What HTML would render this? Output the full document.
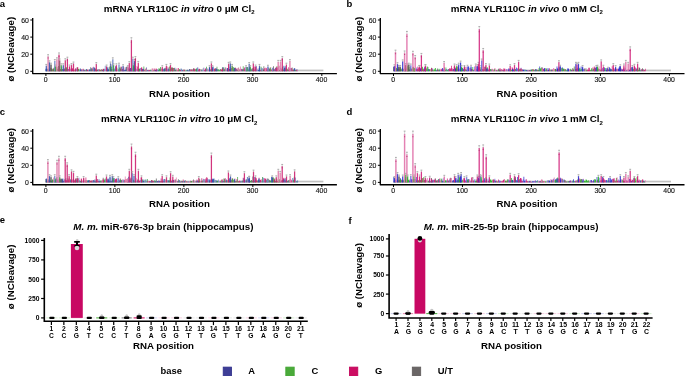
<!DOCTYPE html>
<html><head><meta charset="utf-8"><style>
html,body{margin:0;padding:0;background:#fff;}
svg{display:block;font-family:"Liberation Sans", sans-serif;will-change:transform;}
</style></head><body>
<svg width="685" height="376" viewBox="0 0 685 376">
<rect width="685" height="376" fill="#fff"/>
<text x="-0.30" y="6.90" font-size="9.5" font-weight="bold" text-anchor="start" fill="#000">a</text>
<text x="179.20" y="12.00" font-size="9.8" font-weight="bold" text-anchor="middle">mRNA YLR110C <tspan font-style="italic">in vitro</tspan> 0 μM Cl<tspan font-size="6" dy="2.3">2</tspan></text>
<text transform="translate(14.00,49.20) rotate(-90)" font-size="9.7" font-weight="bold" text-anchor="middle" x="0" y="0">ø (NCleavage)</text>
<rect x="45.60" y="69.60" width="277.78" height="1.70" fill="#c0c0c0"/>
<path d="M45.50 68.64h0.80v2.66h-0.80zM46.19 68.79h0.80v2.51h-0.80zM46.88 68.94h0.80v2.36h-0.80zM53.78 67.41h0.80v3.89h-0.80zM59.30 66.53h0.80v4.77h-0.80zM61.37 66.47h0.80v4.83h-0.80zM64.12 68.57h0.80v2.73h-0.80zM64.81 68.66h0.80v2.64h-0.80zM66.19 68.30h0.80v3.00h-0.80zM66.88 68.92h0.80v2.38h-0.80zM68.26 68.99h0.80v2.31h-0.80zM71.02 68.81h0.80v2.49h-0.80zM79.99 68.50h0.80v2.80h-0.80zM80.68 69.69h0.80v1.61h-0.80zM83.44 69.62h0.80v1.68h-0.80zM84.13 70.24h0.80v1.06h-0.80zM86.20 69.06h0.80v2.24h-0.80zM88.96 69.49h0.80v1.81h-0.80zM89.65 69.27h0.80v2.03h-0.80zM91.03 68.34h0.80v2.96h-0.80zM102.06 70.09h0.80v1.21h-0.80zM102.75 69.60h0.80v1.70h-0.80zM107.58 69.43h0.80v1.87h-0.80zM108.27 69.15h0.80v2.15h-0.80zM113.79 68.39h0.80v2.91h-0.80zM115.17 66.28h0.80v5.02h-0.80zM117.93 69.61h0.80v1.69h-0.80zM121.38 66.90h0.80v4.40h-0.80zM124.14 69.96h0.80v1.34h-0.80zM124.83 69.65h0.80v1.65h-0.80zM125.52 67.21h0.80v4.09h-0.80zM128.28 68.28h0.80v3.02h-0.80zM129.66 69.32h0.80v1.98h-0.80zM131.72 69.55h0.80v1.75h-0.80zM134.48 69.89h0.80v1.41h-0.80zM137.93 68.74h0.80v2.56h-0.80zM138.62 69.09h0.80v2.21h-0.80zM146.21 67.46h0.80v3.84h-0.80zM146.90 70.52h0.80v0.78h-0.80zM147.59 70.06h0.80v1.24h-0.80zM149.66 70.27h0.80v1.03h-0.80zM154.49 69.94h0.80v1.36h-0.80zM155.18 70.01h0.80v1.29h-0.80zM155.87 70.54h0.80v0.76h-0.80zM156.56 69.78h0.80v1.52h-0.80zM157.94 69.80h0.80v1.50h-0.80zM162.08 69.17h0.80v2.13h-0.80zM164.84 67.84h0.80v3.46h-0.80zM169.66 68.97h0.80v2.33h-0.80zM174.49 67.82h0.80v3.48h-0.80zM180.70 68.50h0.80v2.80h-0.80zM182.08 69.92h0.80v1.38h-0.80zM186.91 69.63h0.80v1.67h-0.80zM187.60 70.54h0.80v0.76h-0.80zM188.29 70.45h0.80v0.85h-0.80zM188.98 69.05h0.80v2.25h-0.80zM196.57 68.55h0.80v2.75h-0.80zM197.26 70.18h0.80v1.12h-0.80zM201.39 70.24h0.80v1.06h-0.80zM204.84 70.12h0.80v1.18h-0.80zM208.98 67.32h0.80v3.98h-0.80zM209.67 70.12h0.80v1.18h-0.80zM217.26 69.18h0.80v2.12h-0.80zM222.09 67.37h0.80v3.93h-0.80zM223.47 67.51h0.80v3.79h-0.80zM228.99 69.05h0.80v2.25h-0.80zM229.68 66.84h0.80v4.46h-0.80zM230.37 69.21h0.80v2.09h-0.80zM233.13 69.51h0.80v1.79h-0.80zM233.82 67.89h0.80v3.41h-0.80zM235.88 69.01h0.80v2.29h-0.80zM240.71 68.65h0.80v2.65h-0.80zM242.09 69.19h0.80v2.11h-0.80zM246.92 66.94h0.80v4.36h-0.80zM251.06 69.22h0.80v2.08h-0.80zM253.13 67.50h0.80v3.80h-0.80zM255.89 66.24h0.80v5.06h-0.80zM257.96 69.93h0.80v1.37h-0.80zM258.65 68.28h0.80v3.02h-0.80zM267.62 66.71h0.80v4.59h-0.80zM269.00 68.79h0.80v2.51h-0.80zM273.82 69.35h0.80v1.95h-0.80zM275.20 67.95h0.80v3.35h-0.80zM280.03 67.91h0.80v3.39h-0.80zM283.48 65.85h0.80v5.45h-0.80zM284.86 66.19h0.80v5.11h-0.80zM287.62 70.02h0.80v1.28h-0.80zM289.69 68.12h0.80v3.18h-0.80zM293.83 68.06h0.80v3.24h-0.80zM294.52 68.60h0.80v2.70h-0.80zM296.59 69.20h0.80v2.10h-0.80z" fill="#2f4aa8" fill-opacity="0.9"/>
<path d="M47.57 68.52h0.80v2.78h-0.80zM51.02 68.28h0.80v3.02h-0.80zM51.71 69.44h0.80v1.86h-0.80zM57.23 68.65h0.80v2.65h-0.80zM57.92 65.99h0.80v5.31h-0.80zM74.47 69.95h0.80v1.35h-0.80zM77.23 68.45h0.80v2.85h-0.80zM77.92 68.93h0.80v2.37h-0.80zM78.61 68.69h0.80v2.61h-0.80zM85.51 69.82h0.80v1.48h-0.80zM91.72 68.64h0.80v2.66h-0.80zM99.99 69.99h0.80v1.31h-0.80zM101.37 69.32h0.80v1.98h-0.80zM103.44 68.88h0.80v2.42h-0.80zM106.89 69.44h0.80v1.86h-0.80zM108.96 66.63h0.80v4.67h-0.80zM111.72 69.46h0.80v1.84h-0.80zM112.41 69.07h0.80v2.23h-0.80zM113.10 69.57h0.80v1.73h-0.80zM116.55 67.81h0.80v3.49h-0.80zM118.62 68.85h0.80v2.45h-0.80zM128.97 69.37h0.80v1.93h-0.80zM141.38 69.36h0.80v1.94h-0.80zM143.45 66.59h0.80v4.71h-0.80zM145.52 69.11h0.80v2.19h-0.80zM150.35 69.84h0.80v1.46h-0.80zM153.11 70.23h0.80v1.07h-0.80zM158.63 68.08h0.80v3.22h-0.80zM159.32 68.95h0.80v2.35h-0.80zM160.01 67.00h0.80v4.30h-0.80zM163.46 69.21h0.80v2.09h-0.80zM165.53 68.50h0.80v2.80h-0.80zM168.97 66.51h0.80v4.79h-0.80zM171.04 67.57h0.80v3.73h-0.80zM171.73 67.41h0.80v3.89h-0.80zM173.11 68.06h0.80v3.24h-0.80zM175.87 69.44h0.80v1.86h-0.80zM178.63 69.78h0.80v1.52h-0.80zM179.32 69.08h0.80v2.22h-0.80zM184.84 70.43h0.80v0.87h-0.80zM186.22 70.23h0.80v1.07h-0.80zM195.88 69.75h0.80v1.55h-0.80zM198.64 68.94h0.80v2.36h-0.80zM200.70 69.27h0.80v2.03h-0.80zM206.22 66.81h0.80v4.49h-0.80zM210.36 69.29h0.80v2.01h-0.80zM211.74 69.29h0.80v2.01h-0.80zM216.57 66.67h0.80v4.63h-0.80zM217.95 69.26h0.80v2.04h-0.80zM218.64 70.50h0.80v0.80h-0.80zM219.33 69.84h0.80v1.46h-0.80zM220.02 68.90h0.80v2.40h-0.80zM222.78 67.18h0.80v4.12h-0.80zM226.92 69.48h0.80v1.82h-0.80zM228.30 69.67h0.80v1.63h-0.80zM234.51 67.49h0.80v3.81h-0.80zM237.26 69.75h0.80v1.55h-0.80zM237.95 67.69h0.80v3.61h-0.80zM242.78 66.15h0.80v5.15h-0.80zM246.23 70.29h0.80v1.01h-0.80zM248.30 69.49h0.80v1.81h-0.80zM249.68 66.40h0.80v4.90h-0.80zM251.75 67.98h0.80v3.32h-0.80zM254.51 69.38h0.80v1.92h-0.80zM260.72 66.85h0.80v4.45h-0.80zM269.69 69.11h0.80v2.19h-0.80zM276.58 66.08h0.80v5.22h-0.80zM279.34 69.98h0.80v1.32h-0.80zM282.10 66.71h0.80v4.59h-0.80zM286.93 68.78h0.80v2.52h-0.80zM295.21 70.06h0.80v1.24h-0.80z" fill="#3aa03a" fill-opacity="0.9"/>
<path d="M48.26 70.17h0.80v1.13h-0.80zM54.47 70.10h0.80v1.20h-0.80zM56.54 67.06h0.80v4.24h-0.80zM60.68 69.15h0.80v2.15h-0.80zM62.06 68.97h0.80v2.33h-0.80zM76.54 67.60h0.80v3.70h-0.80zM90.34 67.16h0.80v4.14h-0.80zM95.17 68.55h0.80v2.75h-0.80zM96.55 70.32h0.80v0.98h-0.80zM97.23 69.42h0.80v1.88h-0.80zM98.61 69.34h0.80v1.96h-0.80zM126.21 66.68h0.80v4.62h-0.80zM126.90 66.75h0.80v4.55h-0.80zM135.17 68.36h0.80v2.94h-0.80zM144.83 69.40h0.80v1.90h-0.80zM160.70 68.51h0.80v2.79h-0.80zM164.15 68.57h0.80v2.73h-0.80zM167.59 70.11h0.80v1.19h-0.80zM173.80 67.89h0.80v3.41h-0.80zM175.18 69.64h0.80v1.66h-0.80zM183.46 69.44h0.80v1.86h-0.80zM189.67 68.97h0.80v2.33h-0.80zM192.43 69.26h0.80v2.04h-0.80zM193.12 68.36h0.80v2.94h-0.80zM195.19 69.14h0.80v2.16h-0.80zM211.05 69.51h0.80v1.79h-0.80zM214.50 69.42h0.80v1.88h-0.80zM215.19 68.16h0.80v3.14h-0.80zM224.16 69.28h0.80v2.02h-0.80zM224.85 67.62h0.80v3.68h-0.80zM239.33 69.58h0.80v1.72h-0.80zM243.47 68.78h0.80v2.52h-0.80zM252.44 68.75h0.80v2.55h-0.80zM259.34 67.74h0.80v3.56h-0.80zM261.41 69.38h0.80v1.92h-0.80zM262.79 69.58h0.80v1.72h-0.80zM263.48 66.21h0.80v5.09h-0.80zM266.93 69.43h0.80v1.87h-0.80zM272.44 68.55h0.80v2.75h-0.80zM273.13 66.24h0.80v5.06h-0.80zM281.41 69.51h0.80v1.79h-0.80zM282.79 69.57h0.80v1.73h-0.80zM291.76 67.40h0.80v3.90h-0.80zM293.14 69.54h0.80v1.76h-0.80z" fill="#5a5a5a" fill-opacity="0.9"/>
<path d="M48.95 69.57h0.80v1.73h-0.80zM50.33 67.74h0.80v3.56h-0.80zM52.40 69.29h0.80v2.01h-0.80zM53.09 68.57h0.80v2.73h-0.80zM55.16 69.87h0.80v1.43h-0.80zM58.61 69.44h0.80v1.86h-0.80zM59.99 68.98h0.80v2.32h-0.80zM63.43 68.98h0.80v2.32h-0.80zM71.71 68.15h0.80v3.15h-0.80zM72.40 68.57h0.80v2.73h-0.80zM73.09 70.10h0.80v1.20h-0.80zM75.16 68.13h0.80v3.17h-0.80zM81.37 69.35h0.80v1.95h-0.80zM82.75 68.85h0.80v2.45h-0.80zM84.82 70.40h0.80v0.90h-0.80zM86.89 69.80h0.80v1.50h-0.80zM87.58 69.60h0.80v1.70h-0.80zM92.41 67.51h0.80v3.79h-0.80zM94.48 68.74h0.80v2.56h-0.80zM95.86 70.06h0.80v1.24h-0.80zM99.30 69.38h0.80v1.92h-0.80zM100.68 69.62h0.80v1.68h-0.80zM110.34 68.66h0.80v2.64h-0.80zM111.03 69.04h0.80v2.26h-0.80zM115.86 67.31h0.80v3.99h-0.80zM120.00 68.84h0.80v2.46h-0.80zM120.69 66.50h0.80v4.80h-0.80zM122.07 68.90h0.80v2.40h-0.80zM123.45 67.27h0.80v4.03h-0.80zM132.41 68.23h0.80v3.07h-0.80zM133.10 67.17h0.80v4.13h-0.80zM133.79 66.40h0.80v4.90h-0.80zM137.24 66.79h0.80v4.51h-0.80zM142.07 69.26h0.80v2.04h-0.80zM142.76 69.03h0.80v2.27h-0.80zM144.14 70.13h0.80v1.17h-0.80zM148.28 70.14h0.80v1.16h-0.80zM148.97 69.95h0.80v1.35h-0.80zM153.80 68.53h0.80v2.77h-0.80zM177.25 70.31h0.80v0.99h-0.80zM177.94 67.94h0.80v3.36h-0.80zM180.01 70.03h0.80v1.27h-0.80zM182.77 70.60h0.80v0.70h-0.80zM184.15 69.87h0.80v1.43h-0.80zM190.36 70.32h0.80v0.98h-0.80zM191.05 69.37h0.80v1.93h-0.80zM191.74 70.42h0.80v0.88h-0.80zM197.95 70.25h0.80v1.05h-0.80zM204.15 70.10h0.80v1.20h-0.80zM212.43 68.48h0.80v2.82h-0.80zM220.71 69.86h0.80v1.44h-0.80zM221.40 69.43h0.80v1.87h-0.80zM227.61 68.84h0.80v2.46h-0.80zM231.06 67.99h0.80v3.31h-0.80zM235.19 67.86h0.80v3.44h-0.80zM236.57 68.24h0.80v3.06h-0.80zM241.40 68.99h0.80v2.31h-0.80zM244.16 67.49h0.80v3.81h-0.80zM244.85 69.39h0.80v1.91h-0.80zM253.82 66.45h0.80v4.85h-0.80zM260.03 70.18h0.80v1.12h-0.80zM264.17 68.23h0.80v3.07h-0.80zM265.55 69.44h0.80v1.86h-0.80zM266.24 68.03h0.80v3.27h-0.80zM268.31 67.88h0.80v3.42h-0.80zM271.06 69.62h0.80v1.68h-0.80zM271.75 69.48h0.80v1.82h-0.80zM274.51 68.82h0.80v2.48h-0.80zM277.27 67.57h0.80v3.73h-0.80zM278.65 65.85h0.80v5.45h-0.80zM284.17 69.64h0.80v1.66h-0.80zM285.55 67.93h0.80v3.37h-0.80zM288.31 67.18h0.80v4.12h-0.80zM289.00 68.92h0.80v2.38h-0.80zM291.07 68.08h0.80v3.22h-0.80zM292.45 69.77h0.80v1.53h-0.80zM295.90 69.64h0.80v1.66h-0.80z" fill="#cc1a6c" fill-opacity="0.9"/>
<path d="M49.64 69.11h0.80v2.19h-0.80zM55.85 66.47h0.80v4.83h-0.80zM65.50 67.47h0.80v3.83h-0.80zM67.57 69.44h0.80v1.86h-0.80zM68.95 66.86h0.80v4.44h-0.80zM70.33 68.55h0.80v2.75h-0.80zM73.78 69.86h0.80v1.44h-0.80zM93.79 67.21h0.80v4.09h-0.80zM105.51 69.18h0.80v2.12h-0.80zM109.65 66.48h0.80v4.82h-0.80zM117.24 70.06h0.80v1.24h-0.80zM130.35 70.06h0.80v1.24h-0.80zM136.55 66.05h0.80v5.25h-0.80zM139.31 69.54h0.80v1.76h-0.80zM140.69 67.91h0.80v3.39h-0.80zM152.42 69.93h0.80v1.37h-0.80zM161.39 69.09h0.80v2.21h-0.80zM166.90 66.44h0.80v4.86h-0.80zM168.28 67.23h0.80v4.07h-0.80zM170.35 70.19h0.80v1.11h-0.80zM172.42 69.23h0.80v2.07h-0.80zM176.56 68.10h0.80v3.20h-0.80zM193.81 70.31h0.80v0.99h-0.80zM194.50 70.05h0.80v1.25h-0.80zM200.02 69.33h0.80v1.97h-0.80zM202.77 67.99h0.80v3.31h-0.80zM207.60 68.84h0.80v2.46h-0.80zM208.29 69.83h0.80v1.47h-0.80zM213.81 69.40h0.80v1.90h-0.80zM215.88 68.23h0.80v3.07h-0.80zM225.54 67.55h0.80v3.75h-0.80zM226.23 69.83h0.80v1.47h-0.80zM231.75 65.81h0.80v5.49h-0.80zM232.44 67.23h0.80v4.07h-0.80zM238.64 69.13h0.80v2.17h-0.80zM240.02 66.47h0.80v4.83h-0.80zM245.54 66.77h0.80v4.53h-0.80zM250.37 69.26h0.80v2.04h-0.80zM255.20 68.87h0.80v2.43h-0.80zM256.58 68.36h0.80v2.94h-0.80zM262.10 69.32h0.80v1.98h-0.80zM264.86 68.37h0.80v2.93h-0.80zM270.37 66.93h0.80v4.37h-0.80zM275.89 69.04h0.80v2.26h-0.80zM280.72 67.86h0.80v3.44h-0.80zM286.24 68.64h0.80v2.66h-0.80zM297.28 70.36h0.80v0.94h-0.80z" fill="#e07aaa" fill-opacity="0.9"/>
<path d="M62.74 69.88h0.80v1.42h-0.80zM69.64 69.24h0.80v2.06h-0.80zM75.85 69.06h0.80v2.24h-0.80zM79.30 70.09h0.80v1.21h-0.80zM82.06 69.75h0.80v1.55h-0.80zM88.27 70.16h0.80v1.14h-0.80zM93.10 66.71h0.80v4.59h-0.80zM97.92 69.33h0.80v1.97h-0.80zM104.13 68.67h0.80v2.63h-0.80zM104.82 65.72h0.80v5.58h-0.80zM106.20 67.34h0.80v3.96h-0.80zM114.48 69.93h0.80v1.37h-0.80zM119.31 68.20h0.80v3.10h-0.80zM122.76 70.18h0.80v1.12h-0.80zM127.59 66.59h0.80v4.71h-0.80zM131.04 67.57h0.80v3.73h-0.80zM135.86 68.73h0.80v2.57h-0.80zM140.00 68.00h0.80v3.30h-0.80zM151.04 70.32h0.80v0.98h-0.80zM151.73 70.00h0.80v1.30h-0.80zM157.25 69.24h0.80v2.06h-0.80zM162.77 69.62h0.80v1.68h-0.80zM166.21 68.40h0.80v2.90h-0.80zM181.39 69.10h0.80v2.20h-0.80zM185.53 70.59h0.80v0.71h-0.80zM199.33 69.47h0.80v1.83h-0.80zM202.08 69.41h0.80v1.89h-0.80zM203.46 67.48h0.80v3.82h-0.80zM205.53 68.21h0.80v3.09h-0.80zM206.91 68.54h0.80v2.76h-0.80zM213.12 66.58h0.80v4.72h-0.80zM247.61 67.58h0.80v3.72h-0.80zM248.99 67.37h0.80v3.93h-0.80zM257.27 69.59h0.80v1.71h-0.80zM277.96 67.15h0.80v4.15h-0.80zM290.38 69.41h0.80v1.89h-0.80z" fill="#7088c8" fill-opacity="0.9"/>
<rect x="45.70" y="65.70" width="1.20" height="5.60" fill="#2f4aa8" fill-opacity="0.88"/>
<line x1="46.30" y1="64.50" x2="46.30" y2="66.30" stroke="#b0b0b0" stroke-width="0.5" stroke-linecap="butt"/>
<rect x="45.40" y="63.90" width="1.80" height="1.10" fill="#a8a8a8" fill-opacity="0.9"/>
<rect x="47.38" y="56.30" width="1.45" height="15.00" fill="#e07aaa" fill-opacity="0.88"/>
<line x1="48.10" y1="54.77" x2="48.10" y2="56.90" stroke="#b0b0b0" stroke-width="0.5" stroke-linecap="butt"/>
<rect x="47.20" y="54.17" width="1.80" height="1.10" fill="#a8a8a8" fill-opacity="0.9"/>
<rect x="47.50" y="57.52" width="1.20" height="0.90" fill="#b0306a" fill-opacity="0.8"/>
<rect x="48.90" y="62.20" width="1.20" height="9.10" fill="#2f4aa8" fill-opacity="0.88"/>
<line x1="49.50" y1="60.88" x2="49.50" y2="62.80" stroke="#b0b0b0" stroke-width="0.5" stroke-linecap="butt"/>
<rect x="48.60" y="60.28" width="1.80" height="1.10" fill="#a8a8a8" fill-opacity="0.9"/>
<rect x="50.20" y="64.50" width="1.60" height="6.80" fill="#5a5a5a" fill-opacity="0.88"/>
<line x1="51.00" y1="63.26" x2="51.00" y2="65.10" stroke="#b0b0b0" stroke-width="0.5" stroke-linecap="butt"/>
<rect x="50.10" y="62.66" width="1.80" height="1.10" fill="#a8a8a8" fill-opacity="0.9"/>
<rect x="52.50" y="68.60" width="1.20" height="2.70" fill="#3aa03a" fill-opacity="0.88"/>
<rect x="54.10" y="61.00" width="1.40" height="10.30" fill="#7088c8" fill-opacity="0.88"/>
<line x1="54.80" y1="59.64" x2="54.80" y2="61.60" stroke="#b0b0b0" stroke-width="0.5" stroke-linecap="butt"/>
<rect x="53.90" y="59.04" width="1.80" height="1.10" fill="#a8a8a8" fill-opacity="0.9"/>
<rect x="54.90" y="66.30" width="1.20" height="5.00" fill="#3aa03a" fill-opacity="0.88"/>
<line x1="55.50" y1="65.12" x2="55.50" y2="66.90" stroke="#b0b0b0" stroke-width="0.5" stroke-linecap="butt"/>
<rect x="54.60" y="64.52" width="1.80" height="1.10" fill="#a8a8a8" fill-opacity="0.9"/>
<rect x="56.17" y="59.30" width="1.45" height="12.00" fill="#e07aaa" fill-opacity="0.88"/>
<line x1="56.90" y1="57.88" x2="56.90" y2="59.90" stroke="#b0b0b0" stroke-width="0.5" stroke-linecap="butt"/>
<rect x="56.00" y="57.28" width="1.80" height="1.10" fill="#a8a8a8" fill-opacity="0.9"/>
<rect x="58.38" y="54.60" width="1.25" height="16.70" fill="#cc1a6c" fill-opacity="0.88"/>
<line x1="59.00" y1="53.02" x2="59.00" y2="55.20" stroke="#b0b0b0" stroke-width="0.5" stroke-linecap="butt"/>
<rect x="58.10" y="52.42" width="1.80" height="1.10" fill="#a8a8a8" fill-opacity="0.9"/>
<rect x="58.40" y="55.88" width="1.20" height="0.90" fill="#b0306a" fill-opacity="0.8"/>
<rect x="58.80" y="60.40" width="1.60" height="10.90" fill="#8a5a6a" fill-opacity="0.88"/>
<line x1="59.60" y1="59.02" x2="59.60" y2="61.00" stroke="#b0b0b0" stroke-width="0.5" stroke-linecap="butt"/>
<rect x="58.70" y="58.42" width="1.80" height="1.10" fill="#a8a8a8" fill-opacity="0.9"/>
<rect x="60.70" y="65.10" width="1.20" height="6.20" fill="#3aa03a" fill-opacity="0.88"/>
<line x1="61.30" y1="63.88" x2="61.30" y2="65.70" stroke="#b0b0b0" stroke-width="0.5" stroke-linecap="butt"/>
<rect x="60.40" y="63.28" width="1.80" height="1.10" fill="#a8a8a8" fill-opacity="0.9"/>
<rect x="62.70" y="65.10" width="1.20" height="6.20" fill="#2f4aa8" fill-opacity="0.88"/>
<line x1="63.30" y1="63.88" x2="63.30" y2="65.70" stroke="#b0b0b0" stroke-width="0.5" stroke-linecap="butt"/>
<rect x="62.40" y="63.28" width="1.80" height="1.10" fill="#a8a8a8" fill-opacity="0.9"/>
<rect x="64.67" y="60.20" width="1.25" height="11.10" fill="#cc1a6c" fill-opacity="0.88"/>
<line x1="65.30" y1="58.81" x2="65.30" y2="60.80" stroke="#b0b0b0" stroke-width="0.5" stroke-linecap="butt"/>
<rect x="64.40" y="58.21" width="1.80" height="1.10" fill="#a8a8a8" fill-opacity="0.9"/>
<rect x="65.60" y="67.20" width="1.20" height="4.10" fill="#3aa03a" fill-opacity="0.88"/>
<rect x="66.78" y="58.70" width="1.25" height="12.60" fill="#cc1a6c" fill-opacity="0.88"/>
<line x1="67.40" y1="57.26" x2="67.40" y2="59.30" stroke="#b0b0b0" stroke-width="0.5" stroke-linecap="butt"/>
<rect x="66.50" y="56.66" width="1.80" height="1.10" fill="#a8a8a8" fill-opacity="0.9"/>
<rect x="66.80" y="59.84" width="1.20" height="0.90" fill="#b0306a" fill-opacity="0.8"/>
<rect x="68.88" y="66.30" width="1.25" height="5.00" fill="#cc1a6c" fill-opacity="0.88"/>
<line x1="69.50" y1="65.12" x2="69.50" y2="66.90" stroke="#b0b0b0" stroke-width="0.5" stroke-linecap="butt"/>
<rect x="68.60" y="64.52" width="1.80" height="1.10" fill="#a8a8a8" fill-opacity="0.9"/>
<rect x="70.88" y="64.90" width="1.25" height="6.40" fill="#cc1a6c" fill-opacity="0.88"/>
<line x1="71.50" y1="63.68" x2="71.50" y2="65.50" stroke="#b0b0b0" stroke-width="0.5" stroke-linecap="butt"/>
<rect x="70.60" y="63.08" width="1.80" height="1.10" fill="#a8a8a8" fill-opacity="0.9"/>
<rect x="72.88" y="63.40" width="1.25" height="7.90" fill="#cc1a6c" fill-opacity="0.88"/>
<line x1="73.50" y1="62.12" x2="73.50" y2="64.00" stroke="#b0b0b0" stroke-width="0.5" stroke-linecap="butt"/>
<rect x="72.60" y="61.52" width="1.80" height="1.10" fill="#a8a8a8" fill-opacity="0.9"/>
<rect x="74.78" y="69.20" width="1.25" height="2.10" fill="#cc1a6c" fill-opacity="0.88"/>
<rect x="76.97" y="67.20" width="1.25" height="4.10" fill="#cc1a6c" fill-opacity="0.88"/>
<rect x="93.70" y="67.70" width="1.20" height="3.60" fill="#2f4aa8" fill-opacity="0.88"/>
<rect x="95.67" y="63.90" width="1.25" height="7.40" fill="#cc1a6c" fill-opacity="0.88"/>
<line x1="96.30" y1="62.64" x2="96.30" y2="64.50" stroke="#b0b0b0" stroke-width="0.5" stroke-linecap="butt"/>
<rect x="95.40" y="62.04" width="1.80" height="1.10" fill="#a8a8a8" fill-opacity="0.9"/>
<rect x="102.78" y="68.80" width="1.25" height="2.50" fill="#cc1a6c" fill-opacity="0.88"/>
<rect x="105.97" y="66.30" width="1.25" height="5.00" fill="#cc1a6c" fill-opacity="0.88"/>
<line x1="106.60" y1="65.12" x2="106.60" y2="66.90" stroke="#b0b0b0" stroke-width="0.5" stroke-linecap="butt"/>
<rect x="105.70" y="64.52" width="1.80" height="1.10" fill="#a8a8a8" fill-opacity="0.9"/>
<rect x="107.20" y="67.40" width="1.20" height="3.90" fill="#2f4aa8" fill-opacity="0.88"/>
<rect x="109.90" y="63.40" width="1.20" height="7.90" fill="#2f4aa8" fill-opacity="0.88"/>
<line x1="110.50" y1="62.12" x2="110.50" y2="64.00" stroke="#b0b0b0" stroke-width="0.5" stroke-linecap="butt"/>
<rect x="109.60" y="61.52" width="1.80" height="1.10" fill="#a8a8a8" fill-opacity="0.9"/>
<rect x="110.70" y="66.30" width="1.20" height="5.00" fill="#3aa03a" fill-opacity="0.88"/>
<line x1="111.30" y1="65.12" x2="111.30" y2="66.90" stroke="#b0b0b0" stroke-width="0.5" stroke-linecap="butt"/>
<rect x="110.40" y="64.52" width="1.80" height="1.10" fill="#a8a8a8" fill-opacity="0.9"/>
<rect x="112.10" y="59.30" width="1.40" height="12.00" fill="#7088c8" fill-opacity="0.88"/>
<line x1="112.80" y1="57.88" x2="112.80" y2="59.90" stroke="#b0b0b0" stroke-width="0.5" stroke-linecap="butt"/>
<rect x="111.90" y="57.28" width="1.80" height="1.10" fill="#a8a8a8" fill-opacity="0.9"/>
<rect x="113.00" y="65.10" width="1.20" height="6.20" fill="#3aa03a" fill-opacity="0.88"/>
<line x1="113.60" y1="63.88" x2="113.60" y2="65.70" stroke="#b0b0b0" stroke-width="0.5" stroke-linecap="butt"/>
<rect x="112.70" y="63.28" width="1.80" height="1.10" fill="#a8a8a8" fill-opacity="0.9"/>
<rect x="115.78" y="65.10" width="1.25" height="6.20" fill="#cc1a6c" fill-opacity="0.88"/>
<line x1="116.40" y1="63.88" x2="116.40" y2="65.70" stroke="#b0b0b0" stroke-width="0.5" stroke-linecap="butt"/>
<rect x="115.50" y="63.28" width="1.80" height="1.10" fill="#a8a8a8" fill-opacity="0.9"/>
<rect x="118.30" y="64.50" width="1.40" height="6.80" fill="#7088c8" fill-opacity="0.88"/>
<line x1="119.00" y1="63.26" x2="119.00" y2="65.10" stroke="#b0b0b0" stroke-width="0.5" stroke-linecap="butt"/>
<rect x="118.10" y="62.66" width="1.80" height="1.10" fill="#a8a8a8" fill-opacity="0.9"/>
<rect x="119.40" y="67.40" width="1.20" height="3.90" fill="#3aa03a" fill-opacity="0.88"/>
<rect x="122.50" y="66.00" width="1.20" height="5.30" fill="#2f4aa8" fill-opacity="0.88"/>
<line x1="123.10" y1="64.81" x2="123.10" y2="66.60" stroke="#b0b0b0" stroke-width="0.5" stroke-linecap="butt"/>
<rect x="122.20" y="64.21" width="1.80" height="1.10" fill="#a8a8a8" fill-opacity="0.9"/>
<rect x="127.08" y="66.90" width="1.45" height="4.40" fill="#e07aaa" fill-opacity="0.88"/>
<line x1="127.80" y1="65.75" x2="127.80" y2="67.50" stroke="#b0b0b0" stroke-width="0.5" stroke-linecap="butt"/>
<rect x="126.90" y="65.15" width="1.80" height="1.10" fill="#a8a8a8" fill-opacity="0.9"/>
<rect x="128.68" y="63.00" width="1.25" height="8.30" fill="#cc1a6c" fill-opacity="0.88"/>
<line x1="129.30" y1="61.71" x2="129.30" y2="63.60" stroke="#b0b0b0" stroke-width="0.5" stroke-linecap="butt"/>
<rect x="128.40" y="61.11" width="1.80" height="1.10" fill="#a8a8a8" fill-opacity="0.9"/>
<rect x="129.90" y="68.00" width="1.20" height="3.30" fill="#2f4aa8" fill-opacity="0.88"/>
<rect x="130.78" y="39.90" width="1.25" height="31.40" fill="#cc1a6c" fill-opacity="0.88"/>
<line x1="131.40" y1="37.80" x2="131.40" y2="40.50" stroke="#b0b0b0" stroke-width="0.5" stroke-linecap="butt"/>
<rect x="130.50" y="37.20" width="1.80" height="1.10" fill="#a8a8a8" fill-opacity="0.9"/>
<rect x="130.80" y="41.70" width="1.20" height="0.90" fill="#b0306a" fill-opacity="0.8"/>
<rect x="132.10" y="58.70" width="1.40" height="12.60" fill="#7088c8" fill-opacity="0.88"/>
<line x1="132.80" y1="57.26" x2="132.80" y2="59.30" stroke="#b0b0b0" stroke-width="0.5" stroke-linecap="butt"/>
<rect x="131.90" y="56.66" width="1.80" height="1.10" fill="#a8a8a8" fill-opacity="0.9"/>
<rect x="132.80" y="65.10" width="1.20" height="6.20" fill="#3aa03a" fill-opacity="0.88"/>
<line x1="133.40" y1="63.88" x2="133.40" y2="65.70" stroke="#b0b0b0" stroke-width="0.5" stroke-linecap="butt"/>
<rect x="132.50" y="63.28" width="1.80" height="1.10" fill="#a8a8a8" fill-opacity="0.9"/>
<rect x="133.90" y="61.00" width="1.20" height="10.30" fill="#2f4aa8" fill-opacity="0.88"/>
<line x1="134.50" y1="59.64" x2="134.50" y2="61.60" stroke="#b0b0b0" stroke-width="0.5" stroke-linecap="butt"/>
<rect x="133.60" y="59.04" width="1.80" height="1.10" fill="#a8a8a8" fill-opacity="0.9"/>
<rect x="134.78" y="58.10" width="1.25" height="13.20" fill="#cc1a6c" fill-opacity="0.88"/>
<line x1="135.40" y1="56.64" x2="135.40" y2="58.70" stroke="#b0b0b0" stroke-width="0.5" stroke-linecap="butt"/>
<rect x="134.50" y="56.04" width="1.80" height="1.10" fill="#a8a8a8" fill-opacity="0.9"/>
<rect x="134.80" y="59.26" width="1.20" height="0.90" fill="#b0306a" fill-opacity="0.8"/>
<rect x="137.68" y="62.80" width="1.25" height="8.50" fill="#cc1a6c" fill-opacity="0.88"/>
<line x1="138.30" y1="61.50" x2="138.30" y2="63.40" stroke="#b0b0b0" stroke-width="0.5" stroke-linecap="butt"/>
<rect x="137.40" y="60.90" width="1.80" height="1.10" fill="#a8a8a8" fill-opacity="0.9"/>
<rect x="138.90" y="68.60" width="1.20" height="2.70" fill="#3aa03a" fill-opacity="0.88"/>
<rect x="140.97" y="67.40" width="1.25" height="3.90" fill="#cc1a6c" fill-opacity="0.88"/>
<rect x="142.40" y="68.80" width="1.20" height="2.50" fill="#2f4aa8" fill-opacity="0.88"/>
<rect x="145.28" y="68.40" width="1.45" height="2.90" fill="#e07aaa" fill-opacity="0.88"/>
<rect x="151.68" y="68.40" width="1.45" height="2.90" fill="#e07aaa" fill-opacity="0.88"/>
<rect x="155.57" y="68.60" width="1.25" height="2.70" fill="#cc1a6c" fill-opacity="0.88"/>
<rect x="161.68" y="66.90" width="1.25" height="4.40" fill="#cc1a6c" fill-opacity="0.88"/>
<line x1="162.30" y1="65.75" x2="162.30" y2="67.50" stroke="#b0b0b0" stroke-width="0.5" stroke-linecap="butt"/>
<rect x="161.40" y="65.15" width="1.80" height="1.10" fill="#a8a8a8" fill-opacity="0.9"/>
<rect x="163.50" y="68.60" width="1.20" height="2.70" fill="#2f4aa8" fill-opacity="0.88"/>
<rect x="165.78" y="65.70" width="1.25" height="5.60" fill="#cc1a6c" fill-opacity="0.88"/>
<line x1="166.40" y1="64.50" x2="166.40" y2="66.30" stroke="#b0b0b0" stroke-width="0.5" stroke-linecap="butt"/>
<rect x="165.50" y="63.90" width="1.80" height="1.10" fill="#a8a8a8" fill-opacity="0.9"/>
<rect x="167.60" y="68.60" width="1.20" height="2.70" fill="#2f4aa8" fill-opacity="0.88"/>
<rect x="169.88" y="64.90" width="1.25" height="6.40" fill="#cc1a6c" fill-opacity="0.88"/>
<line x1="170.50" y1="63.68" x2="170.50" y2="65.50" stroke="#b0b0b0" stroke-width="0.5" stroke-linecap="butt"/>
<rect x="169.60" y="63.08" width="1.80" height="1.10" fill="#a8a8a8" fill-opacity="0.9"/>
<rect x="171.97" y="67.70" width="1.25" height="3.60" fill="#cc1a6c" fill-opacity="0.88"/>
<rect x="193.68" y="68.60" width="1.25" height="2.70" fill="#cc1a6c" fill-opacity="0.88"/>
<rect x="195.80" y="68.60" width="1.20" height="2.70" fill="#3aa03a" fill-opacity="0.88"/>
<rect x="196.90" y="67.40" width="1.40" height="3.90" fill="#7088c8" fill-opacity="0.88"/>
<rect x="198.68" y="68.80" width="1.25" height="2.50" fill="#cc1a6c" fill-opacity="0.88"/>
<rect x="204.88" y="68.60" width="1.25" height="2.70" fill="#cc1a6c" fill-opacity="0.88"/>
<rect x="208.90" y="66.90" width="1.20" height="4.40" fill="#2f4aa8" fill-opacity="0.88"/>
<line x1="209.50" y1="65.75" x2="209.50" y2="67.50" stroke="#b0b0b0" stroke-width="0.5" stroke-linecap="butt"/>
<rect x="208.60" y="65.15" width="1.80" height="1.10" fill="#a8a8a8" fill-opacity="0.9"/>
<rect x="210.78" y="63.30" width="1.25" height="8.00" fill="#cc1a6c" fill-opacity="0.88"/>
<line x1="211.40" y1="62.02" x2="211.40" y2="63.90" stroke="#b0b0b0" stroke-width="0.5" stroke-linecap="butt"/>
<rect x="210.50" y="61.42" width="1.80" height="1.10" fill="#a8a8a8" fill-opacity="0.9"/>
<rect x="211.90" y="66.90" width="1.20" height="4.40" fill="#2f4aa8" fill-opacity="0.88"/>
<line x1="212.50" y1="65.75" x2="212.50" y2="67.50" stroke="#b0b0b0" stroke-width="0.5" stroke-linecap="butt"/>
<rect x="211.60" y="65.15" width="1.80" height="1.10" fill="#a8a8a8" fill-opacity="0.9"/>
<rect x="213.88" y="68.60" width="1.25" height="2.70" fill="#cc1a6c" fill-opacity="0.88"/>
<rect x="215.70" y="68.60" width="1.20" height="2.70" fill="#2f4aa8" fill-opacity="0.88"/>
<rect x="221.78" y="68.60" width="1.25" height="2.70" fill="#cc1a6c" fill-opacity="0.88"/>
<rect x="226.80" y="68.00" width="1.20" height="3.30" fill="#2f4aa8" fill-opacity="0.88"/>
<rect x="227.97" y="63.70" width="1.25" height="7.60" fill="#cc1a6c" fill-opacity="0.88"/>
<line x1="228.60" y1="62.43" x2="228.60" y2="64.30" stroke="#b0b0b0" stroke-width="0.5" stroke-linecap="butt"/>
<rect x="227.70" y="61.83" width="1.80" height="1.10" fill="#a8a8a8" fill-opacity="0.9"/>
<rect x="229.70" y="63.30" width="1.20" height="8.00" fill="#2f4aa8" fill-opacity="0.88"/>
<line x1="230.30" y1="62.02" x2="230.30" y2="63.90" stroke="#b0b0b0" stroke-width="0.5" stroke-linecap="butt"/>
<rect x="229.40" y="61.42" width="1.80" height="1.10" fill="#a8a8a8" fill-opacity="0.9"/>
<rect x="231.50" y="65.70" width="1.20" height="5.60" fill="#3aa03a" fill-opacity="0.88"/>
<line x1="232.10" y1="64.50" x2="232.10" y2="66.30" stroke="#b0b0b0" stroke-width="0.5" stroke-linecap="butt"/>
<rect x="231.20" y="63.90" width="1.80" height="1.10" fill="#a8a8a8" fill-opacity="0.9"/>
<rect x="232.60" y="67.20" width="1.20" height="4.10" fill="#3aa03a" fill-opacity="0.88"/>
<rect x="234.20" y="68.00" width="1.20" height="3.30" fill="#2f4aa8" fill-opacity="0.88"/>
<rect x="237.78" y="67.70" width="1.45" height="3.60" fill="#e07aaa" fill-opacity="0.88"/>
<rect x="245.40" y="66.90" width="1.40" height="4.40" fill="#7088c8" fill-opacity="0.88"/>
<line x1="246.10" y1="65.75" x2="246.10" y2="67.50" stroke="#b0b0b0" stroke-width="0.5" stroke-linecap="butt"/>
<rect x="245.20" y="65.15" width="1.80" height="1.10" fill="#a8a8a8" fill-opacity="0.9"/>
<rect x="246.40" y="67.20" width="1.20" height="4.10" fill="#3aa03a" fill-opacity="0.88"/>
<rect x="248.60" y="63.90" width="1.20" height="7.40" fill="#2f4aa8" fill-opacity="0.88"/>
<line x1="249.20" y1="62.64" x2="249.20" y2="64.50" stroke="#b0b0b0" stroke-width="0.5" stroke-linecap="butt"/>
<rect x="248.30" y="62.04" width="1.80" height="1.10" fill="#a8a8a8" fill-opacity="0.9"/>
<rect x="249.70" y="66.90" width="1.20" height="4.40" fill="#3aa03a" fill-opacity="0.88"/>
<line x1="250.30" y1="65.75" x2="250.30" y2="67.50" stroke="#b0b0b0" stroke-width="0.5" stroke-linecap="butt"/>
<rect x="249.40" y="65.15" width="1.80" height="1.10" fill="#a8a8a8" fill-opacity="0.9"/>
<rect x="252.68" y="63.30" width="1.25" height="8.00" fill="#cc1a6c" fill-opacity="0.88"/>
<line x1="253.30" y1="62.02" x2="253.30" y2="63.90" stroke="#b0b0b0" stroke-width="0.5" stroke-linecap="butt"/>
<rect x="252.40" y="61.42" width="1.80" height="1.10" fill="#a8a8a8" fill-opacity="0.9"/>
<rect x="254.97" y="66.30" width="1.25" height="5.00" fill="#cc1a6c" fill-opacity="0.88"/>
<line x1="255.60" y1="65.12" x2="255.60" y2="66.90" stroke="#b0b0b0" stroke-width="0.5" stroke-linecap="butt"/>
<rect x="254.70" y="64.52" width="1.80" height="1.10" fill="#a8a8a8" fill-opacity="0.9"/>
<rect x="258.90" y="65.70" width="1.20" height="5.60" fill="#2f4aa8" fill-opacity="0.88"/>
<line x1="259.50" y1="64.50" x2="259.50" y2="66.30" stroke="#b0b0b0" stroke-width="0.5" stroke-linecap="butt"/>
<rect x="258.60" y="63.90" width="1.80" height="1.10" fill="#a8a8a8" fill-opacity="0.9"/>
<rect x="261.30" y="68.00" width="1.40" height="3.30" fill="#7088c8" fill-opacity="0.88"/>
<rect x="264.88" y="67.70" width="1.45" height="3.60" fill="#e07aaa" fill-opacity="0.88"/>
<rect x="267.20" y="66.50" width="1.40" height="4.80" fill="#7088c8" fill-opacity="0.88"/>
<line x1="267.90" y1="65.33" x2="267.90" y2="67.10" stroke="#b0b0b0" stroke-width="0.5" stroke-linecap="butt"/>
<rect x="267.00" y="64.73" width="1.80" height="1.10" fill="#a8a8a8" fill-opacity="0.9"/>
<rect x="269.60" y="67.70" width="1.20" height="3.60" fill="#3aa03a" fill-opacity="0.88"/>
<rect x="271.90" y="67.70" width="1.40" height="3.60" fill="#7088c8" fill-opacity="0.88"/>
<rect x="275.68" y="67.20" width="1.25" height="4.10" fill="#cc1a6c" fill-opacity="0.88"/>
<rect x="277.47" y="61.80" width="1.45" height="9.50" fill="#e07aaa" fill-opacity="0.88"/>
<line x1="278.20" y1="60.47" x2="278.20" y2="62.40" stroke="#b0b0b0" stroke-width="0.5" stroke-linecap="butt"/>
<rect x="277.30" y="59.87" width="1.80" height="1.10" fill="#a8a8a8" fill-opacity="0.9"/>
<rect x="279.77" y="61.80" width="1.45" height="9.50" fill="#e07aaa" fill-opacity="0.88"/>
<line x1="280.50" y1="60.47" x2="280.50" y2="62.40" stroke="#b0b0b0" stroke-width="0.5" stroke-linecap="butt"/>
<rect x="279.60" y="59.87" width="1.80" height="1.10" fill="#a8a8a8" fill-opacity="0.9"/>
<rect x="281.68" y="58.10" width="1.25" height="13.20" fill="#cc1a6c" fill-opacity="0.88"/>
<line x1="282.30" y1="56.64" x2="282.30" y2="58.70" stroke="#b0b0b0" stroke-width="0.5" stroke-linecap="butt"/>
<rect x="281.40" y="56.04" width="1.80" height="1.10" fill="#a8a8a8" fill-opacity="0.9"/>
<rect x="281.70" y="59.26" width="1.20" height="0.90" fill="#b0306a" fill-opacity="0.8"/>
<rect x="283.90" y="67.70" width="1.20" height="3.60" fill="#2f4aa8" fill-opacity="0.88"/>
<rect x="285.77" y="64.50" width="1.25" height="6.80" fill="#cc1a6c" fill-opacity="0.88"/>
<line x1="286.40" y1="63.26" x2="286.40" y2="65.10" stroke="#b0b0b0" stroke-width="0.5" stroke-linecap="butt"/>
<rect x="285.50" y="62.66" width="1.80" height="1.10" fill="#a8a8a8" fill-opacity="0.9"/>
<rect x="289.17" y="61.00" width="1.45" height="10.30" fill="#e07aaa" fill-opacity="0.88"/>
<line x1="289.90" y1="59.64" x2="289.90" y2="61.60" stroke="#b0b0b0" stroke-width="0.5" stroke-linecap="butt"/>
<rect x="289.00" y="59.04" width="1.80" height="1.10" fill="#a8a8a8" fill-opacity="0.9"/>
<path d="M32.70,17.90 L32.70,73.60 L336.90,73.60" fill="none" stroke="#000" stroke-width="1.35" stroke-linejoin="round"/>
<line x1="30.30" y1="71.30" x2="32.70" y2="71.30" stroke="#000" stroke-width="1.0" stroke-linecap="butt"/>
<text x="28.80" y="73.90" font-size="6.9" font-weight="normal" text-anchor="end" fill="#1a1a1a" stroke="#1a1a1a" stroke-width="0.15">0</text>
<line x1="30.30" y1="54.20" x2="32.70" y2="54.20" stroke="#000" stroke-width="1.0" stroke-linecap="butt"/>
<text x="28.80" y="56.80" font-size="6.9" font-weight="normal" text-anchor="end" fill="#1a1a1a" stroke="#1a1a1a" stroke-width="0.15">20</text>
<line x1="30.30" y1="37.10" x2="32.70" y2="37.10" stroke="#000" stroke-width="1.0" stroke-linecap="butt"/>
<text x="28.80" y="39.70" font-size="6.9" font-weight="normal" text-anchor="end" fill="#1a1a1a" stroke="#1a1a1a" stroke-width="0.15">40</text>
<line x1="30.30" y1="20.00" x2="32.70" y2="20.00" stroke="#000" stroke-width="1.0" stroke-linecap="butt"/>
<text x="28.80" y="22.60" font-size="6.9" font-weight="normal" text-anchor="end" fill="#1a1a1a" stroke="#1a1a1a" stroke-width="0.15">60</text>
<line x1="45.90" y1="73.60" x2="45.90" y2="76.00" stroke="#000" stroke-width="1.0" stroke-linecap="butt"/>
<text x="45.60" y="82.00" font-size="6.9" font-weight="normal" text-anchor="middle" fill="#1a1a1a" stroke="#1a1a1a" stroke-width="0.15">0</text>
<line x1="114.88" y1="73.60" x2="114.88" y2="76.00" stroke="#000" stroke-width="1.0" stroke-linecap="butt"/>
<text x="114.58" y="82.00" font-size="6.9" font-weight="normal" text-anchor="middle" fill="#1a1a1a" stroke="#1a1a1a" stroke-width="0.15">100</text>
<line x1="183.86" y1="73.60" x2="183.86" y2="76.00" stroke="#000" stroke-width="1.0" stroke-linecap="butt"/>
<text x="183.56" y="82.00" font-size="6.9" font-weight="normal" text-anchor="middle" fill="#1a1a1a" stroke="#1a1a1a" stroke-width="0.15">200</text>
<line x1="252.84" y1="73.60" x2="252.84" y2="76.00" stroke="#000" stroke-width="1.0" stroke-linecap="butt"/>
<text x="252.54" y="82.00" font-size="6.9" font-weight="normal" text-anchor="middle" fill="#1a1a1a" stroke="#1a1a1a" stroke-width="0.15">300</text>
<line x1="321.82" y1="73.60" x2="321.82" y2="76.00" stroke="#000" stroke-width="1.0" stroke-linecap="butt"/>
<text x="321.52" y="82.00" font-size="6.9" font-weight="normal" text-anchor="middle" fill="#1a1a1a" stroke="#1a1a1a" stroke-width="0.15">400</text>
<text x="179.40" y="97.40" font-size="9.7" font-weight="bold" text-anchor="middle" fill="#000">RNA position</text>
<text x="346.60" y="7.00" font-size="9.5" font-weight="bold" text-anchor="start" fill="#000">b</text>
<text x="526.80" y="12.00" font-size="9.8" font-weight="bold" text-anchor="middle">mRNA YLR110C <tspan font-style="italic">in vivo</tspan> 0 mM Cl<tspan font-size="6" dy="2.3">2</tspan></text>
<text transform="translate(361.60,49.20) rotate(-90)" font-size="9.7" font-weight="bold" text-anchor="middle" x="0" y="0">ø (NCleavage)</text>
<rect x="393.20" y="69.60" width="277.78" height="1.70" fill="#c0c0c0"/>
<path d="M393.10 66.81h0.80v4.49h-0.80zM393.79 67.48h0.80v3.82h-0.80zM401.38 69.23h0.80v2.07h-0.80zM411.72 68.43h0.80v2.87h-0.80zM424.83 68.87h0.80v2.43h-0.80zM427.59 66.96h0.80v4.34h-0.80zM436.56 70.42h0.80v0.88h-0.80zM437.25 68.44h0.80v2.86h-0.80zM448.28 69.04h0.80v2.26h-0.80zM452.42 69.46h0.80v1.84h-0.80zM463.46 69.32h0.80v1.98h-0.80zM464.15 65.51h0.80v5.79h-0.80zM477.26 69.85h0.80v1.45h-0.80zM488.29 69.67h0.80v1.63h-0.80zM489.67 69.03h0.80v2.27h-0.80zM497.95 68.85h0.80v2.45h-0.80zM507.61 69.72h0.80v1.58h-0.80zM522.09 69.60h0.80v1.70h-0.80zM526.92 70.47h0.80v0.83h-0.80zM528.99 70.00h0.80v1.30h-0.80zM535.20 69.05h0.80v2.25h-0.80zM537.96 69.97h0.80v1.33h-0.80zM546.24 68.74h0.80v2.56h-0.80zM559.34 68.35h0.80v2.95h-0.80zM564.86 69.02h0.80v2.28h-0.80zM569.69 69.38h0.80v1.92h-0.80zM572.45 67.90h0.80v3.40h-0.80zM573.14 69.55h0.80v1.75h-0.80zM576.59 69.00h0.80v2.30h-0.80zM584.17 68.48h0.80v2.82h-0.80zM585.55 68.28h0.80v3.02h-0.80zM595.21 68.06h0.80v3.24h-0.80zM596.59 67.12h0.80v4.18h-0.80zM597.97 68.46h0.80v2.84h-0.80zM601.42 69.55h0.80v1.75h-0.80zM602.80 69.38h0.80v1.92h-0.80zM605.56 69.84h0.80v1.46h-0.80zM607.63 66.79h0.80v4.51h-0.80zM608.32 69.46h0.80v1.84h-0.80zM615.91 68.72h0.80v2.58h-0.80zM628.32 69.25h0.80v2.05h-0.80zM631.08 67.29h0.80v4.01h-0.80zM638.67 67.22h0.80v4.08h-0.80zM639.36 68.02h0.80v3.28h-0.80zM642.12 68.26h0.80v3.04h-0.80zM642.81 69.29h0.80v2.01h-0.80z" fill="#5a5a5a" fill-opacity="0.9"/>
<path d="M394.48 69.11h0.80v2.19h-0.80zM415.86 68.87h0.80v2.43h-0.80zM425.52 67.56h0.80v3.74h-0.80zM446.21 69.11h0.80v2.19h-0.80zM447.59 69.31h0.80v1.99h-0.80zM457.94 66.26h0.80v5.04h-0.80zM475.88 69.10h0.80v2.20h-0.80zM491.05 69.55h0.80v1.75h-0.80zM500.02 70.17h0.80v1.13h-0.80zM506.23 68.90h0.80v2.40h-0.80zM514.50 69.10h0.80v2.20h-0.80zM516.57 67.98h0.80v3.32h-0.80zM517.26 68.85h0.80v2.45h-0.80zM520.71 67.82h0.80v3.48h-0.80zM524.16 69.75h0.80v1.55h-0.80zM525.54 69.63h0.80v1.67h-0.80zM544.86 69.80h0.80v1.50h-0.80zM560.03 65.85h0.80v5.45h-0.80zM580.04 70.07h0.80v1.23h-0.80zM582.79 68.80h0.80v2.50h-0.80zM583.48 69.14h0.80v2.16h-0.80zM602.11 68.08h0.80v3.22h-0.80zM630.39 67.91h0.80v3.39h-0.80z" fill="#6a6ae0" fill-opacity="0.9"/>
<path d="M395.17 66.30h0.80v5.00h-0.80zM402.07 67.71h0.80v3.59h-0.80zM404.83 69.27h0.80v2.03h-0.80zM408.97 69.47h0.80v1.83h-0.80zM416.55 67.50h0.80v3.80h-0.80zM419.31 69.03h0.80v2.27h-0.80zM420.00 68.41h0.80v2.89h-0.80zM420.69 67.96h0.80v3.34h-0.80zM424.14 67.34h0.80v3.96h-0.80zM428.28 69.07h0.80v2.23h-0.80zM431.73 68.47h0.80v2.83h-0.80zM435.87 70.36h0.80v0.94h-0.80zM439.32 69.70h0.80v1.60h-0.80zM442.08 68.06h0.80v3.24h-0.80zM442.77 68.81h0.80v2.49h-0.80zM443.46 70.19h0.80v1.11h-0.80zM453.11 69.00h0.80v2.30h-0.80zM456.56 68.82h0.80v2.48h-0.80zM458.63 68.54h0.80v2.76h-0.80zM462.08 68.01h0.80v3.29h-0.80zM462.77 68.81h0.80v2.49h-0.80zM466.22 69.78h0.80v1.52h-0.80zM467.60 67.10h0.80v4.20h-0.80zM468.29 66.30h0.80v5.00h-0.80zM473.12 69.93h0.80v1.37h-0.80zM474.50 66.57h0.80v4.73h-0.80zM476.57 66.82h0.80v4.48h-0.80zM477.95 67.47h0.80v3.83h-0.80zM478.64 66.91h0.80v4.39h-0.80zM480.01 69.45h0.80v1.85h-0.80zM484.84 66.82h0.80v4.48h-0.80zM486.22 68.74h0.80v2.56h-0.80zM495.88 70.45h0.80v0.85h-0.80zM499.33 69.73h0.80v1.57h-0.80zM502.78 69.96h0.80v1.34h-0.80zM508.30 68.62h0.80v2.68h-0.80zM508.99 68.68h0.80v2.62h-0.80zM513.13 69.47h0.80v1.83h-0.80zM513.82 69.66h0.80v1.64h-0.80zM515.88 67.45h0.80v3.85h-0.80zM518.64 69.52h0.80v1.78h-0.80zM522.78 69.79h0.80v1.51h-0.80zM523.47 69.56h0.80v1.74h-0.80zM526.23 69.90h0.80v1.40h-0.80zM527.61 70.48h0.80v0.82h-0.80zM530.37 69.66h0.80v1.64h-0.80zM534.51 70.34h0.80v0.96h-0.80zM535.89 69.18h0.80v2.12h-0.80zM539.34 66.48h0.80v4.82h-0.80zM542.10 67.65h0.80v3.65h-0.80zM547.62 67.94h0.80v3.36h-0.80zM548.30 69.69h0.80v1.61h-0.80zM551.06 69.86h0.80v1.44h-0.80zM555.20 68.93h0.80v2.37h-0.80zM556.58 66.39h0.80v4.91h-0.80zM557.27 69.37h0.80v1.93h-0.80zM558.65 66.69h0.80v4.61h-0.80zM562.10 67.43h0.80v3.87h-0.80zM566.24 70.46h0.80v0.84h-0.80zM567.62 68.37h0.80v2.93h-0.80zM568.31 69.23h0.80v2.07h-0.80zM571.07 69.92h0.80v1.38h-0.80zM579.35 68.47h0.80v2.83h-0.80zM580.73 66.61h0.80v4.69h-0.80zM591.76 69.85h0.80v1.45h-0.80zM594.52 69.00h0.80v2.30h-0.80zM603.49 70.23h0.80v1.07h-0.80zM604.18 67.52h0.80v3.78h-0.80zM606.25 70.06h0.80v1.24h-0.80zM609.01 67.37h0.80v3.93h-0.80zM609.70 70.20h0.80v1.10h-0.80zM611.08 69.34h0.80v1.96h-0.80zM613.84 69.61h0.80v1.69h-0.80zM617.97 68.72h0.80v2.58h-0.80zM618.66 67.41h0.80v3.89h-0.80zM619.35 66.17h0.80v5.13h-0.80zM621.42 69.16h0.80v2.14h-0.80zM622.11 69.56h0.80v1.74h-0.80zM624.18 69.75h0.80v1.55h-0.80zM624.87 67.77h0.80v3.53h-0.80zM626.25 69.97h0.80v1.33h-0.80zM627.63 70.08h0.80v1.22h-0.80zM629.01 69.95h0.80v1.35h-0.80zM629.70 69.58h0.80v1.72h-0.80zM634.53 69.44h0.80v1.86h-0.80zM635.91 68.44h0.80v2.86h-0.80zM640.74 69.72h0.80v1.58h-0.80z" fill="#2828cc" fill-opacity="0.9"/>
<path d="M395.86 69.30h0.80v2.00h-0.80zM396.55 68.88h0.80v2.42h-0.80zM397.24 69.01h0.80v2.29h-0.80zM399.31 68.66h0.80v2.64h-0.80zM405.52 69.14h0.80v2.16h-0.80zM406.90 66.42h0.80v4.88h-0.80zM408.28 67.50h0.80v3.80h-0.80zM411.03 68.67h0.80v2.63h-0.80zM413.10 66.87h0.80v4.43h-0.80zM415.17 68.89h0.80v2.41h-0.80zM417.93 67.63h0.80v3.67h-0.80zM421.38 67.19h0.80v4.11h-0.80zM423.45 69.23h0.80v2.07h-0.80zM433.11 70.47h0.80v0.83h-0.80zM437.94 69.89h0.80v1.41h-0.80zM440.70 68.83h0.80v2.47h-0.80zM441.39 69.51h0.80v1.79h-0.80zM444.15 67.33h0.80v3.97h-0.80zM444.84 69.78h0.80v1.52h-0.80zM448.97 68.36h0.80v2.94h-0.80zM449.66 69.31h0.80v1.99h-0.80zM450.35 68.35h0.80v2.95h-0.80zM451.04 65.83h0.80v5.47h-0.80zM451.73 68.19h0.80v3.11h-0.80zM453.80 66.72h0.80v4.58h-0.80zM455.18 68.63h0.80v2.67h-0.80zM455.87 67.29h0.80v4.01h-0.80zM457.25 66.69h0.80v4.61h-0.80zM460.70 68.10h0.80v3.20h-0.80zM465.53 66.63h0.80v4.67h-0.80zM471.05 68.82h0.80v2.48h-0.80zM471.74 68.90h0.80v2.40h-0.80zM479.33 67.59h0.80v3.71h-0.80zM480.70 67.15h0.80v4.15h-0.80zM482.08 68.99h0.80v2.31h-0.80zM482.77 70.37h0.80v0.93h-0.80zM484.15 66.77h0.80v4.53h-0.80zM487.60 68.56h0.80v2.74h-0.80zM488.98 69.43h0.80v1.87h-0.80zM491.74 68.86h0.80v2.44h-0.80zM493.12 70.48h0.80v0.82h-0.80zM494.50 68.35h0.80v2.95h-0.80zM496.57 69.89h0.80v1.41h-0.80zM501.40 68.88h0.80v2.42h-0.80zM502.09 70.33h0.80v0.97h-0.80zM504.16 68.94h0.80v2.36h-0.80zM505.54 70.46h0.80v0.84h-0.80zM511.75 67.26h0.80v4.04h-0.80zM512.44 68.35h0.80v2.95h-0.80zM517.95 68.36h0.80v2.94h-0.80zM521.40 69.35h0.80v1.95h-0.80zM528.30 70.49h0.80v0.81h-0.80zM529.68 70.47h0.80v0.83h-0.80zM532.44 68.93h0.80v2.37h-0.80zM533.13 69.47h0.80v1.83h-0.80zM537.27 69.81h0.80v1.49h-0.80zM542.79 68.91h0.80v2.39h-0.80zM543.48 68.71h0.80v2.59h-0.80zM546.93 70.13h0.80v1.17h-0.80zM548.99 68.35h0.80v2.95h-0.80zM550.37 70.45h0.80v0.85h-0.80zM551.75 69.28h0.80v2.02h-0.80zM554.51 68.87h0.80v2.43h-0.80zM555.89 69.81h0.80v1.49h-0.80zM560.72 68.26h0.80v3.04h-0.80zM564.17 69.33h0.80v1.97h-0.80zM571.76 69.38h0.80v1.92h-0.80zM575.21 69.07h0.80v2.23h-0.80zM577.28 67.63h0.80v3.67h-0.80zM582.11 68.50h0.80v2.80h-0.80zM586.93 69.40h0.80v1.90h-0.80zM587.62 69.90h0.80v1.40h-0.80zM588.31 67.77h0.80v3.53h-0.80zM589.00 67.79h0.80v3.51h-0.80zM589.69 69.88h0.80v1.42h-0.80zM592.45 67.43h0.80v3.87h-0.80zM593.83 66.49h0.80v4.81h-0.80zM599.35 69.02h0.80v2.28h-0.80zM606.94 68.60h0.80v2.70h-0.80zM611.77 66.22h0.80v5.08h-0.80zM613.15 67.96h0.80v3.34h-0.80zM614.53 68.16h0.80v3.14h-0.80zM615.22 68.62h0.80v2.68h-0.80zM617.28 68.68h0.80v2.62h-0.80zM620.73 68.56h0.80v2.74h-0.80zM622.80 68.75h0.80v2.55h-0.80zM623.49 67.54h0.80v3.76h-0.80zM632.46 69.28h0.80v2.02h-0.80zM633.84 66.72h0.80v4.58h-0.80zM635.22 67.46h0.80v3.84h-0.80zM641.43 69.09h0.80v2.21h-0.80zM643.50 70.21h0.80v1.09h-0.80zM644.19 70.09h0.80v1.21h-0.80zM644.88 68.74h0.80v2.56h-0.80z" fill="#d01a76" fill-opacity="0.9"/>
<path d="M397.93 69.04h0.80v2.26h-0.80zM398.62 67.54h0.80v3.76h-0.80zM400.00 68.67h0.80v2.63h-0.80zM400.69 68.41h0.80v2.89h-0.80zM402.76 68.93h0.80v2.37h-0.80zM404.14 67.82h0.80v3.48h-0.80zM407.59 67.70h0.80v3.60h-0.80zM409.66 67.04h0.80v4.26h-0.80zM410.35 68.41h0.80v2.89h-0.80zM412.41 67.00h0.80v4.30h-0.80zM413.79 70.03h0.80v1.27h-0.80zM418.62 69.29h0.80v2.01h-0.80zM422.07 66.77h0.80v4.53h-0.80zM422.76 68.44h0.80v2.86h-0.80zM426.21 68.52h0.80v2.78h-0.80zM426.90 66.43h0.80v4.87h-0.80zM428.97 69.37h0.80v1.93h-0.80zM429.66 69.14h0.80v2.16h-0.80zM431.04 67.69h0.80v3.61h-0.80zM432.42 69.70h0.80v1.60h-0.80zM433.80 68.64h0.80v2.66h-0.80zM434.49 70.29h0.80v1.01h-0.80zM435.18 68.03h0.80v3.27h-0.80zM438.63 68.80h0.80v2.50h-0.80zM445.52 67.56h0.80v3.74h-0.80zM446.90 69.88h0.80v1.42h-0.80zM454.49 67.24h0.80v4.06h-0.80zM460.01 69.93h0.80v1.37h-0.80zM461.39 67.92h0.80v3.38h-0.80zM464.84 69.29h0.80v2.01h-0.80zM469.67 67.95h0.80v3.35h-0.80zM472.43 66.89h0.80v4.41h-0.80zM483.46 69.19h0.80v2.11h-0.80zM485.53 66.59h0.80v4.71h-0.80zM486.91 67.16h0.80v4.14h-0.80zM490.36 68.93h0.80v2.37h-0.80zM493.81 69.35h0.80v1.95h-0.80zM497.26 70.74h0.80v0.56h-0.80zM498.64 69.68h0.80v1.62h-0.80zM500.71 70.72h0.80v0.58h-0.80zM503.47 70.67h0.80v0.63h-0.80zM510.37 69.28h0.80v2.02h-0.80zM511.06 70.09h0.80v1.21h-0.80zM515.19 68.99h0.80v2.31h-0.80zM519.33 68.68h0.80v2.62h-0.80zM520.02 69.24h0.80v2.06h-0.80zM524.85 69.74h0.80v1.56h-0.80zM531.06 69.47h0.80v1.83h-0.80zM531.75 69.42h0.80v1.88h-0.80zM533.82 69.83h0.80v1.47h-0.80zM536.58 70.01h0.80v1.29h-0.80zM538.65 67.99h0.80v3.31h-0.80zM540.03 68.48h0.80v2.82h-0.80zM540.72 67.99h0.80v3.31h-0.80zM541.41 67.34h0.80v3.96h-0.80zM544.17 69.90h0.80v1.40h-0.80zM545.55 67.95h0.80v3.35h-0.80zM549.68 69.39h0.80v1.91h-0.80zM552.44 70.27h0.80v1.03h-0.80zM557.96 68.64h0.80v2.66h-0.80zM561.41 67.84h0.80v3.46h-0.80zM562.79 68.85h0.80v2.45h-0.80zM563.48 68.49h0.80v2.81h-0.80zM565.55 69.67h0.80v1.63h-0.80zM566.93 70.30h0.80v1.00h-0.80zM570.38 68.86h0.80v2.44h-0.80zM573.83 66.38h0.80v4.92h-0.80zM575.90 68.69h0.80v2.61h-0.80zM577.97 69.00h0.80v2.30h-0.80zM581.42 68.91h0.80v2.39h-0.80zM586.24 70.19h0.80v1.11h-0.80zM590.38 70.06h0.80v1.24h-0.80zM591.07 68.13h0.80v3.17h-0.80zM593.14 68.75h0.80v2.55h-0.80zM597.28 69.39h0.80v1.91h-0.80zM600.04 70.25h0.80v1.05h-0.80zM604.87 67.89h0.80v3.41h-0.80zM610.39 68.96h0.80v2.34h-0.80zM612.46 69.66h0.80v1.64h-0.80zM620.04 67.18h0.80v4.12h-0.80zM625.56 70.31h0.80v0.99h-0.80zM633.15 68.71h0.80v2.59h-0.80zM636.60 68.81h0.80v2.49h-0.80zM637.29 68.42h0.80v2.88h-0.80zM637.98 70.10h0.80v1.20h-0.80zM640.05 70.54h0.80v0.76h-0.80z" fill="#22b822" fill-opacity="0.9"/>
<path d="M403.45 68.59h0.80v2.71h-0.80zM406.21 67.71h0.80v3.59h-0.80zM414.48 68.62h0.80v2.68h-0.80zM417.24 66.44h0.80v4.86h-0.80zM430.35 69.51h0.80v1.79h-0.80zM440.01 69.95h0.80v1.35h-0.80zM459.32 69.76h0.80v1.54h-0.80zM466.91 68.62h0.80v2.68h-0.80zM468.98 67.80h0.80v3.50h-0.80zM470.36 68.86h0.80v2.44h-0.80zM473.81 68.92h0.80v2.38h-0.80zM475.19 68.47h0.80v2.83h-0.80zM481.39 69.20h0.80v2.10h-0.80zM492.43 69.54h0.80v1.76h-0.80zM495.19 70.13h0.80v1.17h-0.80zM504.85 68.80h0.80v2.50h-0.80zM506.92 69.14h0.80v2.16h-0.80zM509.68 68.26h0.80v3.04h-0.80zM553.13 67.93h0.80v3.37h-0.80zM553.82 69.61h0.80v1.69h-0.80zM569.00 69.84h0.80v1.46h-0.80zM574.52 66.70h0.80v4.60h-0.80zM578.66 67.55h0.80v3.75h-0.80zM584.86 69.58h0.80v1.72h-0.80zM595.90 69.06h0.80v2.24h-0.80zM598.66 66.34h0.80v4.96h-0.80zM600.73 69.68h0.80v1.62h-0.80zM616.60 68.63h0.80v2.67h-0.80zM626.94 69.44h0.80v1.86h-0.80zM631.77 69.97h0.80v1.33h-0.80z" fill="#e070a8" fill-opacity="0.9"/>
<rect x="395.90" y="67.90" width="1.20" height="3.40" fill="#22b822" fill-opacity="0.88"/>
<rect x="398.00" y="66.70" width="1.60" height="4.60" fill="#5a5a5a" fill-opacity="0.88"/>
<line x1="398.80" y1="65.54" x2="398.80" y2="67.30" stroke="#b0b0b0" stroke-width="0.5" stroke-linecap="butt"/>
<rect x="397.90" y="64.94" width="1.80" height="1.10" fill="#a8a8a8" fill-opacity="0.9"/>
<rect x="399.40" y="66.70" width="1.60" height="4.60" fill="#5a5a5a" fill-opacity="0.88"/>
<line x1="400.20" y1="65.54" x2="400.20" y2="67.30" stroke="#b0b0b0" stroke-width="0.5" stroke-linecap="butt"/>
<rect x="399.30" y="64.94" width="1.80" height="1.10" fill="#a8a8a8" fill-opacity="0.9"/>
<rect x="404.70" y="64.90" width="1.60" height="6.40" fill="#8a4a6a" fill-opacity="0.88"/>
<line x1="405.50" y1="63.68" x2="405.50" y2="65.50" stroke="#b0b0b0" stroke-width="0.5" stroke-linecap="butt"/>
<rect x="404.60" y="63.08" width="1.80" height="1.10" fill="#a8a8a8" fill-opacity="0.9"/>
<rect x="407.00" y="65.20" width="1.20" height="6.10" fill="#22b822" fill-opacity="0.88"/>
<line x1="407.60" y1="63.99" x2="407.60" y2="65.80" stroke="#b0b0b0" stroke-width="0.5" stroke-linecap="butt"/>
<rect x="406.70" y="63.39" width="1.80" height="1.10" fill="#a8a8a8" fill-opacity="0.9"/>
<rect x="408.00" y="64.50" width="1.60" height="6.80" fill="#5a5a5a" fill-opacity="0.88"/>
<line x1="408.80" y1="63.26" x2="408.80" y2="65.10" stroke="#b0b0b0" stroke-width="0.5" stroke-linecap="butt"/>
<rect x="407.90" y="62.66" width="1.80" height="1.10" fill="#a8a8a8" fill-opacity="0.9"/>
<rect x="413.60" y="67.90" width="1.20" height="3.40" fill="#22b822" fill-opacity="0.88"/>
<rect x="416.77" y="69.10" width="1.25" height="2.20" fill="#d01a76" fill-opacity="0.88"/>
<rect x="418.68" y="66.70" width="1.25" height="4.60" fill="#d01a76" fill-opacity="0.88"/>
<line x1="419.30" y1="65.54" x2="419.30" y2="67.30" stroke="#b0b0b0" stroke-width="0.5" stroke-linecap="butt"/>
<rect x="418.40" y="64.94" width="1.80" height="1.10" fill="#a8a8a8" fill-opacity="0.9"/>
<rect x="422.77" y="69.60" width="1.25" height="1.70" fill="#d01a76" fill-opacity="0.88"/>
<rect x="424.88" y="65.90" width="1.25" height="5.40" fill="#d01a76" fill-opacity="0.88"/>
<line x1="425.50" y1="64.71" x2="425.50" y2="66.50" stroke="#b0b0b0" stroke-width="0.5" stroke-linecap="butt"/>
<rect x="424.60" y="64.11" width="1.80" height="1.10" fill="#a8a8a8" fill-opacity="0.9"/>
<rect x="393.80" y="66.00" width="1.20" height="5.30" fill="#2828cc" fill-opacity="0.88"/>
<line x1="394.40" y1="64.81" x2="394.40" y2="66.60" stroke="#b0b0b0" stroke-width="0.5" stroke-linecap="butt"/>
<rect x="393.50" y="64.21" width="1.80" height="1.10" fill="#a8a8a8" fill-opacity="0.9"/>
<rect x="394.77" y="51.90" width="1.45" height="19.40" fill="#e070a8" fill-opacity="0.88"/>
<line x1="395.50" y1="50.22" x2="395.50" y2="52.50" stroke="#b0b0b0" stroke-width="0.5" stroke-linecap="butt"/>
<rect x="394.60" y="49.62" width="1.80" height="1.10" fill="#a8a8a8" fill-opacity="0.9"/>
<rect x="394.90" y="53.28" width="1.20" height="0.90" fill="#b0306a" fill-opacity="0.8"/>
<rect x="396.90" y="64.00" width="1.20" height="7.30" fill="#2828cc" fill-opacity="0.88"/>
<line x1="397.50" y1="62.74" x2="397.50" y2="64.60" stroke="#b0b0b0" stroke-width="0.5" stroke-linecap="butt"/>
<rect x="396.60" y="62.14" width="1.80" height="1.10" fill="#a8a8a8" fill-opacity="0.9"/>
<rect x="402.10" y="61.30" width="1.20" height="10.00" fill="#2828cc" fill-opacity="0.88"/>
<line x1="402.70" y1="59.95" x2="402.70" y2="61.90" stroke="#b0b0b0" stroke-width="0.5" stroke-linecap="butt"/>
<rect x="401.80" y="59.35" width="1.80" height="1.10" fill="#a8a8a8" fill-opacity="0.9"/>
<rect x="403.88" y="52.70" width="1.45" height="18.60" fill="#e070a8" fill-opacity="0.88"/>
<line x1="404.60" y1="51.05" x2="404.60" y2="53.30" stroke="#b0b0b0" stroke-width="0.5" stroke-linecap="butt"/>
<rect x="403.70" y="50.45" width="1.80" height="1.10" fill="#a8a8a8" fill-opacity="0.9"/>
<rect x="404.00" y="54.05" width="1.20" height="0.90" fill="#b0306a" fill-opacity="0.8"/>
<rect x="406.17" y="33.80" width="1.45" height="37.50" fill="#e070a8" fill-opacity="0.88"/>
<line x1="406.90" y1="31.49" x2="406.90" y2="34.40" stroke="#b0b0b0" stroke-width="0.5" stroke-linecap="butt"/>
<rect x="406.00" y="30.89" width="1.80" height="1.10" fill="#a8a8a8" fill-opacity="0.9"/>
<rect x="406.30" y="35.81" width="1.20" height="0.90" fill="#b0306a" fill-opacity="0.8"/>
<rect x="410.10" y="65.30" width="1.40" height="6.00" fill="#6a6ae0" fill-opacity="0.88"/>
<line x1="410.80" y1="64.09" x2="410.80" y2="65.90" stroke="#b0b0b0" stroke-width="0.5" stroke-linecap="butt"/>
<rect x="409.90" y="63.49" width="1.80" height="1.10" fill="#a8a8a8" fill-opacity="0.9"/>
<rect x="412.17" y="53.00" width="1.45" height="18.30" fill="#e070a8" fill-opacity="0.88"/>
<line x1="412.90" y1="51.36" x2="412.90" y2="53.60" stroke="#b0b0b0" stroke-width="0.5" stroke-linecap="butt"/>
<rect x="412.00" y="50.76" width="1.80" height="1.10" fill="#a8a8a8" fill-opacity="0.9"/>
<rect x="412.30" y="54.34" width="1.20" height="0.90" fill="#b0306a" fill-opacity="0.8"/>
<rect x="413.70" y="68.40" width="1.20" height="2.90" fill="#22b822" fill-opacity="0.88"/>
<rect x="414.47" y="57.10" width="1.45" height="14.20" fill="#e070a8" fill-opacity="0.88"/>
<line x1="415.20" y1="55.60" x2="415.20" y2="57.70" stroke="#b0b0b0" stroke-width="0.5" stroke-linecap="butt"/>
<rect x="414.30" y="55.00" width="1.80" height="1.10" fill="#a8a8a8" fill-opacity="0.9"/>
<rect x="414.60" y="58.30" width="1.20" height="0.90" fill="#b0306a" fill-opacity="0.8"/>
<rect x="418.88" y="66.80" width="1.25" height="4.50" fill="#d01a76" fill-opacity="0.88"/>
<line x1="419.50" y1="65.64" x2="419.50" y2="67.40" stroke="#b0b0b0" stroke-width="0.5" stroke-linecap="butt"/>
<rect x="418.60" y="65.04" width="1.80" height="1.10" fill="#a8a8a8" fill-opacity="0.9"/>
<rect x="420.77" y="55.10" width="1.25" height="16.20" fill="#d01a76" fill-opacity="0.88"/>
<line x1="421.40" y1="53.53" x2="421.40" y2="55.70" stroke="#b0b0b0" stroke-width="0.5" stroke-linecap="butt"/>
<rect x="420.50" y="52.93" width="1.80" height="1.10" fill="#a8a8a8" fill-opacity="0.9"/>
<rect x="420.80" y="56.37" width="1.20" height="0.90" fill="#b0306a" fill-opacity="0.8"/>
<rect x="424.77" y="66.00" width="1.25" height="5.30" fill="#d01a76" fill-opacity="0.88"/>
<line x1="425.40" y1="64.81" x2="425.40" y2="66.60" stroke="#b0b0b0" stroke-width="0.5" stroke-linecap="butt"/>
<rect x="424.50" y="64.21" width="1.80" height="1.10" fill="#a8a8a8" fill-opacity="0.9"/>
<rect x="430.98" y="68.10" width="1.25" height="3.20" fill="#d01a76" fill-opacity="0.88"/>
<rect x="443.38" y="62.90" width="1.45" height="8.40" fill="#e070a8" fill-opacity="0.88"/>
<line x1="444.10" y1="61.61" x2="444.10" y2="63.50" stroke="#b0b0b0" stroke-width="0.5" stroke-linecap="butt"/>
<rect x="443.20" y="61.01" width="1.80" height="1.10" fill="#a8a8a8" fill-opacity="0.9"/>
<rect x="453.88" y="65.30" width="1.25" height="6.00" fill="#d01a76" fill-opacity="0.88"/>
<line x1="454.50" y1="64.09" x2="454.50" y2="65.90" stroke="#b0b0b0" stroke-width="0.5" stroke-linecap="butt"/>
<rect x="453.60" y="63.49" width="1.80" height="1.10" fill="#a8a8a8" fill-opacity="0.9"/>
<rect x="455.00" y="68.40" width="1.20" height="2.90" fill="#2828cc" fill-opacity="0.88"/>
<rect x="456.10" y="66.00" width="1.20" height="5.30" fill="#22b822" fill-opacity="0.88"/>
<line x1="456.70" y1="64.81" x2="456.70" y2="66.60" stroke="#b0b0b0" stroke-width="0.5" stroke-linecap="butt"/>
<rect x="455.80" y="64.21" width="1.80" height="1.10" fill="#a8a8a8" fill-opacity="0.9"/>
<rect x="458.10" y="64.50" width="1.20" height="6.80" fill="#2828cc" fill-opacity="0.88"/>
<line x1="458.70" y1="63.26" x2="458.70" y2="65.10" stroke="#b0b0b0" stroke-width="0.5" stroke-linecap="butt"/>
<rect x="457.80" y="62.66" width="1.80" height="1.10" fill="#a8a8a8" fill-opacity="0.9"/>
<rect x="460.00" y="62.50" width="1.20" height="8.80" fill="#2828cc" fill-opacity="0.88"/>
<line x1="460.60" y1="61.19" x2="460.60" y2="63.10" stroke="#b0b0b0" stroke-width="0.5" stroke-linecap="butt"/>
<rect x="459.70" y="60.59" width="1.80" height="1.10" fill="#a8a8a8" fill-opacity="0.9"/>
<rect x="461.00" y="66.80" width="1.20" height="4.50" fill="#22b822" fill-opacity="0.88"/>
<line x1="461.60" y1="65.64" x2="461.60" y2="67.40" stroke="#b0b0b0" stroke-width="0.5" stroke-linecap="butt"/>
<rect x="460.70" y="65.04" width="1.80" height="1.10" fill="#a8a8a8" fill-opacity="0.9"/>
<rect x="463.77" y="66.80" width="1.25" height="4.50" fill="#d01a76" fill-opacity="0.88"/>
<line x1="464.40" y1="65.64" x2="464.40" y2="67.40" stroke="#b0b0b0" stroke-width="0.5" stroke-linecap="butt"/>
<rect x="463.50" y="65.04" width="1.80" height="1.10" fill="#a8a8a8" fill-opacity="0.9"/>
<rect x="466.80" y="66.50" width="1.40" height="4.80" fill="#6a6ae0" fill-opacity="0.88"/>
<line x1="467.50" y1="65.33" x2="467.50" y2="67.10" stroke="#b0b0b0" stroke-width="0.5" stroke-linecap="butt"/>
<rect x="466.60" y="64.73" width="1.80" height="1.10" fill="#a8a8a8" fill-opacity="0.9"/>
<rect x="470.40" y="66.50" width="1.20" height="4.80" fill="#2828cc" fill-opacity="0.88"/>
<line x1="471.00" y1="65.33" x2="471.00" y2="67.10" stroke="#b0b0b0" stroke-width="0.5" stroke-linecap="butt"/>
<rect x="470.10" y="64.73" width="1.80" height="1.10" fill="#a8a8a8" fill-opacity="0.9"/>
<rect x="474.97" y="65.30" width="1.45" height="6.00" fill="#e070a8" fill-opacity="0.88"/>
<line x1="475.70" y1="64.09" x2="475.70" y2="65.90" stroke="#b0b0b0" stroke-width="0.5" stroke-linecap="butt"/>
<rect x="474.80" y="63.49" width="1.80" height="1.10" fill="#a8a8a8" fill-opacity="0.9"/>
<rect x="476.70" y="66.00" width="1.20" height="5.30" fill="#2828cc" fill-opacity="0.88"/>
<line x1="477.30" y1="64.81" x2="477.30" y2="66.60" stroke="#b0b0b0" stroke-width="0.5" stroke-linecap="butt"/>
<rect x="476.40" y="64.21" width="1.80" height="1.10" fill="#a8a8a8" fill-opacity="0.9"/>
<rect x="477.88" y="63.70" width="1.25" height="7.60" fill="#d01a76" fill-opacity="0.88"/>
<line x1="478.50" y1="62.43" x2="478.50" y2="64.30" stroke="#b0b0b0" stroke-width="0.5" stroke-linecap="butt"/>
<rect x="477.60" y="61.83" width="1.80" height="1.10" fill="#a8a8a8" fill-opacity="0.9"/>
<rect x="478.68" y="29.10" width="1.25" height="42.20" fill="#d01a76" fill-opacity="0.88"/>
<line x1="479.30" y1="26.62" x2="479.30" y2="29.70" stroke="#b0b0b0" stroke-width="0.5" stroke-linecap="butt"/>
<rect x="478.40" y="26.02" width="1.80" height="1.10" fill="#a8a8a8" fill-opacity="0.9"/>
<rect x="478.70" y="31.28" width="1.20" height="0.90" fill="#b0306a" fill-opacity="0.8"/>
<rect x="480.60" y="66.80" width="1.20" height="4.50" fill="#22b822" fill-opacity="0.88"/>
<line x1="481.20" y1="65.64" x2="481.20" y2="67.40" stroke="#b0b0b0" stroke-width="0.5" stroke-linecap="butt"/>
<rect x="480.30" y="65.04" width="1.80" height="1.10" fill="#a8a8a8" fill-opacity="0.9"/>
<rect x="481.00" y="60.50" width="1.40" height="10.80" fill="#6a6ae0" fill-opacity="0.88"/>
<line x1="481.70" y1="59.12" x2="481.70" y2="61.10" stroke="#b0b0b0" stroke-width="0.5" stroke-linecap="butt"/>
<rect x="480.80" y="58.52" width="1.80" height="1.10" fill="#a8a8a8" fill-opacity="0.9"/>
<rect x="482.57" y="50.30" width="1.25" height="21.00" fill="#d01a76" fill-opacity="0.88"/>
<line x1="483.20" y1="48.56" x2="483.20" y2="50.90" stroke="#b0b0b0" stroke-width="0.5" stroke-linecap="butt"/>
<rect x="482.30" y="47.96" width="1.80" height="1.10" fill="#a8a8a8" fill-opacity="0.9"/>
<rect x="482.60" y="51.73" width="1.20" height="0.90" fill="#b0306a" fill-opacity="0.8"/>
<rect x="485.27" y="64.90" width="1.25" height="6.40" fill="#d01a76" fill-opacity="0.88"/>
<line x1="485.90" y1="63.68" x2="485.90" y2="65.50" stroke="#b0b0b0" stroke-width="0.5" stroke-linecap="butt"/>
<rect x="485.00" y="63.08" width="1.80" height="1.10" fill="#a8a8a8" fill-opacity="0.9"/>
<rect x="486.40" y="68.40" width="1.20" height="2.90" fill="#2828cc" fill-opacity="0.88"/>
<rect x="488.77" y="65.30" width="1.25" height="6.00" fill="#d01a76" fill-opacity="0.88"/>
<line x1="489.40" y1="64.09" x2="489.40" y2="65.90" stroke="#b0b0b0" stroke-width="0.5" stroke-linecap="butt"/>
<rect x="488.50" y="63.49" width="1.80" height="1.10" fill="#a8a8a8" fill-opacity="0.9"/>
<rect x="499.38" y="68.40" width="1.25" height="2.90" fill="#d01a76" fill-opacity="0.88"/>
<rect x="503.38" y="68.40" width="1.25" height="2.90" fill="#d01a76" fill-opacity="0.88"/>
<rect x="509.57" y="66.00" width="1.25" height="5.30" fill="#d01a76" fill-opacity="0.88"/>
<line x1="510.20" y1="64.81" x2="510.20" y2="66.60" stroke="#b0b0b0" stroke-width="0.5" stroke-linecap="butt"/>
<rect x="509.30" y="64.21" width="1.80" height="1.10" fill="#a8a8a8" fill-opacity="0.9"/>
<rect x="512.00" y="69.20" width="1.20" height="2.10" fill="#2828cc" fill-opacity="0.88"/>
<rect x="513.88" y="64.90" width="1.25" height="6.40" fill="#d01a76" fill-opacity="0.88"/>
<line x1="514.50" y1="63.68" x2="514.50" y2="65.50" stroke="#b0b0b0" stroke-width="0.5" stroke-linecap="butt"/>
<rect x="513.60" y="63.08" width="1.80" height="1.10" fill="#a8a8a8" fill-opacity="0.9"/>
<rect x="517.98" y="61.80" width="1.25" height="9.50" fill="#d01a76" fill-opacity="0.88"/>
<line x1="518.60" y1="60.47" x2="518.60" y2="62.40" stroke="#b0b0b0" stroke-width="0.5" stroke-linecap="butt"/>
<rect x="517.70" y="59.87" width="1.80" height="1.10" fill="#a8a8a8" fill-opacity="0.9"/>
<rect x="520.27" y="68.40" width="1.25" height="2.90" fill="#d01a76" fill-opacity="0.88"/>
<rect x="541.38" y="67.60" width="1.45" height="3.70" fill="#e070a8" fill-opacity="0.88"/>
<rect x="543.90" y="68.10" width="1.20" height="3.20" fill="#2828cc" fill-opacity="0.88"/>
<rect x="554.90" y="69.20" width="1.20" height="2.10" fill="#22b822" fill-opacity="0.88"/>
<rect x="556.90" y="68.40" width="1.20" height="2.90" fill="#2828cc" fill-opacity="0.88"/>
<rect x="558.27" y="62.10" width="1.25" height="9.20" fill="#d01a76" fill-opacity="0.88"/>
<line x1="558.90" y1="60.78" x2="558.90" y2="62.70" stroke="#b0b0b0" stroke-width="0.5" stroke-linecap="butt"/>
<rect x="558.00" y="60.18" width="1.80" height="1.10" fill="#a8a8a8" fill-opacity="0.9"/>
<rect x="559.60" y="66.50" width="1.20" height="4.80" fill="#2828cc" fill-opacity="0.88"/>
<line x1="560.20" y1="65.33" x2="560.20" y2="67.10" stroke="#b0b0b0" stroke-width="0.5" stroke-linecap="butt"/>
<rect x="559.30" y="64.73" width="1.80" height="1.10" fill="#a8a8a8" fill-opacity="0.9"/>
<rect x="567.40" y="68.70" width="1.20" height="2.60" fill="#2828cc" fill-opacity="0.88"/>
<rect x="575.30" y="63.70" width="1.20" height="7.60" fill="#2828cc" fill-opacity="0.88"/>
<line x1="575.90" y1="62.43" x2="575.90" y2="64.30" stroke="#b0b0b0" stroke-width="0.5" stroke-linecap="butt"/>
<rect x="575.00" y="61.83" width="1.80" height="1.10" fill="#a8a8a8" fill-opacity="0.9"/>
<rect x="576.38" y="64.50" width="1.25" height="6.80" fill="#d01a76" fill-opacity="0.88"/>
<line x1="577.00" y1="63.26" x2="577.00" y2="65.10" stroke="#b0b0b0" stroke-width="0.5" stroke-linecap="butt"/>
<rect x="576.10" y="62.66" width="1.80" height="1.10" fill="#a8a8a8" fill-opacity="0.9"/>
<rect x="577.90" y="63.70" width="1.20" height="7.60" fill="#2828cc" fill-opacity="0.88"/>
<line x1="578.50" y1="62.43" x2="578.50" y2="64.30" stroke="#b0b0b0" stroke-width="0.5" stroke-linecap="butt"/>
<rect x="577.60" y="61.83" width="1.80" height="1.10" fill="#a8a8a8" fill-opacity="0.9"/>
<rect x="579.20" y="68.40" width="1.20" height="2.90" fill="#22b822" fill-opacity="0.88"/>
<rect x="582.00" y="66.80" width="1.20" height="4.50" fill="#2828cc" fill-opacity="0.88"/>
<line x1="582.60" y1="65.64" x2="582.60" y2="67.40" stroke="#b0b0b0" stroke-width="0.5" stroke-linecap="butt"/>
<rect x="581.70" y="65.04" width="1.80" height="1.10" fill="#a8a8a8" fill-opacity="0.9"/>
<rect x="594.08" y="67.60" width="1.25" height="3.70" fill="#d01a76" fill-opacity="0.88"/>
<rect x="595.70" y="66.80" width="1.20" height="4.50" fill="#2828cc" fill-opacity="0.88"/>
<line x1="596.30" y1="65.64" x2="596.30" y2="67.40" stroke="#b0b0b0" stroke-width="0.5" stroke-linecap="butt"/>
<rect x="595.40" y="65.04" width="1.80" height="1.10" fill="#a8a8a8" fill-opacity="0.9"/>
<rect x="596.90" y="66.50" width="1.20" height="4.80" fill="#22b822" fill-opacity="0.88"/>
<line x1="597.50" y1="65.33" x2="597.50" y2="67.10" stroke="#b0b0b0" stroke-width="0.5" stroke-linecap="butt"/>
<rect x="596.60" y="64.73" width="1.80" height="1.10" fill="#a8a8a8" fill-opacity="0.9"/>
<rect x="600.58" y="61.30" width="1.25" height="10.00" fill="#d01a76" fill-opacity="0.88"/>
<line x1="601.20" y1="59.95" x2="601.20" y2="61.90" stroke="#b0b0b0" stroke-width="0.5" stroke-linecap="butt"/>
<rect x="600.30" y="59.35" width="1.80" height="1.10" fill="#a8a8a8" fill-opacity="0.9"/>
<rect x="602.77" y="66.50" width="1.25" height="4.80" fill="#d01a76" fill-opacity="0.88"/>
<line x1="603.40" y1="65.33" x2="603.40" y2="67.10" stroke="#b0b0b0" stroke-width="0.5" stroke-linecap="butt"/>
<rect x="602.50" y="64.73" width="1.80" height="1.10" fill="#a8a8a8" fill-opacity="0.9"/>
<rect x="606.40" y="68.10" width="1.20" height="3.20" fill="#2828cc" fill-opacity="0.88"/>
<rect x="609.50" y="68.40" width="1.20" height="2.90" fill="#2828cc" fill-opacity="0.88"/>
<rect x="612.67" y="64.90" width="1.25" height="6.40" fill="#d01a76" fill-opacity="0.88"/>
<line x1="613.30" y1="63.68" x2="613.30" y2="65.50" stroke="#b0b0b0" stroke-width="0.5" stroke-linecap="butt"/>
<rect x="612.40" y="63.08" width="1.80" height="1.10" fill="#a8a8a8" fill-opacity="0.9"/>
<rect x="615.00" y="66.80" width="1.20" height="4.50" fill="#2828cc" fill-opacity="0.88"/>
<line x1="615.60" y1="65.64" x2="615.60" y2="67.40" stroke="#b0b0b0" stroke-width="0.5" stroke-linecap="butt"/>
<rect x="614.70" y="65.04" width="1.80" height="1.10" fill="#a8a8a8" fill-opacity="0.9"/>
<rect x="619.70" y="66.00" width="1.20" height="5.30" fill="#2828cc" fill-opacity="0.88"/>
<line x1="620.30" y1="64.81" x2="620.30" y2="66.60" stroke="#b0b0b0" stroke-width="0.5" stroke-linecap="butt"/>
<rect x="619.40" y="64.21" width="1.80" height="1.10" fill="#a8a8a8" fill-opacity="0.9"/>
<rect x="623.27" y="65.30" width="1.25" height="6.00" fill="#d01a76" fill-opacity="0.88"/>
<line x1="623.90" y1="64.09" x2="623.90" y2="65.90" stroke="#b0b0b0" stroke-width="0.5" stroke-linecap="butt"/>
<rect x="623.00" y="63.49" width="1.80" height="1.10" fill="#a8a8a8" fill-opacity="0.9"/>
<rect x="625.07" y="61.80" width="1.45" height="9.50" fill="#e070a8" fill-opacity="0.88"/>
<line x1="625.80" y1="60.47" x2="625.80" y2="62.40" stroke="#b0b0b0" stroke-width="0.5" stroke-linecap="butt"/>
<rect x="624.90" y="59.87" width="1.80" height="1.10" fill="#a8a8a8" fill-opacity="0.9"/>
<rect x="627.48" y="63.70" width="1.45" height="7.60" fill="#e070a8" fill-opacity="0.88"/>
<line x1="628.20" y1="62.43" x2="628.20" y2="64.30" stroke="#b0b0b0" stroke-width="0.5" stroke-linecap="butt"/>
<rect x="627.30" y="61.83" width="1.80" height="1.10" fill="#a8a8a8" fill-opacity="0.9"/>
<rect x="629.58" y="48.70" width="1.25" height="22.60" fill="#d01a76" fill-opacity="0.88"/>
<line x1="630.20" y1="46.91" x2="630.20" y2="49.30" stroke="#b0b0b0" stroke-width="0.5" stroke-linecap="butt"/>
<rect x="629.30" y="46.31" width="1.80" height="1.10" fill="#a8a8a8" fill-opacity="0.9"/>
<rect x="629.60" y="50.19" width="1.20" height="0.90" fill="#b0306a" fill-opacity="0.8"/>
<rect x="631.80" y="66.80" width="1.20" height="4.50" fill="#2828cc" fill-opacity="0.88"/>
<line x1="632.40" y1="65.64" x2="632.40" y2="67.40" stroke="#b0b0b0" stroke-width="0.5" stroke-linecap="butt"/>
<rect x="631.50" y="65.04" width="1.80" height="1.10" fill="#a8a8a8" fill-opacity="0.9"/>
<rect x="633.77" y="65.60" width="1.25" height="5.70" fill="#d01a76" fill-opacity="0.88"/>
<line x1="634.40" y1="64.40" x2="634.40" y2="66.20" stroke="#b0b0b0" stroke-width="0.5" stroke-linecap="butt"/>
<rect x="633.50" y="63.80" width="1.80" height="1.10" fill="#a8a8a8" fill-opacity="0.9"/>
<rect x="636.98" y="63.70" width="1.25" height="7.60" fill="#d01a76" fill-opacity="0.88"/>
<line x1="637.60" y1="62.43" x2="637.60" y2="64.30" stroke="#b0b0b0" stroke-width="0.5" stroke-linecap="butt"/>
<rect x="636.70" y="61.83" width="1.80" height="1.10" fill="#a8a8a8" fill-opacity="0.9"/>
<path d="M380.30,17.90 L380.30,73.60 L684.50,73.60" fill="none" stroke="#000" stroke-width="1.35" stroke-linejoin="round"/>
<line x1="377.90" y1="71.30" x2="380.30" y2="71.30" stroke="#000" stroke-width="1.0" stroke-linecap="butt"/>
<text x="376.40" y="73.90" font-size="6.9" font-weight="normal" text-anchor="end" fill="#1a1a1a" stroke="#1a1a1a" stroke-width="0.15">0</text>
<line x1="377.90" y1="54.20" x2="380.30" y2="54.20" stroke="#000" stroke-width="1.0" stroke-linecap="butt"/>
<text x="376.40" y="56.80" font-size="6.9" font-weight="normal" text-anchor="end" fill="#1a1a1a" stroke="#1a1a1a" stroke-width="0.15">20</text>
<line x1="377.90" y1="37.10" x2="380.30" y2="37.10" stroke="#000" stroke-width="1.0" stroke-linecap="butt"/>
<text x="376.40" y="39.70" font-size="6.9" font-weight="normal" text-anchor="end" fill="#1a1a1a" stroke="#1a1a1a" stroke-width="0.15">40</text>
<line x1="377.90" y1="20.00" x2="380.30" y2="20.00" stroke="#000" stroke-width="1.0" stroke-linecap="butt"/>
<text x="376.40" y="22.60" font-size="6.9" font-weight="normal" text-anchor="end" fill="#1a1a1a" stroke="#1a1a1a" stroke-width="0.15">60</text>
<line x1="393.50" y1="73.60" x2="393.50" y2="76.00" stroke="#000" stroke-width="1.0" stroke-linecap="butt"/>
<text x="393.20" y="82.00" font-size="6.9" font-weight="normal" text-anchor="middle" fill="#1a1a1a" stroke="#1a1a1a" stroke-width="0.15">0</text>
<line x1="462.48" y1="73.60" x2="462.48" y2="76.00" stroke="#000" stroke-width="1.0" stroke-linecap="butt"/>
<text x="462.18" y="82.00" font-size="6.9" font-weight="normal" text-anchor="middle" fill="#1a1a1a" stroke="#1a1a1a" stroke-width="0.15">100</text>
<line x1="531.46" y1="73.60" x2="531.46" y2="76.00" stroke="#000" stroke-width="1.0" stroke-linecap="butt"/>
<text x="531.16" y="82.00" font-size="6.9" font-weight="normal" text-anchor="middle" fill="#1a1a1a" stroke="#1a1a1a" stroke-width="0.15">200</text>
<line x1="600.44" y1="73.60" x2="600.44" y2="76.00" stroke="#000" stroke-width="1.0" stroke-linecap="butt"/>
<text x="600.14" y="82.00" font-size="6.9" font-weight="normal" text-anchor="middle" fill="#1a1a1a" stroke="#1a1a1a" stroke-width="0.15">300</text>
<line x1="669.42" y1="73.60" x2="669.42" y2="76.00" stroke="#000" stroke-width="1.0" stroke-linecap="butt"/>
<text x="669.12" y="82.00" font-size="6.9" font-weight="normal" text-anchor="middle" fill="#1a1a1a" stroke="#1a1a1a" stroke-width="0.15">400</text>
<text x="527.00" y="97.00" font-size="9.7" font-weight="bold" text-anchor="middle" fill="#000">RNA position</text>
<text x="-0.30" y="114.60" font-size="9.5" font-weight="bold" text-anchor="start" fill="#000">c</text>
<text x="179.20" y="122.32" font-size="9.8" font-weight="bold" text-anchor="middle">mRNA YLR110C <tspan font-style="italic">in vitro</tspan> 10 μM Cl<tspan font-size="6" dy="2.3">2</tspan></text>
<text transform="translate(14.00,160.30) rotate(-90)" font-size="9.7" font-weight="bold" text-anchor="middle" x="0" y="0">ø (NCleavage)</text>
<rect x="45.60" y="180.70" width="277.78" height="1.70" fill="#c0c0c0"/>
<path d="M45.50 178.90h0.80v3.50h-0.80zM52.40 180.15h0.80v2.25h-0.80zM61.37 178.90h0.80v3.50h-0.80zM65.50 178.31h0.80v4.09h-0.80zM71.02 179.77h0.80v2.63h-0.80zM74.47 180.19h0.80v2.21h-0.80zM79.30 180.17h0.80v2.23h-0.80zM88.96 179.93h0.80v2.47h-0.80zM91.03 180.72h0.80v1.68h-0.80zM93.79 180.70h0.80v1.70h-0.80zM96.55 180.71h0.80v1.69h-0.80zM100.68 180.15h0.80v2.25h-0.80zM102.75 177.63h0.80v4.77h-0.80zM108.96 180.83h0.80v1.57h-0.80zM110.34 180.96h0.80v1.44h-0.80zM117.93 178.93h0.80v3.47h-0.80zM126.90 178.53h0.80v3.87h-0.80zM130.35 178.49h0.80v3.91h-0.80zM135.17 180.67h0.80v1.73h-0.80zM137.24 179.41h0.80v2.99h-0.80zM151.04 180.09h0.80v2.31h-0.80zM155.87 178.43h0.80v3.97h-0.80zM168.97 180.34h0.80v2.06h-0.80zM171.73 180.23h0.80v2.17h-0.80zM175.18 179.38h0.80v3.02h-0.80zM177.94 179.19h0.80v3.21h-0.80zM184.84 180.16h0.80v2.24h-0.80zM186.91 181.43h0.80v0.97h-0.80zM190.36 180.77h0.80v1.63h-0.80zM193.12 179.42h0.80v2.98h-0.80zM195.88 180.67h0.80v1.73h-0.80zM200.70 181.11h0.80v1.29h-0.80zM204.84 181.47h0.80v0.93h-0.80zM208.98 180.79h0.80v1.61h-0.80zM211.05 178.75h0.80v3.65h-0.80zM224.16 178.64h0.80v3.76h-0.80zM228.30 179.21h0.80v3.19h-0.80zM233.82 180.68h0.80v1.72h-0.80zM235.19 181.08h0.80v1.32h-0.80zM237.95 181.26h0.80v1.14h-0.80zM240.02 181.25h0.80v1.15h-0.80zM246.23 179.37h0.80v3.03h-0.80zM251.06 180.11h0.80v2.29h-0.80zM251.75 181.46h0.80v0.94h-0.80zM252.44 176.55h0.80v5.85h-0.80zM264.86 181.51h0.80v0.89h-0.80zM266.93 178.48h0.80v3.92h-0.80zM268.31 178.70h0.80v3.70h-0.80zM269.00 180.00h0.80v2.40h-0.80zM272.44 177.52h0.80v4.88h-0.80zM273.82 179.38h0.80v3.02h-0.80zM275.20 181.26h0.80v1.14h-0.80zM278.65 179.98h0.80v2.42h-0.80zM285.55 180.54h0.80v1.86h-0.80zM288.31 180.07h0.80v2.33h-0.80z" fill="#5a5a5a" fill-opacity="0.9"/>
<path d="M46.19 180.33h0.80v2.07h-0.80zM47.57 179.01h0.80v3.39h-0.80zM49.64 180.53h0.80v1.87h-0.80zM50.33 180.25h0.80v2.15h-0.80zM54.47 180.94h0.80v1.46h-0.80zM67.57 178.18h0.80v4.22h-0.80zM69.64 179.37h0.80v3.03h-0.80zM75.85 178.23h0.80v4.17h-0.80zM77.23 179.41h0.80v2.99h-0.80zM79.99 180.95h0.80v1.45h-0.80zM81.37 181.13h0.80v1.27h-0.80zM84.82 180.48h0.80v1.92h-0.80zM86.89 180.22h0.80v2.18h-0.80zM95.86 179.48h0.80v2.92h-0.80zM99.99 180.85h0.80v1.55h-0.80zM103.44 180.67h0.80v1.73h-0.80zM104.13 179.47h0.80v2.93h-0.80zM104.82 178.56h0.80v3.84h-0.80zM115.86 179.62h0.80v2.78h-0.80zM131.04 178.06h0.80v4.34h-0.80zM133.10 179.65h0.80v2.75h-0.80zM133.79 181.48h0.80v0.92h-0.80zM142.07 179.51h0.80v2.89h-0.80zM144.83 179.82h0.80v2.58h-0.80zM146.90 179.02h0.80v3.38h-0.80zM152.42 180.82h0.80v1.58h-0.80zM153.80 180.32h0.80v2.08h-0.80zM155.18 180.71h0.80v1.69h-0.80zM161.39 181.10h0.80v1.30h-0.80zM165.53 179.23h0.80v3.17h-0.80zM167.59 180.20h0.80v2.20h-0.80zM169.66 177.53h0.80v4.87h-0.80zM178.63 181.78h0.80v0.62h-0.80zM181.39 180.75h0.80v1.65h-0.80zM183.46 181.39h0.80v1.01h-0.80zM191.05 180.92h0.80v1.48h-0.80zM191.74 180.93h0.80v1.47h-0.80zM198.64 180.63h0.80v1.77h-0.80zM199.33 178.95h0.80v3.45h-0.80zM202.08 180.41h0.80v1.99h-0.80zM205.53 180.54h0.80v1.86h-0.80zM214.50 179.78h0.80v2.62h-0.80zM216.57 181.09h0.80v1.31h-0.80zM217.26 180.55h0.80v1.85h-0.80zM220.02 181.32h0.80v1.08h-0.80zM220.71 180.29h0.80v2.11h-0.80zM223.47 178.56h0.80v3.84h-0.80zM225.54 180.48h0.80v1.92h-0.80zM226.92 180.17h0.80v2.23h-0.80zM231.06 179.66h0.80v2.74h-0.80zM233.13 179.82h0.80v2.58h-0.80zM235.88 180.76h0.80v1.64h-0.80zM237.26 176.94h0.80v5.46h-0.80zM242.09 180.59h0.80v1.81h-0.80zM249.68 180.70h0.80v1.70h-0.80zM250.37 180.69h0.80v1.71h-0.80zM253.13 180.34h0.80v2.06h-0.80zM254.51 180.67h0.80v1.73h-0.80zM255.20 179.73h0.80v2.67h-0.80zM257.27 180.44h0.80v1.96h-0.80zM259.34 180.34h0.80v2.06h-0.80zM262.10 176.99h0.80v5.41h-0.80zM266.24 180.11h0.80v2.29h-0.80zM269.69 180.66h0.80v1.74h-0.80zM270.37 180.21h0.80v2.19h-0.80zM271.75 178.54h0.80v3.86h-0.80zM273.13 177.40h0.80v5.00h-0.80zM274.51 178.19h0.80v4.21h-0.80zM275.89 181.39h0.80v1.01h-0.80zM276.58 179.13h0.80v3.27h-0.80zM277.96 180.13h0.80v2.27h-0.80zM279.34 178.88h0.80v3.52h-0.80zM282.10 179.89h0.80v2.51h-0.80zM286.93 180.84h0.80v1.56h-0.80zM289.00 179.86h0.80v2.54h-0.80zM293.14 179.85h0.80v2.55h-0.80zM293.83 176.65h0.80v5.75h-0.80zM295.90 180.91h0.80v1.49h-0.80z" fill="#3aa03a" fill-opacity="0.9"/>
<path d="M46.88 181.05h0.80v1.35h-0.80zM48.95 181.33h0.80v1.07h-0.80zM53.78 180.11h0.80v2.29h-0.80zM57.23 179.38h0.80v3.02h-0.80zM57.92 180.54h0.80v1.86h-0.80zM59.30 179.12h0.80v3.28h-0.80zM62.74 180.74h0.80v1.66h-0.80zM64.81 180.10h0.80v2.30h-0.80zM66.19 180.20h0.80v2.20h-0.80zM68.26 179.40h0.80v3.00h-0.80zM72.40 179.45h0.80v2.95h-0.80zM73.78 180.70h0.80v1.70h-0.80zM75.16 178.40h0.80v4.00h-0.80zM77.92 178.62h0.80v3.78h-0.80zM83.44 178.48h0.80v3.92h-0.80zM85.51 177.52h0.80v4.88h-0.80zM86.20 180.57h0.80v1.83h-0.80zM89.65 181.02h0.80v1.38h-0.80zM90.34 180.62h0.80v1.78h-0.80zM91.72 180.00h0.80v2.40h-0.80zM97.23 179.12h0.80v3.28h-0.80zM97.92 180.96h0.80v1.44h-0.80zM101.37 181.48h0.80v0.92h-0.80zM106.89 179.37h0.80v3.03h-0.80zM114.48 179.57h0.80v2.83h-0.80zM115.17 179.04h0.80v3.36h-0.80zM118.62 178.80h0.80v3.60h-0.80zM120.69 180.19h0.80v2.21h-0.80zM124.14 179.70h0.80v2.70h-0.80zM125.52 178.98h0.80v3.42h-0.80zM127.59 180.41h0.80v1.99h-0.80zM129.66 177.58h0.80v4.82h-0.80zM138.62 179.82h0.80v2.58h-0.80zM139.31 180.97h0.80v1.43h-0.80zM140.69 177.41h0.80v4.99h-0.80zM147.59 181.10h0.80v1.30h-0.80zM148.97 181.07h0.80v1.33h-0.80zM153.11 180.89h0.80v1.51h-0.80zM157.94 180.71h0.80v1.69h-0.80zM160.01 181.16h0.80v1.24h-0.80zM160.70 178.56h0.80v3.84h-0.80zM162.08 181.02h0.80v1.38h-0.80zM163.46 181.15h0.80v1.25h-0.80zM170.35 179.93h0.80v2.47h-0.80zM172.42 179.85h0.80v2.55h-0.80zM173.80 180.28h0.80v2.12h-0.80zM180.70 181.19h0.80v1.21h-0.80zM182.77 179.62h0.80v2.78h-0.80zM186.22 181.27h0.80v1.13h-0.80zM189.67 181.51h0.80v0.89h-0.80zM193.81 181.68h0.80v0.72h-0.80zM196.57 179.62h0.80v2.78h-0.80zM201.39 178.33h0.80v4.07h-0.80zM203.46 178.90h0.80v3.50h-0.80zM206.22 177.36h0.80v5.04h-0.80zM206.91 177.66h0.80v4.74h-0.80zM209.67 180.47h0.80v1.93h-0.80zM224.85 178.22h0.80v4.18h-0.80zM229.68 179.45h0.80v2.95h-0.80zM230.37 180.63h0.80v1.77h-0.80zM231.75 178.17h0.80v4.23h-0.80zM236.57 179.09h0.80v3.31h-0.80zM238.64 181.20h0.80v1.20h-0.80zM239.33 180.58h0.80v1.82h-0.80zM242.78 177.82h0.80v4.58h-0.80zM248.99 179.96h0.80v2.44h-0.80zM255.89 178.20h0.80v4.20h-0.80zM256.58 180.42h0.80v1.98h-0.80zM258.65 177.86h0.80v4.54h-0.80zM260.03 180.12h0.80v2.28h-0.80zM260.72 179.22h0.80v3.18h-0.80zM264.17 178.21h0.80v4.19h-0.80zM277.27 180.93h0.80v1.47h-0.80zM280.03 180.75h0.80v1.65h-0.80zM281.41 180.26h0.80v2.14h-0.80zM282.79 178.44h0.80v3.96h-0.80zM283.48 177.69h0.80v4.71h-0.80zM290.38 178.93h0.80v3.47h-0.80zM291.07 180.13h0.80v2.27h-0.80z" fill="#cc1a6c" fill-opacity="0.9"/>
<path d="M48.26 179.80h0.80v2.60h-0.80zM51.02 181.21h0.80v1.19h-0.80zM51.71 180.16h0.80v2.24h-0.80zM55.16 179.81h0.80v2.59h-0.80zM55.85 178.58h0.80v3.82h-0.80zM56.54 176.97h0.80v5.43h-0.80zM58.61 179.30h0.80v3.10h-0.80zM60.68 180.17h0.80v2.23h-0.80zM62.06 179.60h0.80v2.80h-0.80zM63.43 180.97h0.80v1.43h-0.80zM70.33 179.56h0.80v2.84h-0.80zM73.09 178.62h0.80v3.78h-0.80zM76.54 179.52h0.80v2.88h-0.80zM80.68 180.67h0.80v1.73h-0.80zM87.58 180.74h0.80v1.66h-0.80zM88.27 179.93h0.80v2.47h-0.80zM92.41 181.54h0.80v0.86h-0.80zM93.10 179.96h0.80v2.44h-0.80zM94.48 179.44h0.80v2.96h-0.80zM95.17 181.49h0.80v0.91h-0.80zM98.61 179.35h0.80v3.05h-0.80zM99.30 181.32h0.80v1.08h-0.80zM107.58 180.38h0.80v2.02h-0.80zM108.27 179.59h0.80v2.81h-0.80zM111.03 180.70h0.80v1.70h-0.80zM113.79 178.12h0.80v4.28h-0.80zM119.31 180.24h0.80v2.16h-0.80zM121.38 180.10h0.80v2.30h-0.80zM122.76 179.57h0.80v2.83h-0.80zM128.28 176.66h0.80v5.74h-0.80zM131.72 177.98h0.80v4.42h-0.80zM136.55 181.09h0.80v1.31h-0.80zM141.38 179.41h0.80v2.99h-0.80zM142.76 180.90h0.80v1.50h-0.80zM143.45 179.50h0.80v2.90h-0.80zM149.66 181.60h0.80v0.80h-0.80zM150.35 181.23h0.80v1.17h-0.80zM151.73 181.12h0.80v1.28h-0.80zM154.49 180.72h0.80v1.68h-0.80zM156.56 181.45h0.80v0.95h-0.80zM157.25 181.00h0.80v1.40h-0.80zM158.63 180.46h0.80v1.94h-0.80zM159.32 181.18h0.80v1.22h-0.80zM162.77 179.25h0.80v3.15h-0.80zM164.15 179.05h0.80v3.35h-0.80zM168.28 180.20h0.80v2.20h-0.80zM171.04 181.19h0.80v1.21h-0.80zM173.11 179.99h0.80v2.41h-0.80zM177.25 181.03h0.80v1.37h-0.80zM179.32 179.99h0.80v2.41h-0.80zM180.01 181.73h0.80v0.67h-0.80zM182.08 181.22h0.80v1.18h-0.80zM184.15 180.80h0.80v1.60h-0.80zM188.29 181.51h0.80v0.89h-0.80zM197.26 180.61h0.80v1.79h-0.80zM197.95 181.02h0.80v1.38h-0.80zM207.60 179.18h0.80v3.22h-0.80zM211.74 178.95h0.80v3.45h-0.80zM212.43 179.87h0.80v2.53h-0.80zM213.12 179.07h0.80v3.33h-0.80zM215.88 180.17h0.80v2.23h-0.80zM222.78 180.93h0.80v1.47h-0.80zM226.23 179.44h0.80v2.96h-0.80zM228.99 178.19h0.80v4.21h-0.80zM241.40 181.11h0.80v1.29h-0.80zM243.47 178.13h0.80v4.27h-0.80zM244.16 180.11h0.80v2.29h-0.80zM245.54 180.46h0.80v1.94h-0.80zM246.92 176.96h0.80v5.44h-0.80zM248.30 178.91h0.80v3.49h-0.80zM253.82 176.98h0.80v5.42h-0.80zM257.96 179.79h0.80v2.61h-0.80zM262.79 177.86h0.80v4.54h-0.80zM271.06 176.87h0.80v5.53h-0.80zM284.86 178.20h0.80v4.20h-0.80zM287.62 181.16h0.80v1.24h-0.80zM292.45 178.01h0.80v4.39h-0.80zM297.28 180.54h0.80v1.86h-0.80z" fill="#2f4aa8" fill-opacity="0.9"/>
<path d="M53.09 177.54h0.80v4.86h-0.80zM68.95 177.56h0.80v4.84h-0.80zM71.71 179.81h0.80v2.59h-0.80zM82.06 180.42h0.80v1.98h-0.80zM84.13 180.71h0.80v1.69h-0.80zM102.06 179.85h0.80v2.55h-0.80zM106.20 179.86h0.80v2.54h-0.80zM111.72 178.16h0.80v4.24h-0.80zM113.10 180.31h0.80v2.09h-0.80zM120.00 178.29h0.80v4.11h-0.80zM122.07 179.46h0.80v2.94h-0.80zM124.83 176.43h0.80v5.97h-0.80zM126.21 178.96h0.80v3.44h-0.80zM132.41 179.21h0.80v3.19h-0.80zM134.48 180.86h0.80v1.54h-0.80zM135.86 178.29h0.80v4.11h-0.80zM148.28 180.83h0.80v1.57h-0.80zM164.84 179.88h0.80v2.52h-0.80zM166.21 180.70h0.80v1.70h-0.80zM174.49 179.34h0.80v3.06h-0.80zM175.87 177.52h0.80v4.88h-0.80zM176.56 180.93h0.80v1.47h-0.80zM185.53 181.53h0.80v0.87h-0.80zM187.60 181.89h0.80v0.51h-0.80zM188.98 181.48h0.80v0.92h-0.80zM192.43 180.33h0.80v2.07h-0.80zM194.50 179.97h0.80v2.43h-0.80zM200.02 180.77h0.80v1.63h-0.80zM210.36 179.75h0.80v2.65h-0.80zM219.33 180.87h0.80v1.53h-0.80zM227.61 180.10h0.80v2.30h-0.80zM232.44 180.43h0.80v1.97h-0.80zM234.51 178.31h0.80v4.09h-0.80zM247.61 180.73h0.80v1.67h-0.80zM284.17 178.54h0.80v3.86h-0.80zM289.69 179.73h0.80v2.67h-0.80zM291.76 180.89h0.80v1.51h-0.80zM294.52 178.34h0.80v4.06h-0.80z" fill="#e07aaa" fill-opacity="0.9"/>
<path d="M59.99 179.95h0.80v2.45h-0.80zM64.12 179.25h0.80v3.15h-0.80zM66.88 180.44h0.80v1.96h-0.80zM78.61 177.70h0.80v4.70h-0.80zM82.75 180.94h0.80v1.46h-0.80zM105.51 179.36h0.80v3.04h-0.80zM109.65 177.64h0.80v4.76h-0.80zM112.41 179.58h0.80v2.82h-0.80zM116.55 178.38h0.80v4.02h-0.80zM117.24 181.35h0.80v1.05h-0.80zM123.45 180.55h0.80v1.85h-0.80zM128.97 179.59h0.80v2.81h-0.80zM137.93 180.40h0.80v2.00h-0.80zM140.00 180.11h0.80v2.29h-0.80zM144.14 180.86h0.80v1.54h-0.80zM145.52 179.14h0.80v3.26h-0.80zM146.21 180.72h0.80v1.68h-0.80zM166.90 180.24h0.80v2.16h-0.80zM195.19 181.13h0.80v1.27h-0.80zM202.77 178.64h0.80v3.76h-0.80zM204.15 179.16h0.80v3.24h-0.80zM208.29 179.59h0.80v2.81h-0.80zM213.81 178.55h0.80v3.85h-0.80zM215.19 179.89h0.80v2.51h-0.80zM217.95 179.61h0.80v2.79h-0.80zM218.64 181.01h0.80v1.39h-0.80zM221.40 180.50h0.80v1.90h-0.80zM222.09 181.24h0.80v1.16h-0.80zM240.71 180.61h0.80v1.79h-0.80zM244.85 179.43h0.80v2.97h-0.80zM261.41 180.98h0.80v1.42h-0.80zM263.48 181.12h0.80v1.28h-0.80zM265.55 179.37h0.80v3.03h-0.80zM267.62 180.43h0.80v1.97h-0.80zM280.72 181.26h0.80v1.14h-0.80zM286.24 179.47h0.80v2.93h-0.80zM295.21 177.57h0.80v4.83h-0.80zM296.59 180.83h0.80v1.57h-0.80z" fill="#7088c8" fill-opacity="0.9"/>
<rect x="45.80" y="178.60" width="1.20" height="3.80" fill="#2f4aa8" fill-opacity="0.88"/>
<rect x="47.17" y="161.40" width="1.45" height="21.00" fill="#e07aaa" fill-opacity="0.88"/>
<line x1="47.90" y1="159.66" x2="47.90" y2="162.00" stroke="#b0b0b0" stroke-width="0.5" stroke-linecap="butt"/>
<rect x="47.00" y="159.06" width="1.80" height="1.10" fill="#a8a8a8" fill-opacity="0.9"/>
<rect x="47.30" y="162.83" width="1.20" height="0.90" fill="#b0306a" fill-opacity="0.8"/>
<rect x="48.90" y="176.00" width="1.20" height="6.40" fill="#2f4aa8" fill-opacity="0.88"/>
<line x1="49.50" y1="174.78" x2="49.50" y2="176.60" stroke="#b0b0b0" stroke-width="0.5" stroke-linecap="butt"/>
<rect x="48.60" y="174.18" width="1.80" height="1.10" fill="#a8a8a8" fill-opacity="0.9"/>
<rect x="50.20" y="177.10" width="1.60" height="5.30" fill="#5a5a5a" fill-opacity="0.88"/>
<line x1="51.00" y1="175.91" x2="51.00" y2="177.70" stroke="#b0b0b0" stroke-width="0.5" stroke-linecap="butt"/>
<rect x="50.10" y="175.31" width="1.80" height="1.10" fill="#a8a8a8" fill-opacity="0.9"/>
<rect x="52.00" y="179.40" width="1.20" height="3.00" fill="#3aa03a" fill-opacity="0.88"/>
<rect x="54.00" y="176.00" width="1.40" height="6.40" fill="#7088c8" fill-opacity="0.88"/>
<line x1="54.70" y1="174.78" x2="54.70" y2="176.60" stroke="#b0b0b0" stroke-width="0.5" stroke-linecap="butt"/>
<rect x="53.80" y="174.18" width="1.80" height="1.10" fill="#a8a8a8" fill-opacity="0.9"/>
<rect x="55.20" y="178.60" width="1.20" height="3.80" fill="#3aa03a" fill-opacity="0.88"/>
<rect x="56.27" y="162.10" width="1.45" height="20.30" fill="#e07aaa" fill-opacity="0.88"/>
<line x1="57.00" y1="160.39" x2="57.00" y2="162.70" stroke="#b0b0b0" stroke-width="0.5" stroke-linecap="butt"/>
<rect x="56.10" y="159.79" width="1.80" height="1.10" fill="#a8a8a8" fill-opacity="0.9"/>
<rect x="56.40" y="163.51" width="1.20" height="0.90" fill="#b0306a" fill-opacity="0.8"/>
<rect x="58.17" y="158.20" width="1.45" height="24.20" fill="#e07aaa" fill-opacity="0.88"/>
<line x1="58.90" y1="156.35" x2="58.90" y2="158.80" stroke="#b0b0b0" stroke-width="0.5" stroke-linecap="butt"/>
<rect x="58.00" y="155.75" width="1.80" height="1.10" fill="#a8a8a8" fill-opacity="0.9"/>
<rect x="58.30" y="159.75" width="1.20" height="0.90" fill="#b0306a" fill-opacity="0.8"/>
<rect x="59.10" y="177.10" width="1.20" height="5.30" fill="#3aa03a" fill-opacity="0.88"/>
<line x1="59.70" y1="175.91" x2="59.70" y2="177.70" stroke="#b0b0b0" stroke-width="0.5" stroke-linecap="butt"/>
<rect x="58.80" y="175.31" width="1.80" height="1.10" fill="#a8a8a8" fill-opacity="0.9"/>
<rect x="60.20" y="178.60" width="1.60" height="3.80" fill="#5a5a5a" fill-opacity="0.88"/>
<rect x="62.20" y="178.60" width="1.20" height="3.80" fill="#2f4aa8" fill-opacity="0.88"/>
<rect x="64.58" y="158.20" width="1.25" height="24.20" fill="#cc1a6c" fill-opacity="0.88"/>
<line x1="65.20" y1="156.35" x2="65.20" y2="158.80" stroke="#b0b0b0" stroke-width="0.5" stroke-linecap="butt"/>
<rect x="64.30" y="155.75" width="1.80" height="1.10" fill="#a8a8a8" fill-opacity="0.9"/>
<rect x="64.60" y="159.75" width="1.20" height="0.90" fill="#b0306a" fill-opacity="0.8"/>
<rect x="66.58" y="164.50" width="1.25" height="17.90" fill="#cc1a6c" fill-opacity="0.88"/>
<line x1="67.20" y1="162.87" x2="67.20" y2="165.10" stroke="#b0b0b0" stroke-width="0.5" stroke-linecap="butt"/>
<rect x="66.30" y="162.27" width="1.80" height="1.10" fill="#a8a8a8" fill-opacity="0.9"/>
<rect x="66.60" y="165.83" width="1.20" height="0.90" fill="#b0306a" fill-opacity="0.8"/>
<rect x="68.47" y="176.00" width="1.25" height="6.40" fill="#cc1a6c" fill-opacity="0.88"/>
<line x1="69.10" y1="174.78" x2="69.10" y2="176.60" stroke="#b0b0b0" stroke-width="0.5" stroke-linecap="butt"/>
<rect x="68.20" y="174.18" width="1.80" height="1.10" fill="#a8a8a8" fill-opacity="0.9"/>
<rect x="70.88" y="171.30" width="1.25" height="11.10" fill="#cc1a6c" fill-opacity="0.88"/>
<line x1="71.50" y1="169.91" x2="71.50" y2="171.90" stroke="#b0b0b0" stroke-width="0.5" stroke-linecap="butt"/>
<rect x="70.60" y="169.31" width="1.80" height="1.10" fill="#a8a8a8" fill-opacity="0.9"/>
<rect x="72.88" y="172.80" width="1.25" height="9.60" fill="#cc1a6c" fill-opacity="0.88"/>
<line x1="73.50" y1="171.46" x2="73.50" y2="173.40" stroke="#b0b0b0" stroke-width="0.5" stroke-linecap="butt"/>
<rect x="72.60" y="170.86" width="1.80" height="1.10" fill="#a8a8a8" fill-opacity="0.9"/>
<rect x="74.78" y="179.40" width="1.25" height="3.00" fill="#cc1a6c" fill-opacity="0.88"/>
<rect x="76.78" y="177.80" width="1.25" height="4.60" fill="#cc1a6c" fill-opacity="0.88"/>
<line x1="77.40" y1="176.64" x2="77.40" y2="178.40" stroke="#b0b0b0" stroke-width="0.5" stroke-linecap="butt"/>
<rect x="76.50" y="176.04" width="1.80" height="1.10" fill="#a8a8a8" fill-opacity="0.9"/>
<rect x="80.78" y="178.60" width="1.25" height="3.80" fill="#cc1a6c" fill-opacity="0.88"/>
<rect x="82.97" y="177.80" width="1.25" height="4.60" fill="#cc1a6c" fill-opacity="0.88"/>
<line x1="83.60" y1="176.64" x2="83.60" y2="178.40" stroke="#b0b0b0" stroke-width="0.5" stroke-linecap="butt"/>
<rect x="82.70" y="176.04" width="1.80" height="1.10" fill="#a8a8a8" fill-opacity="0.9"/>
<rect x="85.38" y="180.20" width="1.45" height="2.20" fill="#e07aaa" fill-opacity="0.88"/>
<rect x="95.67" y="175.50" width="1.25" height="6.90" fill="#cc1a6c" fill-opacity="0.88"/>
<line x1="96.30" y1="174.26" x2="96.30" y2="176.10" stroke="#b0b0b0" stroke-width="0.5" stroke-linecap="butt"/>
<rect x="95.40" y="173.66" width="1.80" height="1.10" fill="#a8a8a8" fill-opacity="0.9"/>
<rect x="102.67" y="179.40" width="1.25" height="3.00" fill="#cc1a6c" fill-opacity="0.88"/>
<rect x="105.88" y="176.30" width="1.25" height="6.10" fill="#cc1a6c" fill-opacity="0.88"/>
<line x1="106.50" y1="175.09" x2="106.50" y2="176.90" stroke="#b0b0b0" stroke-width="0.5" stroke-linecap="butt"/>
<rect x="105.60" y="174.49" width="1.80" height="1.10" fill="#a8a8a8" fill-opacity="0.9"/>
<rect x="107.50" y="178.60" width="1.20" height="3.80" fill="#2f4aa8" fill-opacity="0.88"/>
<rect x="109.40" y="176.60" width="1.20" height="5.80" fill="#2f4aa8" fill-opacity="0.88"/>
<line x1="110.00" y1="175.40" x2="110.00" y2="177.20" stroke="#b0b0b0" stroke-width="0.5" stroke-linecap="butt"/>
<rect x="109.10" y="174.80" width="1.80" height="1.10" fill="#a8a8a8" fill-opacity="0.9"/>
<rect x="111.70" y="176.00" width="1.20" height="6.40" fill="#2f4aa8" fill-opacity="0.88"/>
<line x1="112.30" y1="174.78" x2="112.30" y2="176.60" stroke="#b0b0b0" stroke-width="0.5" stroke-linecap="butt"/>
<rect x="111.40" y="174.18" width="1.80" height="1.10" fill="#a8a8a8" fill-opacity="0.9"/>
<rect x="112.80" y="177.90" width="1.20" height="4.50" fill="#3aa03a" fill-opacity="0.88"/>
<line x1="113.40" y1="176.74" x2="113.40" y2="178.50" stroke="#b0b0b0" stroke-width="0.5" stroke-linecap="butt"/>
<rect x="112.50" y="176.14" width="1.80" height="1.10" fill="#a8a8a8" fill-opacity="0.9"/>
<rect x="115.78" y="178.60" width="1.25" height="3.80" fill="#cc1a6c" fill-opacity="0.88"/>
<rect x="117.60" y="177.90" width="1.40" height="4.50" fill="#7088c8" fill-opacity="0.88"/>
<line x1="118.30" y1="176.74" x2="118.30" y2="178.50" stroke="#b0b0b0" stroke-width="0.5" stroke-linecap="butt"/>
<rect x="117.40" y="176.14" width="1.80" height="1.10" fill="#a8a8a8" fill-opacity="0.9"/>
<rect x="120.00" y="179.40" width="1.20" height="3.00" fill="#3aa03a" fill-opacity="0.88"/>
<rect x="126.98" y="178.60" width="1.45" height="3.80" fill="#e07aaa" fill-opacity="0.88"/>
<rect x="128.68" y="170.80" width="1.25" height="11.60" fill="#cc1a6c" fill-opacity="0.88"/>
<line x1="129.30" y1="169.39" x2="129.30" y2="171.40" stroke="#b0b0b0" stroke-width="0.5" stroke-linecap="butt"/>
<rect x="128.40" y="168.79" width="1.80" height="1.10" fill="#a8a8a8" fill-opacity="0.9"/>
<rect x="130.88" y="146.40" width="1.25" height="36.00" fill="#cc1a6c" fill-opacity="0.88"/>
<line x1="131.50" y1="144.14" x2="131.50" y2="147.00" stroke="#b0b0b0" stroke-width="0.5" stroke-linecap="butt"/>
<rect x="130.60" y="143.54" width="1.80" height="1.10" fill="#a8a8a8" fill-opacity="0.9"/>
<rect x="130.90" y="148.36" width="1.20" height="0.90" fill="#b0306a" fill-opacity="0.8"/>
<rect x="131.70" y="173.10" width="1.40" height="9.30" fill="#7088c8" fill-opacity="0.88"/>
<line x1="132.40" y1="171.77" x2="132.40" y2="173.70" stroke="#b0b0b0" stroke-width="0.5" stroke-linecap="butt"/>
<rect x="131.50" y="171.17" width="1.80" height="1.10" fill="#a8a8a8" fill-opacity="0.9"/>
<rect x="133.40" y="176.00" width="1.20" height="6.40" fill="#2f4aa8" fill-opacity="0.88"/>
<line x1="134.00" y1="174.78" x2="134.00" y2="176.60" stroke="#b0b0b0" stroke-width="0.5" stroke-linecap="butt"/>
<rect x="133.10" y="174.18" width="1.80" height="1.10" fill="#a8a8a8" fill-opacity="0.9"/>
<rect x="134.88" y="154.30" width="1.25" height="28.10" fill="#cc1a6c" fill-opacity="0.88"/>
<line x1="135.50" y1="152.32" x2="135.50" y2="154.90" stroke="#b0b0b0" stroke-width="0.5" stroke-linecap="butt"/>
<rect x="134.60" y="151.72" width="1.80" height="1.10" fill="#a8a8a8" fill-opacity="0.9"/>
<rect x="134.90" y="155.98" width="1.20" height="0.90" fill="#b0306a" fill-opacity="0.8"/>
<rect x="137.78" y="170.80" width="1.25" height="11.60" fill="#cc1a6c" fill-opacity="0.88"/>
<line x1="138.40" y1="169.39" x2="138.40" y2="171.40" stroke="#b0b0b0" stroke-width="0.5" stroke-linecap="butt"/>
<rect x="137.50" y="168.79" width="1.80" height="1.10" fill="#a8a8a8" fill-opacity="0.9"/>
<rect x="140.88" y="177.10" width="1.25" height="5.30" fill="#cc1a6c" fill-opacity="0.88"/>
<line x1="141.50" y1="175.91" x2="141.50" y2="177.70" stroke="#b0b0b0" stroke-width="0.5" stroke-linecap="butt"/>
<rect x="140.60" y="175.31" width="1.80" height="1.10" fill="#a8a8a8" fill-opacity="0.9"/>
<rect x="151.38" y="180.20" width="1.25" height="2.20" fill="#cc1a6c" fill-opacity="0.88"/>
<rect x="161.57" y="176.00" width="1.25" height="6.40" fill="#cc1a6c" fill-opacity="0.88"/>
<line x1="162.20" y1="174.78" x2="162.20" y2="176.60" stroke="#b0b0b0" stroke-width="0.5" stroke-linecap="butt"/>
<rect x="161.30" y="174.18" width="1.80" height="1.10" fill="#a8a8a8" fill-opacity="0.9"/>
<rect x="165.88" y="177.10" width="1.25" height="5.30" fill="#cc1a6c" fill-opacity="0.88"/>
<line x1="166.50" y1="175.91" x2="166.50" y2="177.70" stroke="#b0b0b0" stroke-width="0.5" stroke-linecap="butt"/>
<rect x="165.60" y="175.31" width="1.80" height="1.10" fill="#a8a8a8" fill-opacity="0.9"/>
<rect x="169.97" y="173.10" width="1.25" height="9.30" fill="#cc1a6c" fill-opacity="0.88"/>
<line x1="170.60" y1="171.77" x2="170.60" y2="173.70" stroke="#b0b0b0" stroke-width="0.5" stroke-linecap="butt"/>
<rect x="169.70" y="171.17" width="1.80" height="1.10" fill="#a8a8a8" fill-opacity="0.9"/>
<rect x="172.18" y="176.60" width="1.25" height="5.80" fill="#cc1a6c" fill-opacity="0.88"/>
<line x1="172.80" y1="175.40" x2="172.80" y2="177.20" stroke="#b0b0b0" stroke-width="0.5" stroke-linecap="butt"/>
<rect x="171.90" y="174.80" width="1.80" height="1.10" fill="#a8a8a8" fill-opacity="0.9"/>
<rect x="198.18" y="177.80" width="1.25" height="4.60" fill="#cc1a6c" fill-opacity="0.88"/>
<line x1="198.80" y1="176.64" x2="198.80" y2="178.40" stroke="#b0b0b0" stroke-width="0.5" stroke-linecap="butt"/>
<rect x="197.90" y="176.04" width="1.80" height="1.10" fill="#a8a8a8" fill-opacity="0.9"/>
<rect x="205.28" y="178.60" width="1.25" height="3.80" fill="#cc1a6c" fill-opacity="0.88"/>
<rect x="209.20" y="179.40" width="1.20" height="3.00" fill="#2f4aa8" fill-opacity="0.88"/>
<rect x="210.78" y="155.10" width="1.25" height="27.30" fill="#cc1a6c" fill-opacity="0.88"/>
<line x1="211.40" y1="153.14" x2="211.40" y2="155.70" stroke="#b0b0b0" stroke-width="0.5" stroke-linecap="butt"/>
<rect x="210.50" y="152.54" width="1.80" height="1.10" fill="#a8a8a8" fill-opacity="0.9"/>
<rect x="210.80" y="156.76" width="1.20" height="0.90" fill="#b0306a" fill-opacity="0.8"/>
<rect x="212.40" y="178.60" width="1.20" height="3.80" fill="#2f4aa8" fill-opacity="0.88"/>
<rect x="221.47" y="179.40" width="1.25" height="3.00" fill="#cc1a6c" fill-opacity="0.88"/>
<rect x="227.78" y="172.40" width="1.25" height="10.00" fill="#cc1a6c" fill-opacity="0.88"/>
<line x1="228.40" y1="171.05" x2="228.40" y2="173.00" stroke="#b0b0b0" stroke-width="0.5" stroke-linecap="butt"/>
<rect x="227.50" y="170.45" width="1.80" height="1.10" fill="#a8a8a8" fill-opacity="0.9"/>
<rect x="229.90" y="176.30" width="1.20" height="6.10" fill="#2f4aa8" fill-opacity="0.88"/>
<line x1="230.50" y1="175.09" x2="230.50" y2="176.90" stroke="#b0b0b0" stroke-width="0.5" stroke-linecap="butt"/>
<rect x="229.60" y="174.49" width="1.80" height="1.10" fill="#a8a8a8" fill-opacity="0.9"/>
<rect x="232.00" y="178.60" width="1.20" height="3.80" fill="#3aa03a" fill-opacity="0.88"/>
<rect x="234.00" y="179.20" width="1.20" height="3.20" fill="#2f4aa8" fill-opacity="0.88"/>
<rect x="243.78" y="173.10" width="1.25" height="9.30" fill="#cc1a6c" fill-opacity="0.88"/>
<line x1="244.40" y1="171.77" x2="244.40" y2="173.70" stroke="#b0b0b0" stroke-width="0.5" stroke-linecap="butt"/>
<rect x="243.50" y="171.17" width="1.80" height="1.10" fill="#a8a8a8" fill-opacity="0.9"/>
<rect x="248.50" y="177.50" width="1.20" height="4.90" fill="#2f4aa8" fill-opacity="0.88"/>
<line x1="249.10" y1="176.33" x2="249.10" y2="178.10" stroke="#b0b0b0" stroke-width="0.5" stroke-linecap="butt"/>
<rect x="248.20" y="175.73" width="1.80" height="1.10" fill="#a8a8a8" fill-opacity="0.9"/>
<rect x="248.70" y="177.80" width="1.20" height="4.60" fill="#2f4aa8" fill-opacity="0.88"/>
<line x1="249.30" y1="176.64" x2="249.30" y2="178.40" stroke="#b0b0b0" stroke-width="0.5" stroke-linecap="butt"/>
<rect x="248.40" y="176.04" width="1.80" height="1.10" fill="#a8a8a8" fill-opacity="0.9"/>
<rect x="252.88" y="171.60" width="1.25" height="10.80" fill="#cc1a6c" fill-opacity="0.88"/>
<line x1="253.50" y1="170.22" x2="253.50" y2="172.20" stroke="#b0b0b0" stroke-width="0.5" stroke-linecap="butt"/>
<rect x="252.60" y="169.62" width="1.80" height="1.10" fill="#a8a8a8" fill-opacity="0.9"/>
<rect x="254.88" y="177.10" width="1.25" height="5.30" fill="#cc1a6c" fill-opacity="0.88"/>
<line x1="255.50" y1="175.91" x2="255.50" y2="177.70" stroke="#b0b0b0" stroke-width="0.5" stroke-linecap="butt"/>
<rect x="254.60" y="175.31" width="1.80" height="1.10" fill="#a8a8a8" fill-opacity="0.9"/>
<rect x="258.40" y="178.60" width="1.20" height="3.80" fill="#2f4aa8" fill-opacity="0.88"/>
<rect x="264.98" y="178.60" width="1.25" height="3.80" fill="#cc1a6c" fill-opacity="0.88"/>
<rect x="266.90" y="179.60" width="1.40" height="2.80" fill="#7088c8" fill-opacity="0.88"/>
<rect x="271.70" y="177.10" width="1.20" height="5.30" fill="#2f4aa8" fill-opacity="0.88"/>
<line x1="272.30" y1="175.91" x2="272.30" y2="177.70" stroke="#b0b0b0" stroke-width="0.5" stroke-linecap="butt"/>
<rect x="271.40" y="175.31" width="1.80" height="1.10" fill="#a8a8a8" fill-opacity="0.9"/>
<rect x="273.77" y="179.40" width="1.25" height="3.00" fill="#cc1a6c" fill-opacity="0.88"/>
<rect x="275.68" y="177.10" width="1.25" height="5.30" fill="#cc1a6c" fill-opacity="0.88"/>
<line x1="276.30" y1="175.91" x2="276.30" y2="177.70" stroke="#b0b0b0" stroke-width="0.5" stroke-linecap="butt"/>
<rect x="275.40" y="175.31" width="1.80" height="1.10" fill="#a8a8a8" fill-opacity="0.9"/>
<rect x="277.57" y="170.80" width="1.45" height="11.60" fill="#e07aaa" fill-opacity="0.88"/>
<line x1="278.30" y1="169.39" x2="278.30" y2="171.40" stroke="#b0b0b0" stroke-width="0.5" stroke-linecap="butt"/>
<rect x="277.40" y="168.79" width="1.80" height="1.10" fill="#a8a8a8" fill-opacity="0.9"/>
<rect x="279.47" y="172.80" width="1.45" height="9.60" fill="#e07aaa" fill-opacity="0.88"/>
<line x1="280.20" y1="171.46" x2="280.20" y2="173.40" stroke="#b0b0b0" stroke-width="0.5" stroke-linecap="butt"/>
<rect x="279.30" y="170.86" width="1.80" height="1.10" fill="#a8a8a8" fill-opacity="0.9"/>
<rect x="281.57" y="166.10" width="1.25" height="16.30" fill="#cc1a6c" fill-opacity="0.88"/>
<line x1="282.20" y1="164.53" x2="282.20" y2="166.70" stroke="#b0b0b0" stroke-width="0.5" stroke-linecap="butt"/>
<rect x="281.30" y="163.93" width="1.80" height="1.10" fill="#a8a8a8" fill-opacity="0.9"/>
<rect x="281.60" y="167.37" width="1.20" height="0.90" fill="#b0306a" fill-opacity="0.8"/>
<rect x="283.50" y="179.40" width="1.20" height="3.00" fill="#2f4aa8" fill-opacity="0.88"/>
<rect x="285.88" y="176.30" width="1.25" height="6.10" fill="#cc1a6c" fill-opacity="0.88"/>
<line x1="286.50" y1="175.09" x2="286.50" y2="176.90" stroke="#b0b0b0" stroke-width="0.5" stroke-linecap="butt"/>
<rect x="285.60" y="174.49" width="1.80" height="1.10" fill="#a8a8a8" fill-opacity="0.9"/>
<rect x="289.38" y="176.00" width="1.45" height="6.40" fill="#e07aaa" fill-opacity="0.88"/>
<line x1="290.10" y1="174.78" x2="290.10" y2="176.60" stroke="#b0b0b0" stroke-width="0.5" stroke-linecap="butt"/>
<rect x="289.20" y="174.18" width="1.80" height="1.10" fill="#a8a8a8" fill-opacity="0.9"/>
<rect x="293.98" y="171.30" width="1.25" height="11.10" fill="#cc1a6c" fill-opacity="0.88"/>
<line x1="294.60" y1="169.91" x2="294.60" y2="171.90" stroke="#b0b0b0" stroke-width="0.5" stroke-linecap="butt"/>
<rect x="293.70" y="169.31" width="1.80" height="1.10" fill="#a8a8a8" fill-opacity="0.9"/>
<path d="M32.70,129.00 L32.70,184.70 L336.90,184.70" fill="none" stroke="#000" stroke-width="1.35" stroke-linejoin="round"/>
<line x1="30.30" y1="182.40" x2="32.70" y2="182.40" stroke="#000" stroke-width="1.0" stroke-linecap="butt"/>
<text x="28.80" y="185.00" font-size="6.9" font-weight="normal" text-anchor="end" fill="#1a1a1a" stroke="#1a1a1a" stroke-width="0.15">0</text>
<line x1="30.30" y1="165.30" x2="32.70" y2="165.30" stroke="#000" stroke-width="1.0" stroke-linecap="butt"/>
<text x="28.80" y="167.90" font-size="6.9" font-weight="normal" text-anchor="end" fill="#1a1a1a" stroke="#1a1a1a" stroke-width="0.15">20</text>
<line x1="30.30" y1="148.20" x2="32.70" y2="148.20" stroke="#000" stroke-width="1.0" stroke-linecap="butt"/>
<text x="28.80" y="150.80" font-size="6.9" font-weight="normal" text-anchor="end" fill="#1a1a1a" stroke="#1a1a1a" stroke-width="0.15">40</text>
<line x1="30.30" y1="131.10" x2="32.70" y2="131.10" stroke="#000" stroke-width="1.0" stroke-linecap="butt"/>
<text x="28.80" y="133.70" font-size="6.9" font-weight="normal" text-anchor="end" fill="#1a1a1a" stroke="#1a1a1a" stroke-width="0.15">60</text>
<line x1="45.90" y1="184.70" x2="45.90" y2="187.10" stroke="#000" stroke-width="1.0" stroke-linecap="butt"/>
<text x="45.60" y="193.10" font-size="6.9" font-weight="normal" text-anchor="middle" fill="#1a1a1a" stroke="#1a1a1a" stroke-width="0.15">0</text>
<line x1="114.88" y1="184.70" x2="114.88" y2="187.10" stroke="#000" stroke-width="1.0" stroke-linecap="butt"/>
<text x="114.58" y="193.10" font-size="6.9" font-weight="normal" text-anchor="middle" fill="#1a1a1a" stroke="#1a1a1a" stroke-width="0.15">100</text>
<line x1="183.86" y1="184.70" x2="183.86" y2="187.10" stroke="#000" stroke-width="1.0" stroke-linecap="butt"/>
<text x="183.56" y="193.10" font-size="6.9" font-weight="normal" text-anchor="middle" fill="#1a1a1a" stroke="#1a1a1a" stroke-width="0.15">200</text>
<line x1="252.84" y1="184.70" x2="252.84" y2="187.10" stroke="#000" stroke-width="1.0" stroke-linecap="butt"/>
<text x="252.54" y="193.10" font-size="6.9" font-weight="normal" text-anchor="middle" fill="#1a1a1a" stroke="#1a1a1a" stroke-width="0.15">300</text>
<line x1="321.82" y1="184.70" x2="321.82" y2="187.10" stroke="#000" stroke-width="1.0" stroke-linecap="butt"/>
<text x="321.52" y="193.10" font-size="6.9" font-weight="normal" text-anchor="middle" fill="#1a1a1a" stroke="#1a1a1a" stroke-width="0.15">400</text>
<text x="179.40" y="207.00" font-size="9.7" font-weight="bold" text-anchor="middle" fill="#000">RNA position</text>
<text x="346.60" y="114.70" font-size="9.5" font-weight="bold" text-anchor="start" fill="#000">d</text>
<text x="526.80" y="122.32" font-size="9.8" font-weight="bold" text-anchor="middle">mRNA YLR110C <tspan font-style="italic">in vivo</tspan> 1 mM Cl<tspan font-size="6" dy="2.3">2</tspan></text>
<text transform="translate(361.60,160.30) rotate(-90)" font-size="9.7" font-weight="bold" text-anchor="middle" x="0" y="0">ø (NCleavage)</text>
<rect x="393.20" y="180.70" width="277.78" height="1.70" fill="#c0c0c0"/>
<path d="M393.10 176.96h0.80v5.44h-0.80zM396.55 179.34h0.80v3.06h-0.80zM398.62 179.75h0.80v2.65h-0.80zM416.55 180.25h0.80v2.15h-0.80zM425.52 179.75h0.80v2.65h-0.80zM429.66 181.16h0.80v1.24h-0.80zM433.11 179.72h0.80v2.68h-0.80zM442.77 178.23h0.80v4.17h-0.80zM444.15 180.92h0.80v1.48h-0.80zM446.21 180.48h0.80v1.92h-0.80zM447.59 180.62h0.80v1.78h-0.80zM448.97 179.61h0.80v2.79h-0.80zM455.87 178.23h0.80v4.17h-0.80zM460.70 177.25h0.80v5.15h-0.80zM473.81 180.60h0.80v1.80h-0.80zM474.50 179.12h0.80v3.28h-0.80zM481.39 180.63h0.80v1.77h-0.80zM483.46 179.79h0.80v2.61h-0.80zM487.60 178.84h0.80v3.56h-0.80zM494.50 178.66h0.80v3.74h-0.80zM500.02 180.81h0.80v1.59h-0.80zM508.30 179.82h0.80v2.58h-0.80zM508.99 180.52h0.80v1.88h-0.80zM510.37 180.92h0.80v1.48h-0.80zM513.13 180.82h0.80v1.58h-0.80zM513.82 178.02h0.80v4.38h-0.80zM517.95 179.74h0.80v2.66h-0.80zM522.78 179.33h0.80v3.07h-0.80zM524.85 179.53h0.80v2.87h-0.80zM528.30 181.79h0.80v0.61h-0.80zM533.13 181.27h0.80v1.13h-0.80zM535.89 180.93h0.80v1.47h-0.80zM537.27 180.12h0.80v2.28h-0.80zM546.93 180.20h0.80v2.20h-0.80zM547.62 181.54h0.80v0.86h-0.80zM553.13 178.72h0.80v3.68h-0.80zM562.79 180.17h0.80v2.23h-0.80zM563.48 179.25h0.80v3.15h-0.80zM566.93 181.64h0.80v0.76h-0.80zM574.52 181.41h0.80v0.99h-0.80zM575.90 180.39h0.80v2.01h-0.80zM589.00 181.85h0.80v0.55h-0.80zM592.45 181.01h0.80v1.39h-0.80zM599.35 177.72h0.80v4.68h-0.80zM605.56 179.98h0.80v2.42h-0.80zM606.94 180.86h0.80v1.54h-0.80zM610.39 179.14h0.80v3.26h-0.80zM617.97 179.46h0.80v2.94h-0.80zM619.35 180.43h0.80v1.97h-0.80zM627.63 180.23h0.80v2.17h-0.80zM633.15 178.21h0.80v4.19h-0.80z" fill="#6a6ae0" fill-opacity="0.9"/>
<path d="M393.79 181.30h0.80v1.10h-0.80zM402.07 180.50h0.80v1.90h-0.80zM402.76 179.68h0.80v2.72h-0.80zM406.90 178.02h0.80v4.38h-0.80zM417.93 180.27h0.80v2.13h-0.80zM419.31 179.42h0.80v2.98h-0.80zM420.00 179.88h0.80v2.52h-0.80zM424.14 180.07h0.80v2.33h-0.80zM428.28 180.72h0.80v1.68h-0.80zM430.35 181.20h0.80v1.20h-0.80zM431.04 177.96h0.80v4.44h-0.80zM432.42 180.11h0.80v2.29h-0.80zM435.18 178.50h0.80v3.90h-0.80zM435.87 180.35h0.80v2.05h-0.80zM436.56 181.32h0.80v1.08h-0.80zM441.39 179.15h0.80v3.25h-0.80zM448.28 180.57h0.80v1.83h-0.80zM450.35 177.86h0.80v4.54h-0.80zM451.73 180.67h0.80v1.73h-0.80zM467.60 180.59h0.80v1.81h-0.80zM472.43 177.09h0.80v5.31h-0.80zM475.88 180.70h0.80v1.70h-0.80zM476.57 179.37h0.80v3.03h-0.80zM488.29 180.65h0.80v1.75h-0.80zM493.81 179.83h0.80v2.57h-0.80zM497.26 181.71h0.80v0.69h-0.80zM507.61 179.19h0.80v3.21h-0.80zM514.50 178.38h0.80v4.02h-0.80zM515.19 176.79h0.80v5.61h-0.80zM527.61 181.34h0.80v1.06h-0.80zM531.75 181.68h0.80v0.72h-0.80zM540.03 181.19h0.80v1.21h-0.80zM548.30 180.32h0.80v2.08h-0.80zM556.58 178.31h0.80v4.09h-0.80zM562.10 178.77h0.80v3.63h-0.80zM564.17 179.67h0.80v2.73h-0.80zM564.86 180.20h0.80v2.20h-0.80zM566.24 181.46h0.80v0.94h-0.80zM568.31 181.16h0.80v1.24h-0.80zM587.62 180.71h0.80v1.69h-0.80zM593.83 179.24h0.80v3.16h-0.80zM597.28 179.70h0.80v2.70h-0.80zM601.42 180.41h0.80v1.99h-0.80zM609.70 181.26h0.80v1.14h-0.80zM622.80 180.68h0.80v1.72h-0.80zM623.49 180.67h0.80v1.73h-0.80zM642.12 181.32h0.80v1.08h-0.80z" fill="#5a5a5a" fill-opacity="0.9"/>
<path d="M394.48 177.41h0.80v4.99h-0.80zM397.24 179.63h0.80v2.77h-0.80zM399.31 179.89h0.80v2.51h-0.80zM403.45 180.38h0.80v2.02h-0.80zM407.59 179.41h0.80v2.99h-0.80zM408.28 179.98h0.80v2.42h-0.80zM412.41 179.69h0.80v2.71h-0.80zM415.17 179.18h0.80v3.22h-0.80zM417.24 180.32h0.80v2.08h-0.80zM418.62 180.45h0.80v1.95h-0.80zM420.69 180.53h0.80v1.87h-0.80zM421.38 178.12h0.80v4.28h-0.80zM422.07 178.27h0.80v4.13h-0.80zM423.45 177.12h0.80v5.28h-0.80zM427.59 181.38h0.80v1.02h-0.80zM437.94 179.10h0.80v3.30h-0.80zM440.70 178.58h0.80v3.82h-0.80zM443.46 181.00h0.80v1.40h-0.80zM444.84 180.32h0.80v2.08h-0.80zM445.52 180.44h0.80v1.96h-0.80zM453.80 180.90h0.80v1.50h-0.80zM454.49 180.99h0.80v1.41h-0.80zM457.25 179.53h0.80v2.87h-0.80zM457.94 179.94h0.80v2.46h-0.80zM460.01 180.02h0.80v2.38h-0.80zM461.39 180.68h0.80v1.72h-0.80zM462.08 179.66h0.80v2.74h-0.80zM475.19 180.78h0.80v1.62h-0.80zM477.26 180.76h0.80v1.64h-0.80zM479.33 178.82h0.80v3.58h-0.80zM485.53 177.14h0.80v5.26h-0.80zM489.67 179.56h0.80v2.84h-0.80zM490.36 179.42h0.80v2.98h-0.80zM491.05 180.72h0.80v1.68h-0.80zM491.74 179.75h0.80v2.65h-0.80zM496.57 181.30h0.80v1.10h-0.80zM504.85 180.61h0.80v1.79h-0.80zM505.54 181.09h0.80v1.31h-0.80zM506.92 179.55h0.80v2.85h-0.80zM511.06 177.99h0.80v4.41h-0.80zM511.75 180.23h0.80v2.17h-0.80zM512.44 179.84h0.80v2.56h-0.80zM516.57 181.18h0.80v1.22h-0.80zM519.33 179.04h0.80v3.36h-0.80zM536.58 180.91h0.80v1.49h-0.80zM542.10 180.62h0.80v1.78h-0.80zM544.86 181.48h0.80v0.92h-0.80zM545.55 181.61h0.80v0.79h-0.80zM551.75 180.44h0.80v1.96h-0.80zM554.51 180.17h0.80v2.23h-0.80zM555.89 179.43h0.80v2.97h-0.80zM557.27 177.48h0.80v4.92h-0.80zM559.34 178.61h0.80v3.79h-0.80zM567.62 181.26h0.80v1.14h-0.80zM572.45 180.47h0.80v1.93h-0.80zM573.83 181.09h0.80v1.31h-0.80zM577.28 179.41h0.80v2.99h-0.80zM580.04 180.27h0.80v2.13h-0.80zM582.11 181.31h0.80v1.09h-0.80zM583.48 180.70h0.80v1.70h-0.80zM584.17 180.70h0.80v1.70h-0.80zM584.86 181.25h0.80v1.15h-0.80zM585.55 179.52h0.80v2.88h-0.80zM586.24 179.83h0.80v2.57h-0.80zM586.93 180.70h0.80v1.70h-0.80zM588.31 180.20h0.80v2.20h-0.80zM594.52 179.22h0.80v3.18h-0.80zM595.21 179.50h0.80v2.90h-0.80zM603.49 179.92h0.80v2.48h-0.80zM607.63 179.78h0.80v2.62h-0.80zM613.15 179.64h0.80v2.76h-0.80zM614.53 180.36h0.80v2.04h-0.80zM615.91 177.89h0.80v4.51h-0.80zM620.04 179.81h0.80v2.59h-0.80zM622.11 179.73h0.80v2.67h-0.80zM633.84 177.13h0.80v5.27h-0.80zM634.53 181.03h0.80v1.37h-0.80zM635.22 178.39h0.80v4.01h-0.80zM636.60 177.31h0.80v5.09h-0.80zM640.74 180.19h0.80v2.21h-0.80zM642.81 180.77h0.80v1.63h-0.80zM644.19 181.61h0.80v0.79h-0.80z" fill="#22b822" fill-opacity="0.9"/>
<path d="M395.17 179.78h0.80v2.62h-0.80zM400.00 178.33h0.80v4.07h-0.80zM401.38 179.83h0.80v2.57h-0.80zM405.52 177.03h0.80v5.37h-0.80zM408.97 180.61h0.80v1.79h-0.80zM411.03 179.17h0.80v3.23h-0.80zM411.72 179.31h0.80v3.09h-0.80zM414.48 178.97h0.80v3.43h-0.80zM415.86 176.93h0.80v5.47h-0.80zM428.97 178.48h0.80v3.92h-0.80zM431.73 180.47h0.80v1.93h-0.80zM438.63 179.23h0.80v3.17h-0.80zM442.08 180.74h0.80v1.66h-0.80zM452.42 180.55h0.80v1.85h-0.80zM453.11 180.04h0.80v2.36h-0.80zM456.56 180.48h0.80v1.92h-0.80zM465.53 180.31h0.80v2.09h-0.80zM468.29 179.10h0.80v3.30h-0.80zM470.36 181.19h0.80v1.21h-0.80zM478.64 180.88h0.80v1.52h-0.80zM480.70 179.28h0.80v3.12h-0.80zM484.15 178.30h0.80v4.10h-0.80zM486.22 178.68h0.80v3.72h-0.80zM488.98 180.40h0.80v2.00h-0.80zM493.12 180.72h0.80v1.68h-0.80zM495.19 180.71h0.80v1.69h-0.80zM498.64 180.24h0.80v2.16h-0.80zM499.33 181.84h0.80v0.56h-0.80zM509.68 180.21h0.80v2.19h-0.80zM515.88 180.09h0.80v2.31h-0.80zM517.26 176.99h0.80v5.41h-0.80zM518.64 179.91h0.80v2.49h-0.80zM521.40 180.40h0.80v2.00h-0.80zM523.47 176.77h0.80v5.63h-0.80zM524.16 180.81h0.80v1.59h-0.80zM528.99 181.10h0.80v1.30h-0.80zM530.37 181.57h0.80v0.83h-0.80zM532.44 181.00h0.80v1.40h-0.80zM533.82 181.00h0.80v1.40h-0.80zM535.20 180.52h0.80v1.88h-0.80zM539.34 181.16h0.80v1.24h-0.80zM541.41 181.45h0.80v0.95h-0.80zM548.99 180.47h0.80v1.93h-0.80zM549.68 180.89h0.80v1.51h-0.80zM551.06 179.74h0.80v2.66h-0.80zM555.20 179.19h0.80v3.21h-0.80zM557.96 178.58h0.80v3.82h-0.80zM560.03 177.66h0.80v4.74h-0.80zM569.00 180.92h0.80v1.48h-0.80zM570.38 180.59h0.80v1.81h-0.80zM571.76 181.53h0.80v0.87h-0.80zM573.14 179.33h0.80v3.07h-0.80zM581.42 179.21h0.80v3.19h-0.80zM590.38 180.36h0.80v2.04h-0.80zM591.07 180.00h0.80v2.40h-0.80zM593.14 180.14h0.80v2.26h-0.80zM596.59 177.05h0.80v5.35h-0.80zM598.66 181.21h0.80v1.19h-0.80zM602.11 176.94h0.80v5.46h-0.80zM602.80 178.99h0.80v3.41h-0.80zM606.25 179.91h0.80v2.49h-0.80zM608.32 177.99h0.80v4.41h-0.80zM611.08 179.66h0.80v2.74h-0.80zM611.77 179.09h0.80v3.31h-0.80zM620.73 179.73h0.80v2.67h-0.80zM625.56 180.28h0.80v2.12h-0.80zM629.01 178.90h0.80v3.50h-0.80zM631.08 181.07h0.80v1.33h-0.80zM637.98 180.82h0.80v1.58h-0.80zM640.05 180.55h0.80v1.85h-0.80zM643.50 180.64h0.80v1.76h-0.80z" fill="#2828cc" fill-opacity="0.9"/>
<path d="M395.86 181.12h0.80v1.28h-0.80zM404.14 180.62h0.80v1.78h-0.80zM410.35 180.43h0.80v1.97h-0.80zM413.10 179.12h0.80v3.28h-0.80zM413.79 179.79h0.80v2.61h-0.80zM426.21 179.86h0.80v2.54h-0.80zM426.90 177.89h0.80v4.51h-0.80zM440.01 180.43h0.80v1.97h-0.80zM451.04 177.88h0.80v4.52h-0.80zM458.63 180.12h0.80v2.28h-0.80zM462.77 179.78h0.80v2.62h-0.80zM468.98 179.14h0.80v3.26h-0.80zM469.67 179.80h0.80v2.60h-0.80zM471.74 177.30h0.80v5.10h-0.80zM480.01 181.17h0.80v1.23h-0.80zM486.91 180.74h0.80v1.66h-0.80zM492.43 180.58h0.80v1.82h-0.80zM501.40 181.37h0.80v1.03h-0.80zM504.16 178.96h0.80v3.44h-0.80zM534.51 180.82h0.80v1.58h-0.80zM537.96 181.74h0.80v0.66h-0.80zM544.17 181.50h0.80v0.90h-0.80zM546.24 181.63h0.80v0.77h-0.80zM550.37 179.27h0.80v3.13h-0.80zM553.82 177.57h0.80v4.83h-0.80zM558.65 178.98h0.80v3.42h-0.80zM560.72 178.07h0.80v4.33h-0.80zM561.41 178.75h0.80v3.65h-0.80zM571.07 181.42h0.80v0.98h-0.80zM578.66 179.36h0.80v3.04h-0.80zM582.79 178.86h0.80v3.54h-0.80zM589.69 180.76h0.80v1.64h-0.80zM595.90 180.98h0.80v1.42h-0.80zM600.04 180.56h0.80v1.84h-0.80zM600.73 180.08h0.80v2.32h-0.80zM609.01 180.62h0.80v1.78h-0.80zM612.46 179.35h0.80v3.05h-0.80zM621.42 178.95h0.80v3.45h-0.80zM624.87 177.33h0.80v5.07h-0.80zM628.32 180.76h0.80v1.64h-0.80zM629.70 180.27h0.80v2.13h-0.80zM635.91 180.29h0.80v2.11h-0.80zM637.29 178.78h0.80v3.62h-0.80zM639.36 180.34h0.80v2.06h-0.80zM641.43 180.46h0.80v1.94h-0.80zM644.88 180.13h0.80v2.27h-0.80z" fill="#e070a8" fill-opacity="0.9"/>
<path d="M397.93 180.20h0.80v2.20h-0.80zM400.69 179.96h0.80v2.44h-0.80zM404.83 178.99h0.80v3.41h-0.80zM406.21 180.28h0.80v2.12h-0.80zM409.66 179.14h0.80v3.26h-0.80zM422.76 177.92h0.80v4.48h-0.80zM424.83 179.73h0.80v2.67h-0.80zM433.80 179.88h0.80v2.52h-0.80zM434.49 178.74h0.80v3.66h-0.80zM437.25 179.93h0.80v2.47h-0.80zM439.32 178.56h0.80v3.84h-0.80zM446.90 178.53h0.80v3.87h-0.80zM449.66 178.33h0.80v4.07h-0.80zM455.18 180.09h0.80v2.31h-0.80zM459.32 180.40h0.80v2.00h-0.80zM463.46 178.27h0.80v4.13h-0.80zM464.15 179.49h0.80v2.91h-0.80zM464.84 180.78h0.80v1.62h-0.80zM466.22 180.99h0.80v1.41h-0.80zM466.91 179.75h0.80v2.65h-0.80zM471.05 177.50h0.80v4.90h-0.80zM473.12 180.49h0.80v1.91h-0.80zM477.95 178.45h0.80v3.95h-0.80zM482.08 180.81h0.80v1.59h-0.80zM482.77 180.49h0.80v1.91h-0.80zM484.84 180.75h0.80v1.65h-0.80zM495.88 180.42h0.80v1.98h-0.80zM497.95 179.43h0.80v2.97h-0.80zM500.71 181.06h0.80v1.34h-0.80zM502.09 181.35h0.80v1.05h-0.80zM502.78 179.88h0.80v2.52h-0.80zM503.47 179.59h0.80v2.81h-0.80zM506.23 180.73h0.80v1.67h-0.80zM520.02 177.92h0.80v4.48h-0.80zM520.71 178.75h0.80v3.65h-0.80zM522.09 180.93h0.80v1.47h-0.80zM525.54 181.15h0.80v1.25h-0.80zM526.23 179.35h0.80v3.05h-0.80zM526.92 181.27h0.80v1.13h-0.80zM529.68 180.82h0.80v1.58h-0.80zM531.06 181.89h0.80v0.51h-0.80zM538.65 181.46h0.80v0.94h-0.80zM540.72 180.53h0.80v1.87h-0.80zM542.79 181.72h0.80v0.68h-0.80zM543.48 181.12h0.80v1.28h-0.80zM552.44 179.62h0.80v2.78h-0.80zM565.55 181.75h0.80v0.65h-0.80zM569.69 180.60h0.80v1.80h-0.80zM575.21 180.84h0.80v1.56h-0.80zM576.59 180.30h0.80v2.10h-0.80zM577.97 178.56h0.80v3.84h-0.80zM579.35 178.43h0.80v3.97h-0.80zM580.73 179.04h0.80v3.36h-0.80zM591.76 181.32h0.80v1.08h-0.80zM597.97 179.24h0.80v3.16h-0.80zM604.18 179.61h0.80v2.79h-0.80zM604.87 180.28h0.80v2.12h-0.80zM613.84 178.27h0.80v4.13h-0.80zM615.22 181.07h0.80v1.33h-0.80zM616.60 177.58h0.80v4.82h-0.80zM617.28 180.76h0.80v1.64h-0.80zM618.66 180.80h0.80v1.60h-0.80zM624.18 181.30h0.80v1.10h-0.80zM626.25 180.39h0.80v2.01h-0.80zM626.94 180.90h0.80v1.50h-0.80zM630.39 179.18h0.80v3.22h-0.80zM631.77 179.77h0.80v2.63h-0.80zM632.46 179.71h0.80v2.69h-0.80zM638.67 179.60h0.80v2.80h-0.80z" fill="#d01a76" fill-opacity="0.9"/>
<rect x="393.80" y="177.80" width="1.20" height="4.60" fill="#2828cc" fill-opacity="0.88"/>
<line x1="394.40" y1="176.64" x2="394.40" y2="178.40" stroke="#b0b0b0" stroke-width="0.5" stroke-linecap="butt"/>
<rect x="393.50" y="176.04" width="1.80" height="1.10" fill="#a8a8a8" fill-opacity="0.9"/>
<rect x="395.17" y="159.30" width="1.45" height="23.10" fill="#e070a8" fill-opacity="0.88"/>
<line x1="395.90" y1="157.49" x2="395.90" y2="159.90" stroke="#b0b0b0" stroke-width="0.5" stroke-linecap="butt"/>
<rect x="395.00" y="156.89" width="1.80" height="1.10" fill="#a8a8a8" fill-opacity="0.9"/>
<rect x="395.30" y="160.81" width="1.20" height="0.90" fill="#b0306a" fill-opacity="0.8"/>
<rect x="396.90" y="173.90" width="1.20" height="8.50" fill="#2828cc" fill-opacity="0.88"/>
<line x1="397.50" y1="172.60" x2="397.50" y2="174.50" stroke="#b0b0b0" stroke-width="0.5" stroke-linecap="butt"/>
<rect x="396.60" y="172.00" width="1.80" height="1.10" fill="#a8a8a8" fill-opacity="0.9"/>
<rect x="398.20" y="176.40" width="1.60" height="6.00" fill="#5a5a5a" fill-opacity="0.88"/>
<line x1="399.00" y1="175.19" x2="399.00" y2="177.00" stroke="#b0b0b0" stroke-width="0.5" stroke-linecap="butt"/>
<rect x="398.10" y="174.59" width="1.80" height="1.10" fill="#a8a8a8" fill-opacity="0.9"/>
<rect x="400.00" y="179.40" width="1.20" height="3.00" fill="#22b822" fill-opacity="0.88"/>
<rect x="402.10" y="176.30" width="1.20" height="6.10" fill="#2828cc" fill-opacity="0.88"/>
<line x1="402.70" y1="175.09" x2="402.70" y2="176.90" stroke="#b0b0b0" stroke-width="0.5" stroke-linecap="butt"/>
<rect x="401.80" y="174.49" width="1.80" height="1.10" fill="#a8a8a8" fill-opacity="0.9"/>
<rect x="403.88" y="133.90" width="1.45" height="48.50" fill="#e070a8" fill-opacity="0.88"/>
<line x1="404.60" y1="131.20" x2="404.60" y2="134.50" stroke="#b0b0b0" stroke-width="0.5" stroke-linecap="butt"/>
<rect x="403.70" y="130.60" width="1.80" height="1.10" fill="#a8a8a8" fill-opacity="0.9"/>
<rect x="404.00" y="136.30" width="1.20" height="0.90" fill="#b0306a" fill-opacity="0.8"/>
<rect x="405.20" y="174.70" width="1.20" height="7.70" fill="#22b822" fill-opacity="0.88"/>
<line x1="405.80" y1="173.43" x2="405.80" y2="175.30" stroke="#b0b0b0" stroke-width="0.5" stroke-linecap="butt"/>
<rect x="404.90" y="172.83" width="1.80" height="1.10" fill="#a8a8a8" fill-opacity="0.9"/>
<rect x="406.17" y="154.30" width="1.45" height="28.10" fill="#e070a8" fill-opacity="0.88"/>
<line x1="406.90" y1="152.32" x2="406.90" y2="154.90" stroke="#b0b0b0" stroke-width="0.5" stroke-linecap="butt"/>
<rect x="406.00" y="151.72" width="1.80" height="1.10" fill="#a8a8a8" fill-opacity="0.9"/>
<rect x="406.30" y="155.98" width="1.20" height="0.90" fill="#b0306a" fill-opacity="0.8"/>
<rect x="407.10" y="176.30" width="1.20" height="6.10" fill="#22b822" fill-opacity="0.88"/>
<line x1="407.70" y1="175.09" x2="407.70" y2="176.90" stroke="#b0b0b0" stroke-width="0.5" stroke-linecap="butt"/>
<rect x="406.80" y="174.49" width="1.80" height="1.10" fill="#a8a8a8" fill-opacity="0.9"/>
<rect x="410.10" y="176.00" width="1.40" height="6.40" fill="#6a6ae0" fill-opacity="0.88"/>
<line x1="410.80" y1="174.78" x2="410.80" y2="176.60" stroke="#b0b0b0" stroke-width="0.5" stroke-linecap="butt"/>
<rect x="409.90" y="174.18" width="1.80" height="1.10" fill="#a8a8a8" fill-opacity="0.9"/>
<rect x="412.17" y="133.90" width="1.45" height="48.50" fill="#e070a8" fill-opacity="0.88"/>
<line x1="412.90" y1="131.20" x2="412.90" y2="134.50" stroke="#b0b0b0" stroke-width="0.5" stroke-linecap="butt"/>
<rect x="412.00" y="130.60" width="1.80" height="1.10" fill="#a8a8a8" fill-opacity="0.9"/>
<rect x="412.30" y="136.30" width="1.20" height="0.90" fill="#b0306a" fill-opacity="0.8"/>
<rect x="413.40" y="176.30" width="1.20" height="6.10" fill="#22b822" fill-opacity="0.88"/>
<line x1="414.00" y1="175.09" x2="414.00" y2="176.90" stroke="#b0b0b0" stroke-width="0.5" stroke-linecap="butt"/>
<rect x="413.10" y="174.49" width="1.80" height="1.10" fill="#a8a8a8" fill-opacity="0.9"/>
<rect x="414.47" y="165.30" width="1.45" height="17.10" fill="#e070a8" fill-opacity="0.88"/>
<line x1="415.20" y1="163.70" x2="415.20" y2="165.90" stroke="#b0b0b0" stroke-width="0.5" stroke-linecap="butt"/>
<rect x="414.30" y="163.10" width="1.80" height="1.10" fill="#a8a8a8" fill-opacity="0.9"/>
<rect x="414.60" y="166.60" width="1.20" height="0.90" fill="#b0306a" fill-opacity="0.8"/>
<rect x="416.77" y="173.10" width="1.25" height="9.30" fill="#d01a76" fill-opacity="0.88"/>
<line x1="417.40" y1="171.77" x2="417.40" y2="173.70" stroke="#b0b0b0" stroke-width="0.5" stroke-linecap="butt"/>
<rect x="416.50" y="171.17" width="1.80" height="1.10" fill="#a8a8a8" fill-opacity="0.9"/>
<rect x="418.88" y="176.30" width="1.25" height="6.10" fill="#d01a76" fill-opacity="0.88"/>
<line x1="419.50" y1="175.09" x2="419.50" y2="176.90" stroke="#b0b0b0" stroke-width="0.5" stroke-linecap="butt"/>
<rect x="418.60" y="174.49" width="1.80" height="1.10" fill="#a8a8a8" fill-opacity="0.9"/>
<rect x="420.77" y="171.60" width="1.25" height="10.80" fill="#d01a76" fill-opacity="0.88"/>
<line x1="421.40" y1="170.22" x2="421.40" y2="172.20" stroke="#b0b0b0" stroke-width="0.5" stroke-linecap="butt"/>
<rect x="420.50" y="169.62" width="1.80" height="1.10" fill="#a8a8a8" fill-opacity="0.9"/>
<rect x="424.77" y="177.80" width="1.25" height="4.60" fill="#d01a76" fill-opacity="0.88"/>
<line x1="425.40" y1="176.64" x2="425.40" y2="178.40" stroke="#b0b0b0" stroke-width="0.5" stroke-linecap="butt"/>
<rect x="424.50" y="176.04" width="1.80" height="1.10" fill="#a8a8a8" fill-opacity="0.9"/>
<rect x="429.07" y="177.50" width="1.25" height="4.90" fill="#d01a76" fill-opacity="0.88"/>
<line x1="429.70" y1="176.33" x2="429.70" y2="178.10" stroke="#b0b0b0" stroke-width="0.5" stroke-linecap="butt"/>
<rect x="428.80" y="175.73" width="1.80" height="1.10" fill="#a8a8a8" fill-opacity="0.9"/>
<rect x="431.07" y="179.20" width="1.25" height="3.20" fill="#d01a76" fill-opacity="0.88"/>
<rect x="443.57" y="176.60" width="1.45" height="5.80" fill="#e070a8" fill-opacity="0.88"/>
<line x1="444.30" y1="175.40" x2="444.30" y2="177.20" stroke="#b0b0b0" stroke-width="0.5" stroke-linecap="butt"/>
<rect x="443.40" y="174.80" width="1.80" height="1.10" fill="#a8a8a8" fill-opacity="0.9"/>
<rect x="453.88" y="176.00" width="1.25" height="6.40" fill="#d01a76" fill-opacity="0.88"/>
<line x1="454.50" y1="174.78" x2="454.50" y2="176.60" stroke="#b0b0b0" stroke-width="0.5" stroke-linecap="butt"/>
<rect x="453.60" y="174.18" width="1.80" height="1.10" fill="#a8a8a8" fill-opacity="0.9"/>
<rect x="455.00" y="177.90" width="1.20" height="4.50" fill="#2828cc" fill-opacity="0.88"/>
<line x1="455.60" y1="176.74" x2="455.60" y2="178.50" stroke="#b0b0b0" stroke-width="0.5" stroke-linecap="butt"/>
<rect x="454.70" y="176.14" width="1.80" height="1.10" fill="#a8a8a8" fill-opacity="0.9"/>
<rect x="457.60" y="174.70" width="1.20" height="7.70" fill="#2828cc" fill-opacity="0.88"/>
<line x1="458.20" y1="173.43" x2="458.20" y2="175.30" stroke="#b0b0b0" stroke-width="0.5" stroke-linecap="butt"/>
<rect x="457.30" y="172.83" width="1.80" height="1.10" fill="#a8a8a8" fill-opacity="0.9"/>
<rect x="458.90" y="177.10" width="1.20" height="5.30" fill="#22b822" fill-opacity="0.88"/>
<line x1="459.50" y1="175.91" x2="459.50" y2="177.70" stroke="#b0b0b0" stroke-width="0.5" stroke-linecap="butt"/>
<rect x="458.60" y="175.31" width="1.80" height="1.10" fill="#a8a8a8" fill-opacity="0.9"/>
<rect x="460.50" y="173.90" width="1.20" height="8.50" fill="#2828cc" fill-opacity="0.88"/>
<line x1="461.10" y1="172.60" x2="461.10" y2="174.50" stroke="#b0b0b0" stroke-width="0.5" stroke-linecap="butt"/>
<rect x="460.20" y="172.00" width="1.80" height="1.10" fill="#a8a8a8" fill-opacity="0.9"/>
<rect x="459.90" y="176.00" width="1.20" height="6.40" fill="#2828cc" fill-opacity="0.88"/>
<line x1="460.50" y1="174.78" x2="460.50" y2="176.60" stroke="#b0b0b0" stroke-width="0.5" stroke-linecap="butt"/>
<rect x="459.60" y="174.18" width="1.80" height="1.10" fill="#a8a8a8" fill-opacity="0.9"/>
<rect x="463.77" y="177.90" width="1.25" height="4.50" fill="#d01a76" fill-opacity="0.88"/>
<line x1="464.40" y1="176.74" x2="464.40" y2="178.50" stroke="#b0b0b0" stroke-width="0.5" stroke-linecap="butt"/>
<rect x="463.50" y="176.14" width="1.80" height="1.10" fill="#a8a8a8" fill-opacity="0.9"/>
<rect x="465.90" y="177.10" width="1.40" height="5.30" fill="#6a6ae0" fill-opacity="0.88"/>
<line x1="466.60" y1="175.91" x2="466.60" y2="177.70" stroke="#b0b0b0" stroke-width="0.5" stroke-linecap="butt"/>
<rect x="465.70" y="175.31" width="1.80" height="1.10" fill="#a8a8a8" fill-opacity="0.9"/>
<rect x="467.20" y="179.40" width="1.20" height="3.00" fill="#22b822" fill-opacity="0.88"/>
<rect x="476.68" y="176.30" width="1.25" height="6.10" fill="#d01a76" fill-opacity="0.88"/>
<line x1="477.30" y1="175.09" x2="477.30" y2="176.90" stroke="#b0b0b0" stroke-width="0.5" stroke-linecap="butt"/>
<rect x="476.40" y="174.49" width="1.80" height="1.10" fill="#a8a8a8" fill-opacity="0.9"/>
<rect x="477.90" y="177.60" width="1.20" height="4.80" fill="#2828cc" fill-opacity="0.88"/>
<line x1="478.50" y1="176.43" x2="478.50" y2="178.20" stroke="#b0b0b0" stroke-width="0.5" stroke-linecap="butt"/>
<rect x="477.60" y="175.83" width="1.80" height="1.10" fill="#a8a8a8" fill-opacity="0.9"/>
<rect x="478.57" y="148.00" width="1.25" height="34.40" fill="#d01a76" fill-opacity="0.88"/>
<line x1="479.20" y1="145.80" x2="479.20" y2="148.60" stroke="#b0b0b0" stroke-width="0.5" stroke-linecap="butt"/>
<rect x="478.30" y="145.20" width="1.80" height="1.10" fill="#a8a8a8" fill-opacity="0.9"/>
<rect x="478.60" y="149.90" width="1.20" height="0.90" fill="#b0306a" fill-opacity="0.8"/>
<rect x="479.70" y="176.00" width="1.40" height="6.40" fill="#6a6ae0" fill-opacity="0.88"/>
<line x1="480.40" y1="174.78" x2="480.40" y2="176.60" stroke="#b0b0b0" stroke-width="0.5" stroke-linecap="butt"/>
<rect x="479.50" y="174.18" width="1.80" height="1.10" fill="#a8a8a8" fill-opacity="0.9"/>
<rect x="480.60" y="177.10" width="1.20" height="5.30" fill="#22b822" fill-opacity="0.88"/>
<line x1="481.20" y1="175.91" x2="481.20" y2="177.70" stroke="#b0b0b0" stroke-width="0.5" stroke-linecap="butt"/>
<rect x="480.30" y="175.31" width="1.80" height="1.10" fill="#a8a8a8" fill-opacity="0.9"/>
<rect x="482.57" y="147.20" width="1.25" height="35.20" fill="#d01a76" fill-opacity="0.88"/>
<line x1="483.20" y1="144.97" x2="483.20" y2="147.80" stroke="#b0b0b0" stroke-width="0.5" stroke-linecap="butt"/>
<rect x="482.30" y="144.37" width="1.80" height="1.10" fill="#a8a8a8" fill-opacity="0.9"/>
<rect x="482.60" y="149.13" width="1.20" height="0.90" fill="#b0306a" fill-opacity="0.8"/>
<rect x="485.57" y="156.70" width="1.25" height="25.70" fill="#d01a76" fill-opacity="0.88"/>
<line x1="486.20" y1="154.80" x2="486.20" y2="157.30" stroke="#b0b0b0" stroke-width="0.5" stroke-linecap="butt"/>
<rect x="485.30" y="154.20" width="1.80" height="1.10" fill="#a8a8a8" fill-opacity="0.9"/>
<rect x="485.60" y="158.30" width="1.20" height="0.90" fill="#b0306a" fill-opacity="0.8"/>
<rect x="488.77" y="177.10" width="1.25" height="5.30" fill="#d01a76" fill-opacity="0.88"/>
<line x1="489.40" y1="175.91" x2="489.40" y2="177.70" stroke="#b0b0b0" stroke-width="0.5" stroke-linecap="butt"/>
<rect x="488.50" y="175.31" width="1.80" height="1.10" fill="#a8a8a8" fill-opacity="0.9"/>
<rect x="492.77" y="179.40" width="1.25" height="3.00" fill="#d01a76" fill-opacity="0.88"/>
<rect x="509.57" y="174.70" width="1.25" height="7.70" fill="#d01a76" fill-opacity="0.88"/>
<line x1="510.20" y1="173.43" x2="510.20" y2="175.30" stroke="#b0b0b0" stroke-width="0.5" stroke-linecap="butt"/>
<rect x="509.30" y="172.83" width="1.80" height="1.10" fill="#a8a8a8" fill-opacity="0.9"/>
<rect x="511.70" y="180.20" width="1.20" height="2.20" fill="#2828cc" fill-opacity="0.88"/>
<rect x="513.88" y="176.00" width="1.25" height="6.40" fill="#d01a76" fill-opacity="0.88"/>
<line x1="514.50" y1="174.78" x2="514.50" y2="176.60" stroke="#b0b0b0" stroke-width="0.5" stroke-linecap="butt"/>
<rect x="513.60" y="174.18" width="1.80" height="1.10" fill="#a8a8a8" fill-opacity="0.9"/>
<rect x="517.98" y="175.00" width="1.25" height="7.40" fill="#d01a76" fill-opacity="0.88"/>
<line x1="518.60" y1="173.74" x2="518.60" y2="175.60" stroke="#b0b0b0" stroke-width="0.5" stroke-linecap="butt"/>
<rect x="517.70" y="173.14" width="1.80" height="1.10" fill="#a8a8a8" fill-opacity="0.9"/>
<rect x="520.17" y="178.20" width="1.25" height="4.20" fill="#d01a76" fill-opacity="0.88"/>
<rect x="541.07" y="179.40" width="1.45" height="3.00" fill="#e070a8" fill-opacity="0.88"/>
<rect x="554.90" y="180.20" width="1.20" height="2.20" fill="#22b822" fill-opacity="0.88"/>
<rect x="556.40" y="178.60" width="1.20" height="3.80" fill="#2828cc" fill-opacity="0.88"/>
<rect x="558.48" y="152.40" width="1.25" height="30.00" fill="#d01a76" fill-opacity="0.88"/>
<line x1="559.10" y1="150.35" x2="559.10" y2="153.00" stroke="#b0b0b0" stroke-width="0.5" stroke-linecap="butt"/>
<rect x="558.20" y="149.75" width="1.80" height="1.10" fill="#a8a8a8" fill-opacity="0.9"/>
<rect x="558.50" y="154.15" width="1.20" height="0.90" fill="#b0306a" fill-opacity="0.8"/>
<rect x="560.10" y="179.40" width="1.20" height="3.00" fill="#2828cc" fill-opacity="0.88"/>
<rect x="577.90" y="176.00" width="1.20" height="6.40" fill="#2828cc" fill-opacity="0.88"/>
<line x1="578.50" y1="174.78" x2="578.50" y2="176.60" stroke="#b0b0b0" stroke-width="0.5" stroke-linecap="butt"/>
<rect x="577.60" y="174.18" width="1.80" height="1.10" fill="#a8a8a8" fill-opacity="0.9"/>
<rect x="580.40" y="179.20" width="1.20" height="3.20" fill="#22b822" fill-opacity="0.88"/>
<rect x="582.40" y="179.40" width="1.20" height="3.00" fill="#2828cc" fill-opacity="0.88"/>
<rect x="597.80" y="176.60" width="1.20" height="5.80" fill="#22b822" fill-opacity="0.88"/>
<line x1="598.40" y1="175.40" x2="598.40" y2="177.20" stroke="#b0b0b0" stroke-width="0.5" stroke-linecap="butt"/>
<rect x="597.50" y="174.80" width="1.80" height="1.10" fill="#a8a8a8" fill-opacity="0.9"/>
<rect x="600.58" y="176.00" width="1.25" height="6.40" fill="#d01a76" fill-opacity="0.88"/>
<line x1="601.20" y1="174.78" x2="601.20" y2="176.60" stroke="#b0b0b0" stroke-width="0.5" stroke-linecap="butt"/>
<rect x="600.30" y="174.18" width="1.80" height="1.10" fill="#a8a8a8" fill-opacity="0.9"/>
<rect x="602.77" y="177.80" width="1.25" height="4.60" fill="#d01a76" fill-opacity="0.88"/>
<line x1="603.40" y1="176.64" x2="603.40" y2="178.40" stroke="#b0b0b0" stroke-width="0.5" stroke-linecap="butt"/>
<rect x="602.50" y="176.04" width="1.80" height="1.10" fill="#a8a8a8" fill-opacity="0.9"/>
<rect x="609.50" y="177.80" width="1.20" height="4.60" fill="#2828cc" fill-opacity="0.88"/>
<line x1="610.10" y1="176.64" x2="610.10" y2="178.40" stroke="#b0b0b0" stroke-width="0.5" stroke-linecap="butt"/>
<rect x="609.20" y="176.04" width="1.80" height="1.10" fill="#a8a8a8" fill-opacity="0.9"/>
<rect x="612.67" y="178.60" width="1.25" height="3.80" fill="#d01a76" fill-opacity="0.88"/>
<rect x="619.70" y="176.00" width="1.20" height="6.40" fill="#2828cc" fill-opacity="0.88"/>
<line x1="620.30" y1="174.78" x2="620.30" y2="176.60" stroke="#b0b0b0" stroke-width="0.5" stroke-linecap="butt"/>
<rect x="619.40" y="174.18" width="1.80" height="1.10" fill="#a8a8a8" fill-opacity="0.9"/>
<rect x="623.27" y="177.80" width="1.25" height="4.60" fill="#d01a76" fill-opacity="0.88"/>
<line x1="623.90" y1="176.64" x2="623.90" y2="178.40" stroke="#b0b0b0" stroke-width="0.5" stroke-linecap="butt"/>
<rect x="623.00" y="176.04" width="1.80" height="1.10" fill="#a8a8a8" fill-opacity="0.9"/>
<rect x="625.07" y="173.90" width="1.45" height="8.50" fill="#e070a8" fill-opacity="0.88"/>
<line x1="625.80" y1="172.60" x2="625.80" y2="174.50" stroke="#b0b0b0" stroke-width="0.5" stroke-linecap="butt"/>
<rect x="624.90" y="172.00" width="1.80" height="1.10" fill="#a8a8a8" fill-opacity="0.9"/>
<rect x="627.48" y="177.10" width="1.45" height="5.30" fill="#e070a8" fill-opacity="0.88"/>
<line x1="628.20" y1="175.91" x2="628.20" y2="177.70" stroke="#b0b0b0" stroke-width="0.5" stroke-linecap="butt"/>
<rect x="627.30" y="175.31" width="1.80" height="1.10" fill="#a8a8a8" fill-opacity="0.9"/>
<rect x="629.58" y="170.80" width="1.25" height="11.60" fill="#d01a76" fill-opacity="0.88"/>
<line x1="630.20" y1="169.39" x2="630.20" y2="171.40" stroke="#b0b0b0" stroke-width="0.5" stroke-linecap="butt"/>
<rect x="629.30" y="168.79" width="1.80" height="1.10" fill="#a8a8a8" fill-opacity="0.9"/>
<rect x="633.77" y="177.80" width="1.25" height="4.60" fill="#d01a76" fill-opacity="0.88"/>
<line x1="634.40" y1="176.64" x2="634.40" y2="178.40" stroke="#b0b0b0" stroke-width="0.5" stroke-linecap="butt"/>
<rect x="633.50" y="176.04" width="1.80" height="1.10" fill="#a8a8a8" fill-opacity="0.9"/>
<rect x="636.98" y="176.00" width="1.25" height="6.40" fill="#d01a76" fill-opacity="0.88"/>
<line x1="637.60" y1="174.78" x2="637.60" y2="176.60" stroke="#b0b0b0" stroke-width="0.5" stroke-linecap="butt"/>
<rect x="636.70" y="174.18" width="1.80" height="1.10" fill="#a8a8a8" fill-opacity="0.9"/>
<rect x="641.98" y="179.40" width="1.25" height="3.00" fill="#d01a76" fill-opacity="0.88"/>
<path d="M380.30,129.00 L380.30,184.70 L684.50,184.70" fill="none" stroke="#000" stroke-width="1.35" stroke-linejoin="round"/>
<line x1="377.90" y1="182.40" x2="380.30" y2="182.40" stroke="#000" stroke-width="1.0" stroke-linecap="butt"/>
<text x="376.40" y="185.00" font-size="6.9" font-weight="normal" text-anchor="end" fill="#1a1a1a" stroke="#1a1a1a" stroke-width="0.15">0</text>
<line x1="377.90" y1="165.30" x2="380.30" y2="165.30" stroke="#000" stroke-width="1.0" stroke-linecap="butt"/>
<text x="376.40" y="167.90" font-size="6.9" font-weight="normal" text-anchor="end" fill="#1a1a1a" stroke="#1a1a1a" stroke-width="0.15">20</text>
<line x1="377.90" y1="148.20" x2="380.30" y2="148.20" stroke="#000" stroke-width="1.0" stroke-linecap="butt"/>
<text x="376.40" y="150.80" font-size="6.9" font-weight="normal" text-anchor="end" fill="#1a1a1a" stroke="#1a1a1a" stroke-width="0.15">40</text>
<line x1="377.90" y1="131.10" x2="380.30" y2="131.10" stroke="#000" stroke-width="1.0" stroke-linecap="butt"/>
<text x="376.40" y="133.70" font-size="6.9" font-weight="normal" text-anchor="end" fill="#1a1a1a" stroke="#1a1a1a" stroke-width="0.15">60</text>
<line x1="393.50" y1="184.70" x2="393.50" y2="187.10" stroke="#000" stroke-width="1.0" stroke-linecap="butt"/>
<text x="393.20" y="193.10" font-size="6.9" font-weight="normal" text-anchor="middle" fill="#1a1a1a" stroke="#1a1a1a" stroke-width="0.15">0</text>
<line x1="462.48" y1="184.70" x2="462.48" y2="187.10" stroke="#000" stroke-width="1.0" stroke-linecap="butt"/>
<text x="462.18" y="193.10" font-size="6.9" font-weight="normal" text-anchor="middle" fill="#1a1a1a" stroke="#1a1a1a" stroke-width="0.15">100</text>
<line x1="531.46" y1="184.70" x2="531.46" y2="187.10" stroke="#000" stroke-width="1.0" stroke-linecap="butt"/>
<text x="531.16" y="193.10" font-size="6.9" font-weight="normal" text-anchor="middle" fill="#1a1a1a" stroke="#1a1a1a" stroke-width="0.15">200</text>
<line x1="600.44" y1="184.70" x2="600.44" y2="187.10" stroke="#000" stroke-width="1.0" stroke-linecap="butt"/>
<text x="600.14" y="193.10" font-size="6.9" font-weight="normal" text-anchor="middle" fill="#1a1a1a" stroke="#1a1a1a" stroke-width="0.15">300</text>
<line x1="669.42" y1="184.70" x2="669.42" y2="187.10" stroke="#000" stroke-width="1.0" stroke-linecap="butt"/>
<text x="669.12" y="193.10" font-size="6.9" font-weight="normal" text-anchor="middle" fill="#1a1a1a" stroke="#1a1a1a" stroke-width="0.15">400</text>
<text x="527.00" y="206.90" font-size="9.7" font-weight="bold" text-anchor="middle" fill="#000">RNA position</text>
<text x="-0.30" y="223.00" font-size="9.5" font-weight="bold" text-anchor="start" fill="#000">e</text>
<text x="163.40" y="229.90" font-size="9.8" font-weight="bold" text-anchor="middle"><tspan font-style="italic">M. m.</tspan> miR-676-3p brain (hippocampus)</text>
<text transform="translate(14.00,276.90) rotate(-90)" font-size="9.7" font-weight="bold" text-anchor="middle">ø (NCleavage)</text>
<line x1="46.27" y1="317.90" x2="57.53" y2="317.90" stroke="#bfe2b8" stroke-width="0.7" stroke-linecap="butt"/>
<line x1="58.73" y1="317.90" x2="70.00" y2="317.90" stroke="#bfe2b8" stroke-width="0.7" stroke-linecap="butt"/>
<line x1="71.20" y1="317.90" x2="82.46" y2="317.90" stroke="#f2bcd4" stroke-width="0.7" stroke-linecap="butt"/>
<line x1="83.66" y1="317.90" x2="94.93" y2="317.90" stroke="#dddddd" stroke-width="0.7" stroke-linecap="butt"/>
<line x1="96.13" y1="317.90" x2="107.39" y2="317.90" stroke="#bfe2b8" stroke-width="0.7" stroke-linecap="butt"/>
<line x1="108.59" y1="317.90" x2="119.86" y2="317.90" stroke="#bfe2b8" stroke-width="0.7" stroke-linecap="butt"/>
<line x1="121.06" y1="317.90" x2="132.32" y2="317.90" stroke="#dddddd" stroke-width="0.7" stroke-linecap="butt"/>
<line x1="133.52" y1="317.90" x2="144.79" y2="317.90" stroke="#f2bcd4" stroke-width="0.7" stroke-linecap="butt"/>
<line x1="145.99" y1="317.90" x2="157.25" y2="317.90" stroke="#b8bce6" stroke-width="0.7" stroke-linecap="butt"/>
<line x1="158.45" y1="317.90" x2="169.72" y2="317.90" stroke="#f2bcd4" stroke-width="0.7" stroke-linecap="butt"/>
<line x1="170.92" y1="317.90" x2="182.18" y2="317.90" stroke="#f2bcd4" stroke-width="0.7" stroke-linecap="butt"/>
<line x1="183.38" y1="317.90" x2="194.65" y2="317.90" stroke="#dddddd" stroke-width="0.7" stroke-linecap="butt"/>
<line x1="195.85" y1="317.90" x2="207.11" y2="317.90" stroke="#dddddd" stroke-width="0.7" stroke-linecap="butt"/>
<line x1="208.31" y1="317.90" x2="219.58" y2="317.90" stroke="#f2bcd4" stroke-width="0.7" stroke-linecap="butt"/>
<line x1="220.78" y1="317.90" x2="232.04" y2="317.90" stroke="#dddddd" stroke-width="0.7" stroke-linecap="butt"/>
<line x1="233.24" y1="317.90" x2="244.51" y2="317.90" stroke="#dddddd" stroke-width="0.7" stroke-linecap="butt"/>
<line x1="245.71" y1="317.90" x2="256.97" y2="317.90" stroke="#f2bcd4" stroke-width="0.7" stroke-linecap="butt"/>
<line x1="258.17" y1="317.90" x2="269.44" y2="317.90" stroke="#b8bce6" stroke-width="0.7" stroke-linecap="butt"/>
<line x1="270.64" y1="317.90" x2="281.90" y2="317.90" stroke="#f2bcd4" stroke-width="0.7" stroke-linecap="butt"/>
<line x1="283.10" y1="317.90" x2="294.37" y2="317.90" stroke="#bfe2b8" stroke-width="0.7" stroke-linecap="butt"/>
<line x1="295.57" y1="317.90" x2="306.83" y2="317.90" stroke="#dddddd" stroke-width="0.7" stroke-linecap="butt"/>
<line x1="96.26" y1="317.90" x2="107.26" y2="317.90" stroke="#4aaa3a" stroke-width="0.95" stroke-linecap="butt"/>
<line x1="121.69" y1="317.90" x2="131.69" y2="317.90" stroke="#777" stroke-width="0.95" stroke-linecap="butt"/>
<line x1="133.66" y1="317.90" x2="144.66" y2="317.90" stroke="#cc0a5f" stroke-width="0.95" stroke-linecap="butt"/>
<rect x="70.88" y="244.00" width="11.90" height="73.90" fill="#c80863"/>
<line x1="50.30" y1="317.90" x2="53.50" y2="317.90" stroke="#000" stroke-width="2.1" stroke-linecap="round"/>
<line x1="62.76" y1="317.90" x2="65.96" y2="317.90" stroke="#000" stroke-width="2.1" stroke-linecap="round"/>
<line x1="87.69" y1="317.90" x2="90.89" y2="317.90" stroke="#000" stroke-width="2.1" stroke-linecap="round"/>
<line x1="100.16" y1="317.90" x2="103.36" y2="317.90" stroke="#000" stroke-width="2.1" stroke-linecap="round"/>
<line x1="112.62" y1="317.90" x2="115.82" y2="317.90" stroke="#000" stroke-width="2.1" stroke-linecap="round"/>
<line x1="125.09" y1="317.90" x2="128.29" y2="317.90" stroke="#000" stroke-width="2.1" stroke-linecap="round"/>
<line x1="137.56" y1="317.90" x2="140.75" y2="317.90" stroke="#000" stroke-width="2.1" stroke-linecap="round"/>
<line x1="150.02" y1="317.90" x2="153.22" y2="317.90" stroke="#000" stroke-width="2.1" stroke-linecap="round"/>
<line x1="162.49" y1="317.90" x2="165.69" y2="317.90" stroke="#000" stroke-width="2.1" stroke-linecap="round"/>
<line x1="174.95" y1="317.90" x2="178.15" y2="317.90" stroke="#000" stroke-width="2.1" stroke-linecap="round"/>
<line x1="187.42" y1="317.90" x2="190.62" y2="317.90" stroke="#000" stroke-width="2.1" stroke-linecap="round"/>
<line x1="199.88" y1="317.90" x2="203.08" y2="317.90" stroke="#000" stroke-width="2.1" stroke-linecap="round"/>
<line x1="212.34" y1="317.90" x2="215.54" y2="317.90" stroke="#000" stroke-width="2.1" stroke-linecap="round"/>
<line x1="224.81" y1="317.90" x2="228.01" y2="317.90" stroke="#000" stroke-width="2.1" stroke-linecap="round"/>
<line x1="237.28" y1="317.90" x2="240.47" y2="317.90" stroke="#000" stroke-width="2.1" stroke-linecap="round"/>
<line x1="249.74" y1="317.90" x2="252.94" y2="317.90" stroke="#000" stroke-width="2.1" stroke-linecap="round"/>
<line x1="262.20" y1="317.90" x2="265.41" y2="317.90" stroke="#000" stroke-width="2.1" stroke-linecap="round"/>
<line x1="274.67" y1="317.90" x2="277.87" y2="317.90" stroke="#000" stroke-width="2.1" stroke-linecap="round"/>
<line x1="287.13" y1="317.90" x2="290.34" y2="317.90" stroke="#000" stroke-width="2.1" stroke-linecap="round"/>
<line x1="299.60" y1="317.90" x2="302.80" y2="317.90" stroke="#000" stroke-width="2.1" stroke-linecap="round"/>
<ellipse cx="101.76" cy="315.90" rx="1.43" ry="1.56" fill="#c4c4c4"/>
<rect x="99.16" y="316.41" width="5.20" height="2.18" rx="1.04" fill="#000"/>
<ellipse cx="126.69" cy="315.90" rx="1.43" ry="1.56" fill="#c4c4c4"/>
<rect x="124.09" y="316.41" width="5.20" height="2.18" rx="1.04" fill="#000"/>
<ellipse cx="139.16" cy="314.80" rx="1.43" ry="1.56" fill="#c4c4c4"/>
<rect x="136.56" y="315.31" width="5.20" height="2.18" rx="1.04" fill="#000"/>
<path d="M44.30,237.90 L44.30,321.30 L307.80,321.30" fill="none" stroke="#000" stroke-width="1.6"/>
<line x1="41.10" y1="317.90" x2="44.30" y2="317.90" stroke="#000" stroke-width="1.2" stroke-linecap="butt"/>
<text x="39.50" y="320.30" font-size="6.7" font-weight="bold" text-anchor="end" fill="#000">0</text>
<line x1="41.10" y1="298.50" x2="44.30" y2="298.50" stroke="#000" stroke-width="1.2" stroke-linecap="butt"/>
<text x="39.50" y="300.90" font-size="6.7" font-weight="bold" text-anchor="end" fill="#000">250</text>
<line x1="41.10" y1="279.20" x2="44.30" y2="279.20" stroke="#000" stroke-width="1.2" stroke-linecap="butt"/>
<text x="39.50" y="281.60" font-size="6.7" font-weight="bold" text-anchor="end" fill="#000">500</text>
<line x1="41.10" y1="259.90" x2="44.30" y2="259.90" stroke="#000" stroke-width="1.2" stroke-linecap="butt"/>
<text x="39.50" y="262.30" font-size="6.7" font-weight="bold" text-anchor="end" fill="#000">750</text>
<line x1="41.10" y1="240.40" x2="44.30" y2="240.40" stroke="#000" stroke-width="1.2" stroke-linecap="butt"/>
<text x="39.50" y="242.80" font-size="6.7" font-weight="bold" text-anchor="end" fill="#000">1000</text>
<line x1="51.40" y1="321.30" x2="51.40" y2="325.10" stroke="#000" stroke-width="1.2" stroke-linecap="butt"/>
<line x1="63.86" y1="321.30" x2="63.86" y2="325.10" stroke="#000" stroke-width="1.2" stroke-linecap="butt"/>
<line x1="76.33" y1="321.30" x2="76.33" y2="325.10" stroke="#000" stroke-width="1.2" stroke-linecap="butt"/>
<line x1="88.79" y1="321.30" x2="88.79" y2="325.10" stroke="#000" stroke-width="1.2" stroke-linecap="butt"/>
<line x1="101.26" y1="321.30" x2="101.26" y2="325.10" stroke="#000" stroke-width="1.2" stroke-linecap="butt"/>
<line x1="113.72" y1="321.30" x2="113.72" y2="325.10" stroke="#000" stroke-width="1.2" stroke-linecap="butt"/>
<line x1="126.19" y1="321.30" x2="126.19" y2="325.10" stroke="#000" stroke-width="1.2" stroke-linecap="butt"/>
<line x1="138.66" y1="321.30" x2="138.66" y2="325.10" stroke="#000" stroke-width="1.2" stroke-linecap="butt"/>
<line x1="151.12" y1="321.30" x2="151.12" y2="325.10" stroke="#000" stroke-width="1.2" stroke-linecap="butt"/>
<line x1="163.59" y1="321.30" x2="163.59" y2="325.10" stroke="#000" stroke-width="1.2" stroke-linecap="butt"/>
<line x1="176.05" y1="321.30" x2="176.05" y2="325.10" stroke="#000" stroke-width="1.2" stroke-linecap="butt"/>
<line x1="188.52" y1="321.30" x2="188.52" y2="325.10" stroke="#000" stroke-width="1.2" stroke-linecap="butt"/>
<line x1="200.98" y1="321.30" x2="200.98" y2="325.10" stroke="#000" stroke-width="1.2" stroke-linecap="butt"/>
<line x1="213.44" y1="321.30" x2="213.44" y2="325.10" stroke="#000" stroke-width="1.2" stroke-linecap="butt"/>
<line x1="225.91" y1="321.30" x2="225.91" y2="325.10" stroke="#000" stroke-width="1.2" stroke-linecap="butt"/>
<line x1="238.38" y1="321.30" x2="238.38" y2="325.10" stroke="#000" stroke-width="1.2" stroke-linecap="butt"/>
<line x1="250.84" y1="321.30" x2="250.84" y2="325.10" stroke="#000" stroke-width="1.2" stroke-linecap="butt"/>
<line x1="263.31" y1="321.30" x2="263.31" y2="325.10" stroke="#000" stroke-width="1.2" stroke-linecap="butt"/>
<line x1="275.77" y1="321.30" x2="275.77" y2="325.10" stroke="#000" stroke-width="1.2" stroke-linecap="butt"/>
<line x1="288.24" y1="321.30" x2="288.24" y2="325.10" stroke="#000" stroke-width="1.2" stroke-linecap="butt"/>
<line x1="300.70" y1="321.30" x2="300.70" y2="325.10" stroke="#000" stroke-width="1.2" stroke-linecap="butt"/>
<text x="51.40" y="331.10" font-size="6.7" font-weight="bold" text-anchor="middle" fill="#000">1</text>
<text x="51.40" y="338.00" font-size="6.7" font-weight="bold" text-anchor="middle" fill="#000">C</text>
<text x="63.86" y="331.10" font-size="6.7" font-weight="bold" text-anchor="middle" fill="#000">2</text>
<text x="63.86" y="338.00" font-size="6.7" font-weight="bold" text-anchor="middle" fill="#000">C</text>
<text x="76.33" y="331.10" font-size="6.7" font-weight="bold" text-anchor="middle" fill="#000">3</text>
<text x="76.33" y="338.00" font-size="6.7" font-weight="bold" text-anchor="middle" fill="#000">G</text>
<text x="88.79" y="331.10" font-size="6.7" font-weight="bold" text-anchor="middle" fill="#000">4</text>
<text x="88.79" y="338.00" font-size="6.7" font-weight="bold" text-anchor="middle" fill="#000">T</text>
<text x="101.26" y="331.10" font-size="6.7" font-weight="bold" text-anchor="middle" fill="#000">5</text>
<text x="101.26" y="338.00" font-size="6.7" font-weight="bold" text-anchor="middle" fill="#000">C</text>
<text x="113.72" y="331.10" font-size="6.7" font-weight="bold" text-anchor="middle" fill="#000">6</text>
<text x="113.72" y="338.00" font-size="6.7" font-weight="bold" text-anchor="middle" fill="#000">C</text>
<text x="126.19" y="331.10" font-size="6.7" font-weight="bold" text-anchor="middle" fill="#000">7</text>
<text x="126.19" y="338.00" font-size="6.7" font-weight="bold" text-anchor="middle" fill="#000">T</text>
<text x="138.66" y="331.10" font-size="6.7" font-weight="bold" text-anchor="middle" fill="#000">8</text>
<text x="138.66" y="338.00" font-size="6.7" font-weight="bold" text-anchor="middle" fill="#000">G</text>
<text x="151.12" y="331.10" font-size="6.7" font-weight="bold" text-anchor="middle" fill="#000">9</text>
<text x="151.12" y="338.00" font-size="6.7" font-weight="bold" text-anchor="middle" fill="#000">A</text>
<text x="163.59" y="331.10" font-size="6.7" font-weight="bold" text-anchor="middle" fill="#000">10</text>
<text x="163.59" y="338.00" font-size="6.7" font-weight="bold" text-anchor="middle" fill="#000">G</text>
<text x="176.05" y="331.10" font-size="6.7" font-weight="bold" text-anchor="middle" fill="#000">11</text>
<text x="176.05" y="338.00" font-size="6.7" font-weight="bold" text-anchor="middle" fill="#000">G</text>
<text x="188.52" y="331.10" font-size="6.7" font-weight="bold" text-anchor="middle" fill="#000">12</text>
<text x="188.52" y="338.00" font-size="6.7" font-weight="bold" text-anchor="middle" fill="#000">T</text>
<text x="200.98" y="331.10" font-size="6.7" font-weight="bold" text-anchor="middle" fill="#000">13</text>
<text x="200.98" y="338.00" font-size="6.7" font-weight="bold" text-anchor="middle" fill="#000">T</text>
<text x="213.44" y="331.10" font-size="6.7" font-weight="bold" text-anchor="middle" fill="#000">14</text>
<text x="213.44" y="338.00" font-size="6.7" font-weight="bold" text-anchor="middle" fill="#000">G</text>
<text x="225.91" y="331.10" font-size="6.7" font-weight="bold" text-anchor="middle" fill="#000">15</text>
<text x="225.91" y="338.00" font-size="6.7" font-weight="bold" text-anchor="middle" fill="#000">T</text>
<text x="238.38" y="331.10" font-size="6.7" font-weight="bold" text-anchor="middle" fill="#000">16</text>
<text x="238.38" y="338.00" font-size="6.7" font-weight="bold" text-anchor="middle" fill="#000">T</text>
<text x="250.84" y="331.10" font-size="6.7" font-weight="bold" text-anchor="middle" fill="#000">17</text>
<text x="250.84" y="338.00" font-size="6.7" font-weight="bold" text-anchor="middle" fill="#000">G</text>
<text x="263.31" y="331.10" font-size="6.7" font-weight="bold" text-anchor="middle" fill="#000">18</text>
<text x="263.31" y="338.00" font-size="6.7" font-weight="bold" text-anchor="middle" fill="#000">A</text>
<text x="275.77" y="331.10" font-size="6.7" font-weight="bold" text-anchor="middle" fill="#000">19</text>
<text x="275.77" y="338.00" font-size="6.7" font-weight="bold" text-anchor="middle" fill="#000">G</text>
<text x="288.24" y="331.10" font-size="6.7" font-weight="bold" text-anchor="middle" fill="#000">20</text>
<text x="288.24" y="338.00" font-size="6.7" font-weight="bold" text-anchor="middle" fill="#000">C</text>
<text x="300.70" y="331.10" font-size="6.7" font-weight="bold" text-anchor="middle" fill="#000">21</text>
<text x="300.70" y="338.00" font-size="6.7" font-weight="bold" text-anchor="middle" fill="#000">T</text>
<text x="163.50" y="348.70" font-size="9.7" font-weight="bold" text-anchor="middle" fill="#000">RNA position</text>
<circle cx="77.20" cy="240.4" r="1.3" fill="#d0d0d0"/>
<rect x="74.30" y="244.9" width="5.4" height="1.9" rx="0.9" fill="#000"/>
<circle cx="77.00" cy="248.0" r="2.3" fill="#d8d8d8"/>
<line x1="77.00" y1="241.80" x2="77.00" y2="245.50" stroke="#000" stroke-width="2.0" stroke-linecap="butt"/>
<line x1="74.90" y1="241.85" x2="79.10" y2="241.85" stroke="#000" stroke-width="1.9" stroke-linecap="round"/>
<text x="348.60" y="223.60" font-size="9.5" font-weight="bold" text-anchor="start" fill="#000">f</text>
<text x="511.05" y="229.90" font-size="9.8" font-weight="bold" text-anchor="middle"><tspan font-style="italic">M. m.</tspan> miR-25-5p brain (hippocampus)</text>
<text transform="translate(362.20,275.45) rotate(-90)" font-size="9.7" font-weight="bold" text-anchor="middle">ø (NCleavage)</text>
<line x1="390.75" y1="313.60" x2="401.45" y2="313.60" stroke="#b8bce6" stroke-width="0.7" stroke-linecap="butt"/>
<line x1="402.65" y1="313.60" x2="413.36" y2="313.60" stroke="#f2bcd4" stroke-width="0.7" stroke-linecap="butt"/>
<line x1="414.56" y1="313.60" x2="425.26" y2="313.60" stroke="#f2bcd4" stroke-width="0.7" stroke-linecap="butt"/>
<line x1="426.46" y1="313.60" x2="437.17" y2="313.60" stroke="#bfe2b8" stroke-width="0.7" stroke-linecap="butt"/>
<line x1="438.37" y1="313.60" x2="449.07" y2="313.60" stroke="#f2bcd4" stroke-width="0.7" stroke-linecap="butt"/>
<line x1="450.27" y1="313.60" x2="460.98" y2="313.60" stroke="#f2bcd4" stroke-width="0.7" stroke-linecap="butt"/>
<line x1="462.18" y1="313.60" x2="472.88" y2="313.60" stroke="#b8bce6" stroke-width="0.7" stroke-linecap="butt"/>
<line x1="474.08" y1="313.60" x2="484.79" y2="313.60" stroke="#f2bcd4" stroke-width="0.7" stroke-linecap="butt"/>
<line x1="485.99" y1="313.60" x2="496.69" y2="313.60" stroke="#b8bce6" stroke-width="0.7" stroke-linecap="butt"/>
<line x1="497.89" y1="313.60" x2="508.60" y2="313.60" stroke="#bfe2b8" stroke-width="0.7" stroke-linecap="butt"/>
<line x1="509.80" y1="313.60" x2="520.50" y2="313.60" stroke="#dddddd" stroke-width="0.7" stroke-linecap="butt"/>
<line x1="521.70" y1="313.60" x2="532.41" y2="313.60" stroke="#dddddd" stroke-width="0.7" stroke-linecap="butt"/>
<line x1="533.61" y1="313.60" x2="544.31" y2="313.60" stroke="#f2bcd4" stroke-width="0.7" stroke-linecap="butt"/>
<line x1="545.51" y1="313.60" x2="556.22" y2="313.60" stroke="#f2bcd4" stroke-width="0.7" stroke-linecap="butt"/>
<line x1="557.42" y1="313.60" x2="568.12" y2="313.60" stroke="#f2bcd4" stroke-width="0.7" stroke-linecap="butt"/>
<line x1="569.32" y1="313.60" x2="580.03" y2="313.60" stroke="#bfe2b8" stroke-width="0.7" stroke-linecap="butt"/>
<line x1="581.23" y1="313.60" x2="591.93" y2="313.60" stroke="#b8bce6" stroke-width="0.7" stroke-linecap="butt"/>
<line x1="593.13" y1="313.60" x2="603.84" y2="313.60" stroke="#b8bce6" stroke-width="0.7" stroke-linecap="butt"/>
<line x1="605.04" y1="313.60" x2="615.74" y2="313.60" stroke="#dddddd" stroke-width="0.7" stroke-linecap="butt"/>
<line x1="616.94" y1="313.60" x2="627.65" y2="313.60" stroke="#dddddd" stroke-width="0.7" stroke-linecap="butt"/>
<line x1="628.85" y1="313.60" x2="639.55" y2="313.60" stroke="#f2bcd4" stroke-width="0.7" stroke-linecap="butt"/>
<line x1="640.75" y1="313.60" x2="651.46" y2="313.60" stroke="#bfe2b8" stroke-width="0.7" stroke-linecap="butt"/>
<line x1="403.00" y1="313.60" x2="413.00" y2="313.60" stroke="#e888b0" stroke-width="0.95" stroke-linecap="butt"/>
<line x1="426.31" y1="313.60" x2="437.31" y2="313.60" stroke="#4aaa3a" stroke-width="0.95" stroke-linecap="butt"/>
<rect x="414.51" y="238.80" width="10.80" height="74.80" fill="#c80863"/>
<line x1="394.50" y1="313.60" x2="397.70" y2="313.60" stroke="#000" stroke-width="2.1" stroke-linecap="round"/>
<line x1="406.40" y1="313.60" x2="409.61" y2="313.60" stroke="#000" stroke-width="2.1" stroke-linecap="round"/>
<line x1="430.21" y1="313.60" x2="433.42" y2="313.60" stroke="#000" stroke-width="2.1" stroke-linecap="round"/>
<line x1="442.12" y1="313.60" x2="445.32" y2="313.60" stroke="#000" stroke-width="2.1" stroke-linecap="round"/>
<line x1="454.02" y1="313.60" x2="457.23" y2="313.60" stroke="#000" stroke-width="2.1" stroke-linecap="round"/>
<line x1="465.93" y1="313.60" x2="469.13" y2="313.60" stroke="#000" stroke-width="2.1" stroke-linecap="round"/>
<line x1="477.83" y1="313.60" x2="481.04" y2="313.60" stroke="#000" stroke-width="2.1" stroke-linecap="round"/>
<line x1="489.74" y1="313.60" x2="492.94" y2="313.60" stroke="#000" stroke-width="2.1" stroke-linecap="round"/>
<line x1="501.64" y1="313.60" x2="504.85" y2="313.60" stroke="#000" stroke-width="2.1" stroke-linecap="round"/>
<line x1="513.55" y1="313.60" x2="516.75" y2="313.60" stroke="#000" stroke-width="2.1" stroke-linecap="round"/>
<line x1="525.46" y1="313.60" x2="528.66" y2="313.60" stroke="#000" stroke-width="2.1" stroke-linecap="round"/>
<line x1="537.36" y1="313.60" x2="540.56" y2="313.60" stroke="#000" stroke-width="2.1" stroke-linecap="round"/>
<line x1="549.26" y1="313.60" x2="552.47" y2="313.60" stroke="#000" stroke-width="2.1" stroke-linecap="round"/>
<line x1="561.17" y1="313.60" x2="564.37" y2="313.60" stroke="#000" stroke-width="2.1" stroke-linecap="round"/>
<line x1="573.07" y1="313.60" x2="576.27" y2="313.60" stroke="#000" stroke-width="2.1" stroke-linecap="round"/>
<line x1="584.98" y1="313.60" x2="588.18" y2="313.60" stroke="#000" stroke-width="2.1" stroke-linecap="round"/>
<line x1="596.88" y1="313.60" x2="600.09" y2="313.60" stroke="#000" stroke-width="2.1" stroke-linecap="round"/>
<line x1="608.79" y1="313.60" x2="611.99" y2="313.60" stroke="#000" stroke-width="2.1" stroke-linecap="round"/>
<line x1="620.70" y1="313.60" x2="623.90" y2="313.60" stroke="#000" stroke-width="2.1" stroke-linecap="round"/>
<line x1="632.60" y1="313.60" x2="635.80" y2="313.60" stroke="#000" stroke-width="2.1" stroke-linecap="round"/>
<line x1="644.50" y1="313.60" x2="647.71" y2="313.60" stroke="#000" stroke-width="2.1" stroke-linecap="round"/>
<ellipse cx="408.00" cy="311.70" rx="1.49" ry="1.62" fill="#c4c4c4"/>
<rect x="405.31" y="312.17" width="5.40" height="2.27" rx="1.08" fill="#000"/>
<ellipse cx="431.81" cy="310.60" rx="1.71" ry="1.86" fill="#c4c4c4"/>
<rect x="428.71" y="310.90" width="6.20" height="2.60" rx="1.24" fill="#000"/>
<path d="M389.10,233.90 L389.10,318.00 L652.60,318.00" fill="none" stroke="#000" stroke-width="1.6"/>
<line x1="385.90" y1="313.60" x2="389.10" y2="313.60" stroke="#000" stroke-width="1.2" stroke-linecap="butt"/>
<text x="384.30" y="316.00" font-size="6.7" font-weight="bold" text-anchor="end" fill="#000">0</text>
<line x1="385.90" y1="294.10" x2="389.10" y2="294.10" stroke="#000" stroke-width="1.2" stroke-linecap="butt"/>
<text x="384.30" y="296.50" font-size="6.7" font-weight="bold" text-anchor="end" fill="#000">250</text>
<line x1="385.90" y1="275.00" x2="389.10" y2="275.00" stroke="#000" stroke-width="1.2" stroke-linecap="butt"/>
<text x="384.30" y="277.40" font-size="6.7" font-weight="bold" text-anchor="end" fill="#000">500</text>
<line x1="385.90" y1="256.00" x2="389.10" y2="256.00" stroke="#000" stroke-width="1.2" stroke-linecap="butt"/>
<text x="384.30" y="258.40" font-size="6.7" font-weight="bold" text-anchor="end" fill="#000">750</text>
<line x1="385.90" y1="238.90" x2="389.10" y2="238.90" stroke="#000" stroke-width="1.2" stroke-linecap="butt"/>
<text x="384.30" y="241.30" font-size="6.7" font-weight="bold" text-anchor="end" fill="#000">1000</text>
<line x1="396.10" y1="318.00" x2="396.10" y2="320.90" stroke="#000" stroke-width="1.2" stroke-linecap="butt"/>
<line x1="408.00" y1="318.00" x2="408.00" y2="320.90" stroke="#000" stroke-width="1.2" stroke-linecap="butt"/>
<line x1="419.91" y1="318.00" x2="419.91" y2="320.90" stroke="#000" stroke-width="1.2" stroke-linecap="butt"/>
<line x1="431.81" y1="318.00" x2="431.81" y2="320.90" stroke="#000" stroke-width="1.2" stroke-linecap="butt"/>
<line x1="443.72" y1="318.00" x2="443.72" y2="320.90" stroke="#000" stroke-width="1.2" stroke-linecap="butt"/>
<line x1="455.62" y1="318.00" x2="455.62" y2="320.90" stroke="#000" stroke-width="1.2" stroke-linecap="butt"/>
<line x1="467.53" y1="318.00" x2="467.53" y2="320.90" stroke="#000" stroke-width="1.2" stroke-linecap="butt"/>
<line x1="479.44" y1="318.00" x2="479.44" y2="320.90" stroke="#000" stroke-width="1.2" stroke-linecap="butt"/>
<line x1="491.34" y1="318.00" x2="491.34" y2="320.90" stroke="#000" stroke-width="1.2" stroke-linecap="butt"/>
<line x1="503.25" y1="318.00" x2="503.25" y2="320.90" stroke="#000" stroke-width="1.2" stroke-linecap="butt"/>
<line x1="515.15" y1="318.00" x2="515.15" y2="320.90" stroke="#000" stroke-width="1.2" stroke-linecap="butt"/>
<line x1="527.06" y1="318.00" x2="527.06" y2="320.90" stroke="#000" stroke-width="1.2" stroke-linecap="butt"/>
<line x1="538.96" y1="318.00" x2="538.96" y2="320.90" stroke="#000" stroke-width="1.2" stroke-linecap="butt"/>
<line x1="550.87" y1="318.00" x2="550.87" y2="320.90" stroke="#000" stroke-width="1.2" stroke-linecap="butt"/>
<line x1="562.77" y1="318.00" x2="562.77" y2="320.90" stroke="#000" stroke-width="1.2" stroke-linecap="butt"/>
<line x1="574.67" y1="318.00" x2="574.67" y2="320.90" stroke="#000" stroke-width="1.2" stroke-linecap="butt"/>
<line x1="586.58" y1="318.00" x2="586.58" y2="320.90" stroke="#000" stroke-width="1.2" stroke-linecap="butt"/>
<line x1="598.49" y1="318.00" x2="598.49" y2="320.90" stroke="#000" stroke-width="1.2" stroke-linecap="butt"/>
<line x1="610.39" y1="318.00" x2="610.39" y2="320.90" stroke="#000" stroke-width="1.2" stroke-linecap="butt"/>
<line x1="622.30" y1="318.00" x2="622.30" y2="320.90" stroke="#000" stroke-width="1.2" stroke-linecap="butt"/>
<line x1="634.20" y1="318.00" x2="634.20" y2="320.90" stroke="#000" stroke-width="1.2" stroke-linecap="butt"/>
<line x1="646.11" y1="318.00" x2="646.11" y2="320.90" stroke="#000" stroke-width="1.2" stroke-linecap="butt"/>
<text x="396.50" y="327.00" font-size="6.9" font-weight="bold" text-anchor="middle" fill="#000">1</text>
<text x="396.50" y="334.00" font-size="6.9" font-weight="bold" text-anchor="middle" fill="#000">A</text>
<text x="408.40" y="327.00" font-size="6.9" font-weight="bold" text-anchor="middle" fill="#000">2</text>
<text x="408.40" y="334.00" font-size="6.9" font-weight="bold" text-anchor="middle" fill="#000">G</text>
<text x="420.31" y="327.00" font-size="6.9" font-weight="bold" text-anchor="middle" fill="#000">3</text>
<text x="420.31" y="334.00" font-size="6.9" font-weight="bold" text-anchor="middle" fill="#000">G</text>
<text x="432.21" y="327.00" font-size="6.9" font-weight="bold" text-anchor="middle" fill="#000">4</text>
<text x="432.21" y="334.00" font-size="6.9" font-weight="bold" text-anchor="middle" fill="#000">C</text>
<text x="444.12" y="327.00" font-size="6.9" font-weight="bold" text-anchor="middle" fill="#000">5</text>
<text x="444.12" y="334.00" font-size="6.9" font-weight="bold" text-anchor="middle" fill="#000">G</text>
<text x="456.02" y="327.00" font-size="6.9" font-weight="bold" text-anchor="middle" fill="#000">6</text>
<text x="456.02" y="334.00" font-size="6.9" font-weight="bold" text-anchor="middle" fill="#000">G</text>
<text x="467.93" y="327.00" font-size="6.9" font-weight="bold" text-anchor="middle" fill="#000">7</text>
<text x="467.93" y="334.00" font-size="6.9" font-weight="bold" text-anchor="middle" fill="#000">A</text>
<text x="479.83" y="327.00" font-size="6.9" font-weight="bold" text-anchor="middle" fill="#000">8</text>
<text x="479.83" y="334.00" font-size="6.9" font-weight="bold" text-anchor="middle" fill="#000">G</text>
<text x="491.74" y="327.00" font-size="6.9" font-weight="bold" text-anchor="middle" fill="#000">9</text>
<text x="491.74" y="334.00" font-size="6.9" font-weight="bold" text-anchor="middle" fill="#000">A</text>
<text x="503.64" y="327.00" font-size="6.9" font-weight="bold" text-anchor="middle" fill="#000">10</text>
<text x="503.64" y="334.00" font-size="6.9" font-weight="bold" text-anchor="middle" fill="#000">C</text>
<text x="515.55" y="327.00" font-size="6.9" font-weight="bold" text-anchor="middle" fill="#000">11</text>
<text x="515.55" y="334.00" font-size="6.9" font-weight="bold" text-anchor="middle" fill="#000">T</text>
<text x="527.46" y="327.00" font-size="6.9" font-weight="bold" text-anchor="middle" fill="#000">12</text>
<text x="527.46" y="334.00" font-size="6.9" font-weight="bold" text-anchor="middle" fill="#000">T</text>
<text x="539.36" y="327.00" font-size="6.9" font-weight="bold" text-anchor="middle" fill="#000">13</text>
<text x="539.36" y="334.00" font-size="6.9" font-weight="bold" text-anchor="middle" fill="#000">G</text>
<text x="551.26" y="327.00" font-size="6.9" font-weight="bold" text-anchor="middle" fill="#000">14</text>
<text x="551.26" y="334.00" font-size="6.9" font-weight="bold" text-anchor="middle" fill="#000">G</text>
<text x="563.17" y="327.00" font-size="6.9" font-weight="bold" text-anchor="middle" fill="#000">15</text>
<text x="563.17" y="334.00" font-size="6.9" font-weight="bold" text-anchor="middle" fill="#000">G</text>
<text x="575.07" y="327.00" font-size="6.9" font-weight="bold" text-anchor="middle" fill="#000">16</text>
<text x="575.07" y="334.00" font-size="6.9" font-weight="bold" text-anchor="middle" fill="#000">C</text>
<text x="586.98" y="327.00" font-size="6.9" font-weight="bold" text-anchor="middle" fill="#000">17</text>
<text x="586.98" y="334.00" font-size="6.9" font-weight="bold" text-anchor="middle" fill="#000">A</text>
<text x="598.88" y="327.00" font-size="6.9" font-weight="bold" text-anchor="middle" fill="#000">18</text>
<text x="598.88" y="334.00" font-size="6.9" font-weight="bold" text-anchor="middle" fill="#000">A</text>
<text x="610.79" y="327.00" font-size="6.9" font-weight="bold" text-anchor="middle" fill="#000">19</text>
<text x="610.79" y="334.00" font-size="6.9" font-weight="bold" text-anchor="middle" fill="#000">T</text>
<text x="622.70" y="327.00" font-size="6.9" font-weight="bold" text-anchor="middle" fill="#000">20</text>
<text x="622.70" y="334.00" font-size="6.9" font-weight="bold" text-anchor="middle" fill="#000">T</text>
<text x="634.60" y="327.00" font-size="6.9" font-weight="bold" text-anchor="middle" fill="#000">21</text>
<text x="634.60" y="334.00" font-size="6.9" font-weight="bold" text-anchor="middle" fill="#000">G</text>
<text x="646.50" y="327.00" font-size="6.9" font-weight="bold" text-anchor="middle" fill="#000">22</text>
<text x="646.50" y="334.00" font-size="6.9" font-weight="bold" text-anchor="middle" fill="#000">C</text>
<text x="511.40" y="348.90" font-size="9.7" font-weight="bold" text-anchor="middle" fill="#000">RNA position</text>
<circle cx="419.91" cy="240.6" r="2.0" fill="#ddd"/>
<circle cx="419.91" cy="238.4" r="2.4" fill="#000"/>
<text x="160.50" y="374.00" font-size="9.4" font-weight="bold" text-anchor="start" fill="#000">base</text>
<rect x="223.20" y="367.1" width="8.4" height="9.5" fill="#3e3e96" stroke="#2f2f8a" stroke-width="0.8"/>
<text x="248.30" y="373.80" font-size="9.4" font-weight="bold" text-anchor="start" fill="#000">A</text>
<rect x="285.80" y="367.1" width="8.4" height="9.5" fill="#4aaa3a" stroke="#3fa32f" stroke-width="0.8"/>
<text x="311.40" y="373.80" font-size="9.4" font-weight="bold" text-anchor="start" fill="#000">C</text>
<rect x="349.40" y="367.1" width="8.4" height="9.5" fill="#cc0d62" stroke="#c00058" stroke-width="0.8"/>
<text x="374.90" y="373.80" font-size="9.4" font-weight="bold" text-anchor="start" fill="#000">G</text>
<rect x="412.30" y="367.1" width="8.4" height="9.5" fill="#6a6666" stroke="#5e5a5a" stroke-width="0.8"/>
<text x="437.80" y="373.80" font-size="9.4" font-weight="bold" text-anchor="start" fill="#000">U/T</text>
</svg></body></html>
